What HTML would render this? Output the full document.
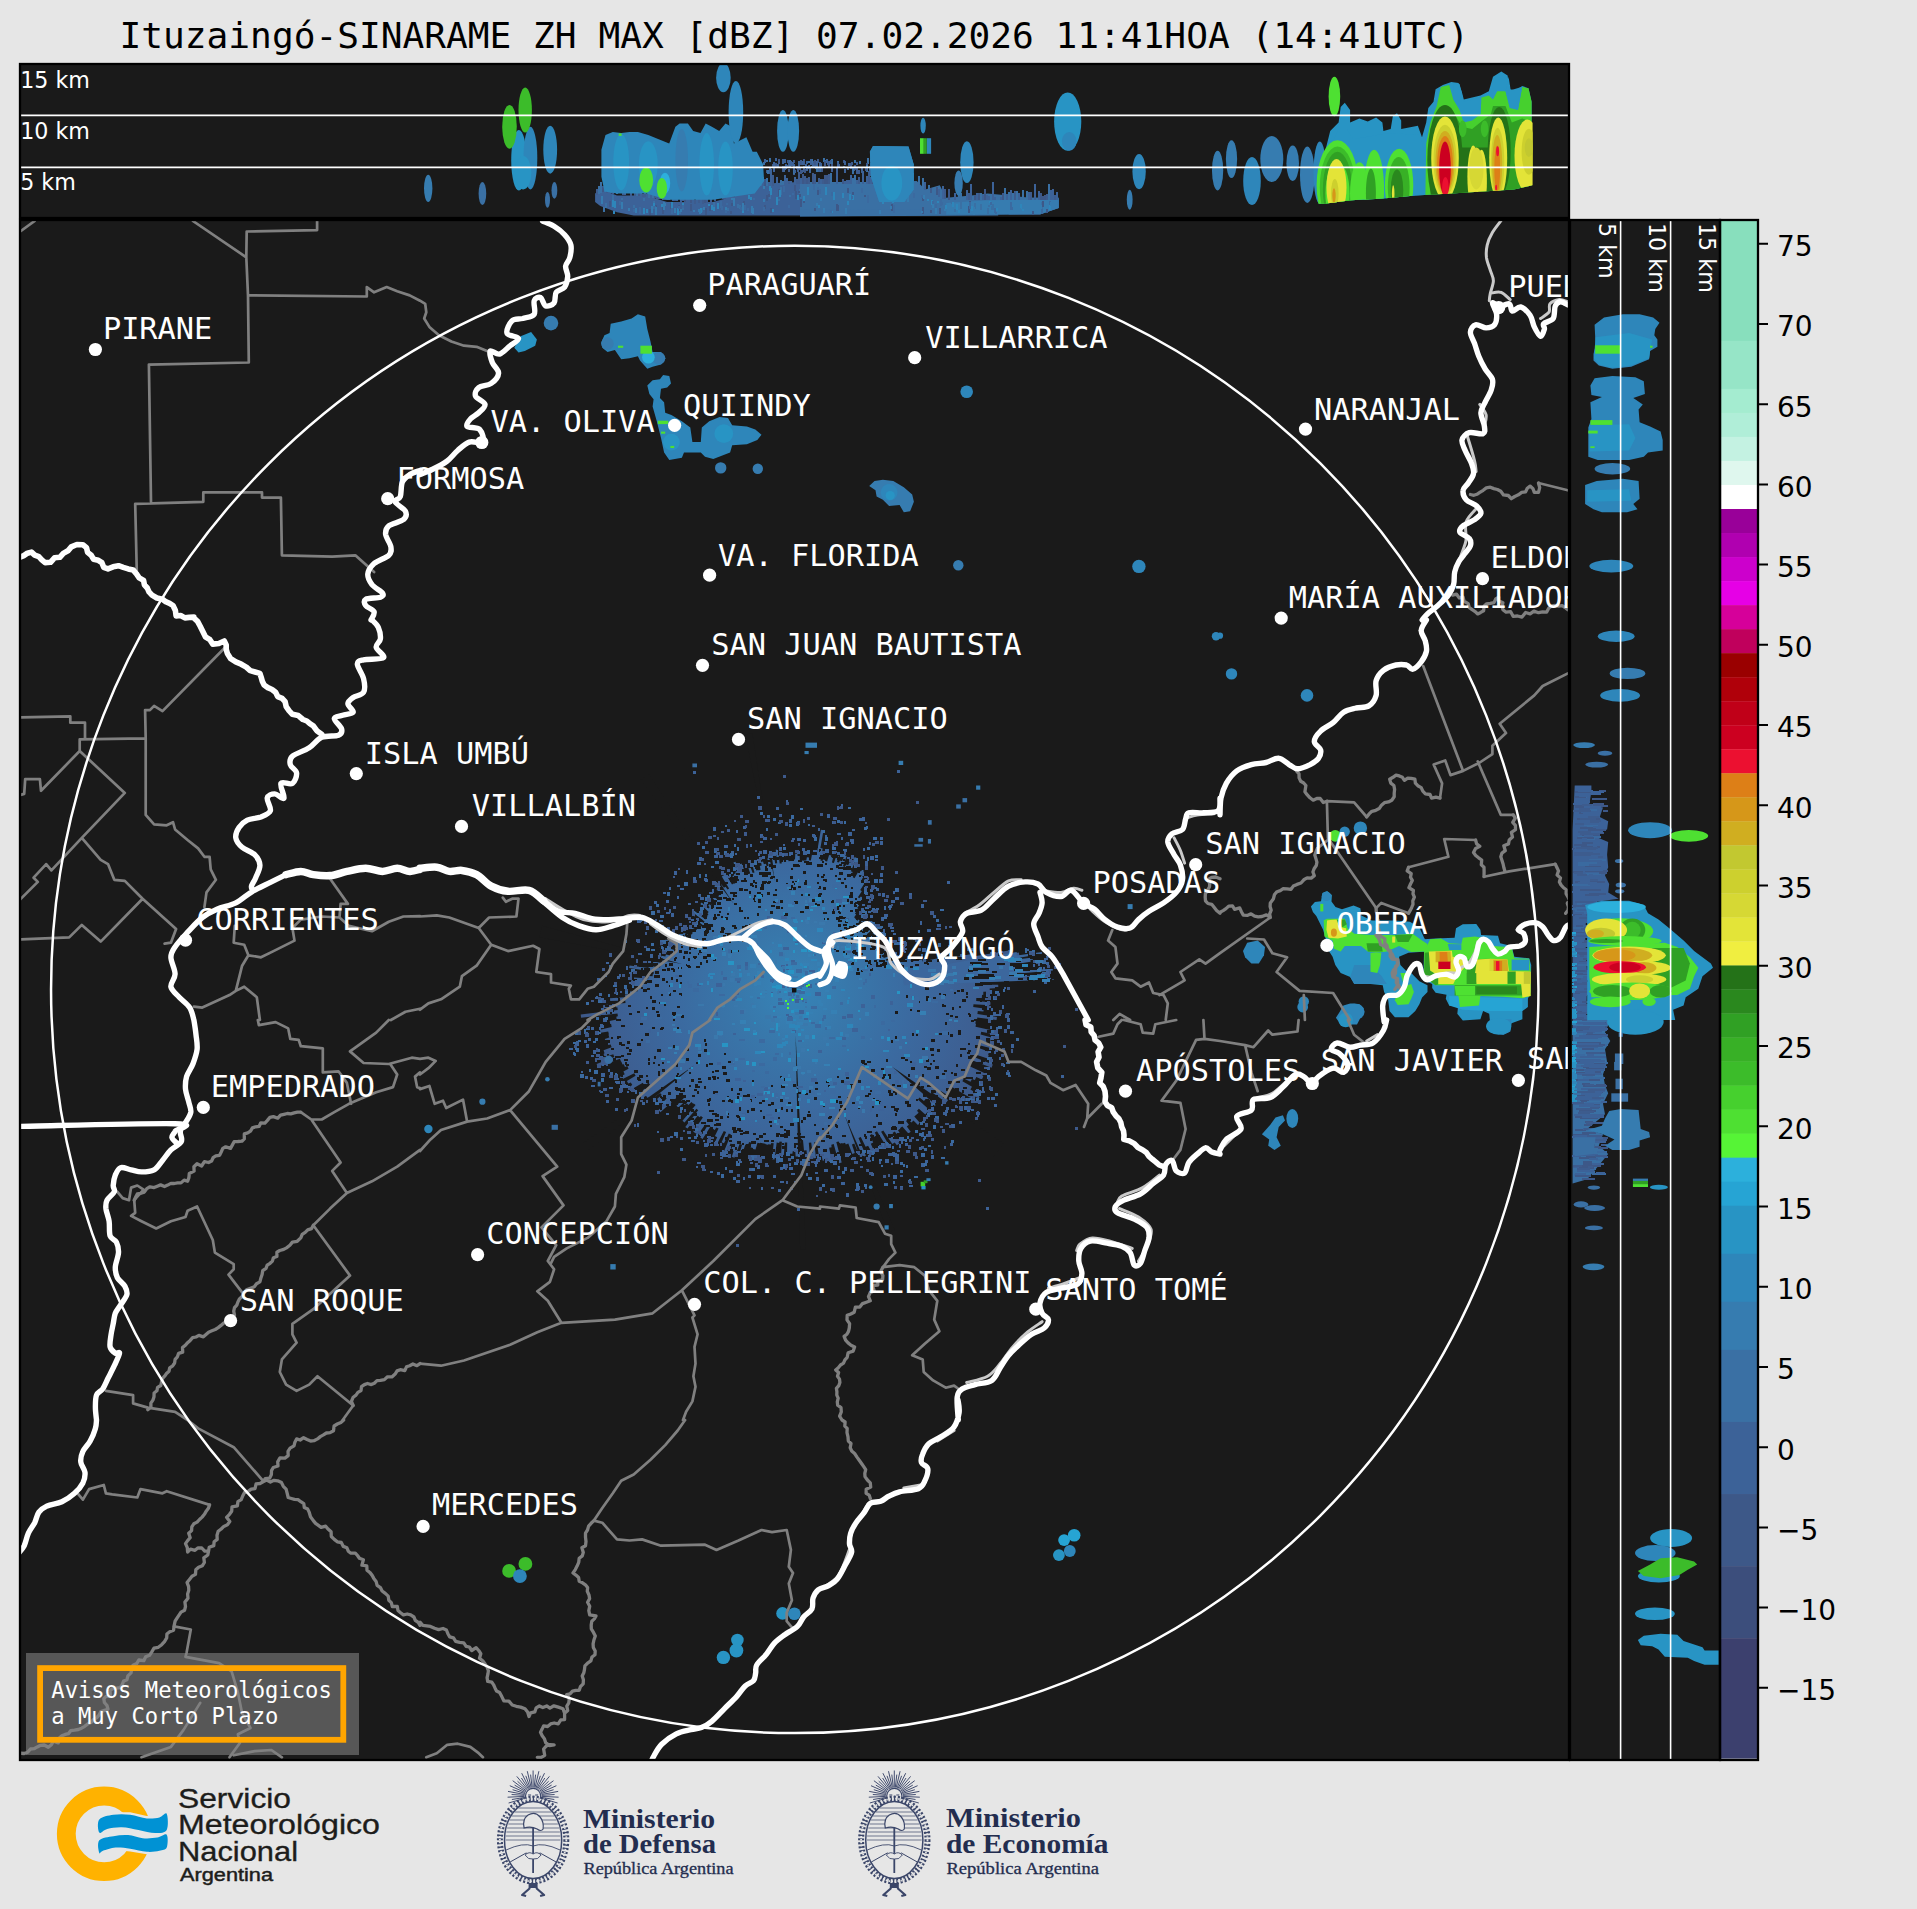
<!DOCTYPE html>
<html lang="es"><head><meta charset="utf-8"><title>Ituzaingó-SINARAME ZH MAX</title>
<style>
html,body{margin:0;padding:0;background:#e6e6e6;}
body{width:1917px;height:1909px;overflow:hidden;}
svg{display:block;}
.m{font-family:"DejaVu Sans Mono","Liberation Mono",monospace;}
.s{font-family:"DejaVu Sans","Liberation Sans",sans-serif;}
.ls{font-family:"Liberation Sans",sans-serif;}
.lr{font-family:"Liberation Serif",serif;}
</style></head><body>
<svg width="1917" height="1909" viewBox="0 0 1917 1909">
<rect width="1917" height="1909" fill="#e6e6e6"/>
<text class="m" x="119.5" y="48" font-size="36.16" fill="#000" xml:space="preserve">Ituzaingó-SINARAME ZH MAX [dBZ] 07.02.2026 11:41HOA (14:41UTC)</text>
<rect x="20" y="64" width="1549" height="154" fill="#1a1a1a"/>
<rect x="20" y="220" width="1549" height="1540" fill="#1a1a1a"/>
<rect x="1570" y="220" width="150" height="1540" fill="#1a1a1a"/>
<defs><clipPath id="cm"><rect x="21" y="221" width="1547" height="1538"/></clipPath><clipPath id="ct"><rect x="21" y="65" width="1547" height="152"/></clipPath><clipPath id="cr"><rect x="1571" y="221" width="148" height="1538"/></clipPath></defs>
<g clip-path="url(#cm)">
<defs><radialGradient id="cg" gradientUnits="userSpaceOnUse" cx="794" cy="990" r="215"><stop offset="0" stop-color="#3585b9"/><stop offset="0.25" stop-color="#3878ab"/><stop offset="0.55" stop-color="#3b6aa0"/><stop offset="0.85" stop-color="#3d5f92"/><stop offset="1" stop-color="#3d5888"/></radialGradient></defs>
<path d="M793 859.5 L795 859.5 L795.3 853.8 L797.4 853.8 L797.6 855.9 L799.7 856 L799.8 860.6 L801.8 860.7 L802 860.5 L804.1 860.7 L804.3 860.4 L806.3 860.6 L806.9 857.3 L809 857.5 L808.9 860.2 L810.9 860.4 L812.1 853.7 L814.2 854 L814.3 854.8 L816.5 855.1 L820.9 829.8 L823.5 830.3 L820.4 848.1 L822.7 848.5 L820.4 860.6 L822.5 861.1 L823 859.6 L825.1 860.1 L825.1 861 L827.1 861.5 L829.1 854.9 L831.2 855.4 L831 857.1 L833.1 857.7 L831.9 862.5 L833.9 863.1 L836.6 855.2 L838.7 855.9 L837 861.9 L839 862.6 L839.9 860.6 L842 861.3 L844.5 855.2 L846.7 856 L842.9 866.3 L844.8 867 L846.2 864.4 L848.1 865.2 L849.8 862 L851.8 862.9 L854.7 857.1 L856.8 858.1 L850.8 871.2 L852.7 872.1 L851.3 875.3 L853.1 876.2 L852.8 877.3 L854.5 878.3 L859 870.5 L860.9 871.5 L862.2 869.8 L864 870.8 L861.4 875.8 L863.2 876.9 L861.7 879.8 L863.4 880.9 L864.7 879.3 L866.4 880.4 L860.2 890.1 L861.8 891.2 L857.9 897.2 L859.3 898.2 L860.9 896.5 L862.3 897.5 L862.3 897.9 L863.7 899 L857.1 908 L858.4 909 L854.9 913.5 L856.1 914.5 L854.1 917.2 L855.2 918.2 L855.1 918.6 L856.2 919.6 L856.3 919.7 L857.4 920.7 L858.6 919.6 L859.7 920.7 L858.4 922.2 L859.5 923.2 L862.1 920.8 L863.2 921.9 L866.5 918.9 L867.6 920.1 L862.2 925.4 L863.2 926.5 L863.7 926.2 L864.7 927.4 L872 921.1 L873.1 922.4 L864.7 929.7 L865.7 930.8 L865.9 930.9 L866.8 932 L869.6 930 L870.5 931.2 L867.1 934 L868 935.1 L869.3 934.4 L870.2 935.6 L877.9 930.3 L878.8 931.6 L872.3 936.3 L873.1 937.5 L883.5 930.9 L884.4 932.3 L879.4 935.7 L880.3 937 L879.8 937.5 L880.6 938.9 L874.1 942.9 L874.9 944.2 L873.6 945 L874.3 946.3 L874.6 946.4 L875.2 947.6 L876 947.4 L876.6 948.7 L886.9 943.8 L887.6 945.3 L877.4 950.3 L878 951.6 L878.4 951.6 L879 953 L879.2 953.1 L879.7 954.4 L884.3 952.7 L884.9 954.1 L881.6 955.6 L882.1 957 L883.2 956.7 L883.7 958.1 L890.9 955.8 L891.5 957.3 L885.8 959.4 L886.3 960.8 L890.1 959.8 L890.6 961.3 L898.5 959.2 L898.9 960.8 L913.8 956.9 L914.3 958.8 L910.6 959.9 L911.1 961.8 L922.2 959.3 L922.6 961.4 L944.1 956.9 L944.6 959.2 L974.1 953.5 L974.7 956.3 L1008.7 950.4 L1009.3 953.8 L1018.8 952.6 L1019.4 956.1 L988.3 961.1 L988.7 964.2 L997.1 963.4 L997.5 966.6 L983.4 968.6 L983.7 971.6 L1029.1 967.6 L1029.5 971.3 L1012.3 973 L1012.6 976.4 L1031.7 975.7 L1031.9 979.4 L986.3 981.8 L986.4 984.8 L998.2 984.8 L998.3 988 L989.7 988.5 L989.7 991.5 L983.3 991.8 L983.3 994.8 L982 995.1 L981.8 998 L976.3 998.1 L976.2 1001 L990.5 1002.2 L990.3 1005.3 L973.5 1004.3 L973.2 1007.1 L983.8 1008.4 L983.4 1011.4 L977.8 1011.1 L977.4 1014 L997 1016.9 L996.5 1020.1 L977.3 1017.6 L976.9 1020.4 L975.9 1020.6 L975.3 1023.4 L976 1023.9 L975.5 1026.8 L995 1031.1 L994.3 1034.2 L981.2 1031.7 L980.6 1034.6 L991.4 1037.6 L990.6 1040.7 L986.7 1040 L985.9 1043 L990.3 1044.6 L989.4 1047.7 L980.3 1045.4 L979.4 1048.3 L989.1 1051.7 L988.1 1054.7 L988.7 1055.3 L987.6 1058.4 L976.2 1054.7 L975.2 1057.6 L992.8 1064.5 L991.6 1067.7 L971.4 1060 L970.2 1062.8 L970.2 1063.2 L969 1065.9 L983.8 1072.7 L982.4 1075.7 L983.3 1076.5 L981.9 1079.4 L976.3 1077.1 L974.9 1080 L972 1078.9 L970.5 1081.7 L963.8 1078.6 L962.4 1081.2 L972 1086.8 L970.4 1089.6 L980.5 1095.7 L978.8 1098.6 L972.8 1095.5 L971.1 1098.3 L952.5 1087.3 L950.9 1089.8 L948.6 1088.7 L947 1091.1 L948.9 1092.7 L947.3 1095.1 L940.8 1091.1 L939.2 1093.4 L948.1 1100.1 L946.3 1102.5 L931.9 1092.2 L930.2 1094.4 L937.6 1100.4 L935.9 1102.7 L936.7 1103.7 L934.9 1105.9 L925.8 1098.8 L924 1100.9 L919.6 1097.5 L917.9 1099.4 L932.6 1112.8 L930.6 1115 L927.2 1112.3 L925.3 1114.4 L918.9 1108.7 L917 1110.7 L918.6 1112.7 L916.7 1114.6 L916.3 1114.7 L914.3 1116.6 L920 1123 L917.9 1124.9 L913.5 1120.6 L911.4 1122.5 L908.1 1119.2 L906 1121 L908.9 1124.8 L906.8 1126.6 L910.7 1131.8 L908.4 1133.6 L902.3 1126.4 L900.1 1128.1 L900.2 1128.7 L898 1130.3 L900.3 1133.9 L898 1135.5 L894.7 1131.5 L892.5 1133 L899.3 1143.5 L896.9 1145.2 L894.7 1142.4 L892.3 1144 L883.3 1130.4 L881.1 1131.8 L889.8 1146.6 L887.3 1148.1 L877 1131.2 L874.8 1132.5 L876.2 1135.6 L873.9 1136.9 L872 1134 L869.8 1135.2 L873.2 1142.5 L870.8 1143.7 L873.8 1150.4 L871.3 1151.6 L868.1 1145.7 L865.6 1146.8 L860.8 1136.9 L858.5 1138 L865.9 1155.7 L863.3 1156.8 L862.6 1156 L860 1157 L854.3 1143.4 L851.9 1144.4 L854.8 1153.1 L852.3 1154.1 L848.3 1143.6 L845.8 1144.5 L845 1142.8 L842.6 1143.5 L842.1 1143 L839.7 1143.7 L838.7 1141.4 L836.3 1142 L841.7 1162.5 L839 1163.2 L833.7 1144.1 L831.3 1144.7 L831.6 1147.3 L829.1 1147.8 L831.9 1161.6 L829.2 1162.2 L828.7 1161.1 L826 1161.6 L825.4 1160.2 L822.7 1160.7 L821.3 1154 L818.7 1154.4 L816.6 1141.9 L814.2 1142.3 L816 1158.1 L813.3 1158.5 L811.2 1142.4 L808.8 1142.7 L810 1157.8 L807.4 1158 L806.5 1150.3 L804 1150.4 L803 1140.1 L800.7 1140.2 L800.6 1143.2 L798.1 1143.2 L798.2 1156.5 L795.6 1156.6 L795.3 1151.2 L792.7 1151.2 L792.4 1153.7 L789.9 1153.7 L789.5 1154.6 L787 1154.5 L787.2 1142.6 L784.8 1142.5 L783.6 1158.1 L780.9 1157.9 L781.9 1141.7 L779.6 1141.5 L779.1 1142.9 L776.7 1142.6 L774.5 1159.6 L771.9 1159.2 L773.7 1143.3 L771.3 1142.9 L770.8 1144.6 L768.3 1144.2 L768 1144.7 L765.6 1144.2 L765.4 1143.8 L762.9 1143.3 L762.7 1143.3 L760.3 1142.7 L759.9 1143.3 L757.5 1142.8 L755.5 1149.6 L753 1148.9 L753 1147.9 L750.5 1147.3 L751.5 1142.7 L749.1 1142 L747.8 1145.4 L745.4 1144.6 L741.9 1154.6 L739.4 1153.8 L742.1 1144.8 L739.6 1144 L734.4 1157.8 L731.8 1156.8 L733.6 1151.2 L731 1150.2 L733 1144.4 L730.6 1143.4 L726 1153.8 L723.4 1152.7 L731 1134.4 L728.8 1133.4 L724 1143.3 L721.6 1142.2 L726.1 1132.1 L723.8 1131 L717.3 1143.5 L714.9 1142.3 L717.2 1137.2 L714.9 1136 L718.6 1128.6 L716.4 1127.4 L714.7 1129.9 L712.5 1128.6 L712.6 1127.9 L710.5 1126.6 L702.6 1138.9 L700.3 1137.4 L707.3 1125.9 L705.1 1124.5 L698 1134.8 L695.7 1133.3 L695.4 1133.2 L693.2 1131.6 L702.9 1117.4 L700.9 1116 L699.7 1117.2 L697.7 1115.7 L687.4 1128.6 L685.3 1127 L698.2 1110.2 L696.4 1108.7 L684.5 1122.5 L682.5 1120.8 L695.6 1105 L693.8 1103.4 L693.2 1103.7 L691.4 1102.1 L688.5 1104.9 L686.7 1103.3 L684.7 1104.9 L682.9 1103.2 L678.3 1107.5 L676.5 1105.7 L684.4 1097.5 L682.7 1095.8 L682.4 1095.8 L680.7 1094 L660.4 1112.2 L658.5 1110.1 L665.3 1103.7 L663.5 1101.7 L666.6 1098.6 L664.9 1096.6 L658.8 1101.3 L657 1099.1 L661.8 1095 L660.1 1092.9 L651 1099.5 L649.3 1097.3 L647.7 1098.1 L646 1095.8 L642 1098.2 L640.3 1095.8 L644.4 1092.7 L642.8 1090.3 L650.1 1085.1 L648.6 1082.8 L644.3 1085.2 L642.8 1082.8 L629.6 1090.5 L628 1088 L632.3 1085.1 L630.8 1082.5 L628.3 1083.5 L626.9 1080.9 L635.6 1075.8 L634.3 1073.3 L621.2 1079.7 L619.8 1077 L624.7 1074.2 L623.4 1071.6 L628.5 1068.7 L627.3 1066.1 L625 1066.9 L623.8 1064.2 L622.6 1064.4 L621.4 1061.7 L621 1061.5 L619.9 1058.7 L597.7 1067.1 L596.6 1064 L614.3 1057 L613.3 1054.2 L604.6 1056.9 L603.6 1053.9 L604.5 1053.2 L603.6 1050.2 L611.6 1047.3 L610.7 1044.5 L608.2 1044.9 L607.4 1041.9 L605.6 1042.1 L604.8 1039.1 L609.3 1037.6 L608.5 1034.7 L608.9 1034.3 L608.2 1031.4 L600.5 1032.7 L599.9 1029.7 L611.7 1026.9 L611.1 1024.1 L610.2 1023.9 L609.7 1021 L616.7 1019.5 L616.3 1016.7 L617.9 1016.2 L617.5 1013.4 L581.1 1017.8 L580.7 1014.5 L617.7 1009.9 L617.4 1007.2 L603.3 1008.2 L603 1005.2 L625.5 1003.1 L625.3 1000.5 L610.2 1001.1 L610 998.2 L625.2 997.2 L625.1 994.6 L629.4 994.2 L629.4 991.6 L637.7 991.2 L637.7 988.8 L635.7 988.5 L635.7 986 L634 985.7 L634.1 983.2 L631 982.7 L631.2 980.2 L633.8 980.1 L634 977.5 L648.3 978.4 L648.5 976.1 L652.6 976.3 L652.8 974 L653.5 973.9 L653.8 971.7 L629.1 968.1 L629.5 965.6 L648.5 968.1 L648.9 965.8 L660 967.5 L660.4 965.4 L652.9 963.7 L653.3 961.5 L662 963 L662.4 961 L662.4 960.7 L662.9 958.6 L660.9 957.9 L661.4 955.8 L665.4 956.6 L665.9 954.6 L670.2 955.5 L670.7 953.6 L660.6 950.4 L661.3 948.3 L659.7 947.5 L660.4 945.4 L674.4 949.9 L675.1 948 L676.8 948.4 L677.5 946.6 L664.9 941.6 L665.7 939.6 L670.5 941.2 L671.3 939.3 L669.6 938.4 L670.5 936.4 L679.3 940 L680.1 938.2 L685.3 940.3 L686.1 938.6 L684.1 937.5 L684.9 935.7 L682.8 934.5 L683.7 932.7 L690.3 935.9 L691.2 934.3 L691.9 934.4 L692.7 932.8 L692.2 932.3 L693.2 930.7 L688.4 927.7 L689.4 926 L696.4 930.1 L697.4 928.6 L697.9 928.7 L698.9 927.2 L698.9 927 L699.9 925.5 L702.4 926.9 L703.4 925.5 L693.4 918.1 L694.6 916.6 L703.5 922.9 L704.6 921.5 L693 912.4 L694.3 910.8 L705.4 919.4 L706.5 918 L706.4 917.6 L707.5 916.3 L707.2 915.8 L708.4 914.4 L707.5 913.3 L708.7 912 L700.3 904 L701.7 902.5 L708.3 908.5 L709.6 907.2 L708.2 905.5 L709.5 904.2 L711 905.4 L712.4 904.1 L712.6 904 L713.9 902.8 L714.4 902.9 L715.7 901.7 L711.6 896.7 L713 895.4 L716.4 899 L717.9 897.8 L717.7 897.3 L719.2 896.1 L717.9 894.1 L719.4 892.9 L714.3 886 L716 884.7 L714.9 882.9 L716.6 881.7 L719.7 885.7 L721.4 884.5 L723.9 887.8 L725.5 886.8 L727.6 889.4 L729.1 888.4 L721.8 876.4 L723.6 875.3 L724.7 876.7 L726.5 875.6 L732 884.6 L733.7 883.6 L734.1 883.8 L735.7 882.9 L732.4 876.3 L734.2 875.3 L733.8 874.2 L735.7 873.3 L735.3 872 L737.2 871.1 L733.4 862.6 L735.4 861.7 L739 869.1 L740.9 868.3 L739.5 864.4 L741.5 863.6 L746.4 874.7 L748.2 874 L748.5 874.1 L750.3 873.4 L747.9 866.5 L749.9 865.8 L752.7 873 L754.5 872.4 L752.9 866.8 L754.8 866.2 L756.4 870.4 L758.3 869.9 L758.7 870.4 L760.6 869.8 L759.8 866.1 L761.7 865.6 L761 862 L763 861.5 L763.9 864.3 L765.9 863.8 L766.7 866.2 L768.6 865.8 L767.3 858.4 L769.4 858 L771.1 865.9 L773.1 865.5 L772 857.7 L774.1 857.3 L775.2 863.5 L777.2 863.3 L775.7 849.7 L777.9 849.5 L779.7 863.6 L781.7 863.4 L781.6 860.1 L783.7 859.9 L784 862 L786.1 861.9 L785.7 853 L787.9 852.9 L788.5 861.2 L790.5 861.1 L790.7 859.9 L792.8 859.9Z" fill="url(#cg)"/>
<path d="M795.6 1035 L806 1249.7 L800.1 1249.9Z" fill="#1a1a1a"/>
<path d="M892.5 1067 L1003.7 1143.7 L993.9 1156.3Z" fill="#1a1a1a"/>
<path d="M694.2 1065.2 L589.1 1150.1 L583.7 1142.8Z" fill="#1a1a1a"/>
<path d="M681.9 964.1 L539.4 937.3 L542.1 925.8Z" fill="#1a1a1a"/>
<path d="M774.9 881.7 L745.3 734.6 L752.4 733.3Z" fill="#1a1a1a"/>
<path d="M844.6 1115.2 L894.8 1229.7 L888 1232.4Z" fill="#1a1a1a"/>
<path d="M733.8 904 L640.8 779.9 L649 774.2Z" fill="#1a1a1a"/>
<path d="M902.5 971.8 L1016.6 951.9 L1016.9 953.5 L1016.5 954 L1016.8 955.5 L1041.9 952.1 L1042.1 953.8 L1020.5 957.4 L1020.7 958.9 L1051.4 955.2 L1051.6 957 L1030.4 960.1 L1030.6 961.8 L1016.3 963.9 L1016.5 965.4 L1018.2 965.6 L1018.3 967.2 L1027.4 966.7 L1027.6 968.3 L1039.3 967.7 L1039.4 969.4 L1052.7 968.7 L1052.9 970.5 L1015.3 973.7 L1015.4 975.3 L1027 974.9 L1027.1 976.6 L1018.7 977.4 L1018.7 979 L1054.5 977.7 L1054.6 979.5 L903.9 985.2Z" fill="#3c679d"/>
<path d="M843 951h2v2h-2zM913 1140h3v2h-3zM749 891h2v3h-2zM821 856h3v3h-3zM836 1100h2v3h-2zM851 887h2v2h-2zM919 1123h5v3h-5zM645 1033h4v3h-4zM874 960h3v2h-3zM698 1078h3v2h-3zM907 1104h4v3h-4zM845 867h5v3h-5zM770 911h3v3h-3zM985 1049h6v2h-6zM821 1164h3v3h-3zM710 954h3v2h-3zM802 843h3v2h-3zM944 1070h3v2h-3zM784 1129h2v2h-2zM888 1134h5v3h-5zM847 1097h2v3h-2zM708 1077h3v3h-3zM783 844h4v2h-4zM837 1161h2v2h-2zM950 1034h3v3h-3zM943 994h3v2h-3zM865 960h3v2h-3zM951 1072h2v2h-2zM696 1062h3v2h-3zM855 909h2v3h-2zM823 879h2v2h-2zM893 950h4v2h-4zM928 1119h3v3h-3zM705 1043h4v3h-4zM927 963h2v2h-2zM878 965h4v2h-4zM672 938h5v3h-5zM937 1049h3v3h-3zM831 901h3v2h-3zM706 1064h2v3h-2zM629 1049h3v3h-3zM848 1086h4v3h-4zM846 1077h3v2h-3zM895 1113h2v3h-2zM729 898h2v3h-2zM727 1116h2v2h-2zM806 861h3v2h-3zM736 873h4v2h-4zM855 952h2v2h-2zM916 1126h4v3h-4zM744 857h5v3h-5zM744 889h4v2h-4zM657 1103h4v3h-4zM879 960h6v2h-6zM758 901h3v2h-3zM879 928h2v2h-2zM696 926h5v2h-5zM842 1158h5v3h-5zM961 989h3v3h-3zM791 1109h2v3h-2zM826 1135h4v3h-4zM689 948h2v2h-2zM910 1084h3v2h-3zM819 893h3v2h-3zM838 867h5v2h-5zM848 868h4v2h-4zM727 913h2v2h-2zM841 882h3v2h-3zM968 1077h5v2h-5zM767 872h4v3h-4zM892 1084h3v2h-3zM691 1079h3v3h-3zM880 942h2v2h-2zM935 1107h6v2h-6zM755 1160h5v3h-5zM888 1077h3v2h-3zM839 1109h2v3h-2zM703 947h4v3h-4zM610 1010h4v2h-4zM694 1089h3v2h-3zM851 938h2v2h-2zM839 864h3v2h-3zM763 1133h3v2h-3zM896 960h5v2h-5zM754 895h2v3h-2zM861 893h3v3h-3zM776 906h4v3h-4zM707 1119h6v3h-6zM749 924h4v2h-4zM872 1106h2v2h-2zM804 861h4v2h-4zM776 1147h3v2h-3zM846 866h5v2h-5zM864 1157h4v3h-4zM792 881h2v2h-2zM968 1094h5v2h-5zM745 1131h4v3h-4zM999 1050h2v2h-2zM805 880h2v2h-2zM749 865h3v2h-3zM935 1066h4v3h-4zM821 1140h4v2h-4zM616 1019h5v2h-5zM714 1124h4v2h-4zM856 917h2v3h-2zM677 1027h2v2h-2zM603 1056h4v3h-4zM759 872h4v3h-4zM871 968h2v2h-2zM686 935h5v3h-5zM863 892h4v3h-4zM841 1080h3v3h-3zM837 853h3v3h-3zM728 1061h3v2h-3zM861 1150h3v3h-3zM763 1116h2v3h-2zM839 966h2v3h-2zM630 977h4v3h-4zM803 1153h2v3h-2zM761 872h6v2h-6zM927 960h5v2h-5zM709 1063h4v2h-4zM695 1085h3v3h-3zM714 891h5v2h-5zM962 1048h4v2h-4zM924 1127h4v3h-4zM704 1125h6v2h-6zM926 1059h3v3h-3zM870 948h5v2h-5zM835 1160h4v2h-4zM628 985h4v2h-4zM773 857h6v3h-6zM930 1063h2v2h-2zM773 901h3v2h-3zM780 852h5v3h-5zM863 906h3v2h-3zM815 1082h3v2h-3zM794 1143h5v2h-5zM708 1103h2v3h-2zM611 1048h3v2h-3zM640 1098h4v2h-4zM675 1087h3v3h-3zM854 905h3v2h-3zM957 990h3v2h-3zM697 1091h2v3h-2zM671 968h3v2h-3zM825 863h2v2h-2zM858 903h4v2h-4zM782 1146h5v3h-5zM761 894h2v3h-2zM779 1162h4v3h-4zM954 992h2v2h-2zM860 862h5v3h-5zM960 1048h4v2h-4zM789 844h5v2h-5zM757 913h2v3h-2zM661 1097h2v3h-2zM684 929h3v3h-3zM644 981h3v3h-3zM601 1047h5v2h-5zM667 944h3v2h-3zM961 1069h4v2h-4zM936 1111h5v2h-5zM739 1118h2v3h-2zM724 1053h2v2h-2zM755 867h3v2h-3zM723 935h3v3h-3zM688 966h3v2h-3zM693 1113h4v3h-4zM621 1055h3v2h-3zM942 1004h2v3h-2zM798 1092h3v2h-3zM641 1039h2v2h-2zM862 947h4v3h-4zM625 1089h5v3h-5zM772 905h3v2h-3zM805 904h3v2h-3zM784 1136h4v2h-4zM857 1097h2v3h-2zM959 1097h6v2h-6zM922 1074h2v3h-2zM993 1045h3v3h-3zM969 1014h2v3h-2zM942 1073h3v2h-3zM711 1127h2v3h-2zM717 902h4v3h-4zM798 886h3v2h-3zM651 954h4v3h-4zM681 1101h6v2h-6zM646 1075h2v2h-2zM715 917h2v2h-2zM928 1114h3v3h-3zM849 966h2v3h-2zM730 1135h2v3h-2zM818 894h3v3h-3zM826 1081h3v2h-3zM816 1132h2v2h-2zM689 1072h2v2h-2zM837 1076h2v2h-2zM910 966h3v2h-3zM974 1019h3v2h-3zM927 1108h4v2h-4zM740 1133h3v2h-3zM800 911h4v2h-4zM891 1106h4v2h-4zM758 857h6v2h-6zM752 865h5v2h-5zM683 956h2v3h-2zM818 1154h3v3h-3zM738 1115h2v3h-2zM705 906h2v2h-2zM960 1054h2v3h-2zM896 1109h2v3h-2zM895 1011h3v3h-3zM871 1135h2v3h-2zM669 939h6v2h-6zM696 918h3v3h-3zM756 1138h3v2h-3zM588 1026h3v2h-3zM822 1114h3v2h-3zM674 958h2v3h-2zM710 1144h6v3h-6zM727 1096h2v2h-2zM882 949h5v3h-5zM781 1107h2v3h-2zM882 1077h3v2h-3zM871 938h3v3h-3zM805 906h4v3h-4zM728 1099h3v3h-3zM855 902h6v2h-6zM819 886h2v3h-2zM836 917h4v3h-4zM714 914h2v3h-2zM661 1027h3v2h-3zM653 1106h6v3h-6zM712 930h2v2h-2zM886 941h3v2h-3zM719 881h2v3h-2zM602 1040h5v2h-5zM895 1036h2v3h-2zM715 1114h4v3h-4zM926 996h3v3h-3zM861 953h2v2h-2zM829 1162h2v2h-2zM1011 949h3v2h-3zM757 853h3v2h-3zM836 1125h2v3h-2zM851 926h3v2h-3zM659 1002h3v2h-3zM840 1105h3v3h-3zM925 987h4v3h-4zM924 1066h3v2h-3zM989 1079h2v2h-2zM846 850h2v3h-2zM862 916h3v3h-3zM792 845h4v3h-4zM745 925h3v2h-3zM784 913h4v3h-4zM784 1133h6v3h-6zM866 1156h2v3h-2zM850 942h2v2h-2zM857 968h2v3h-2zM680 982h2v2h-2zM731 1100h2v3h-2zM687 921h6v3h-6zM689 922h5v2h-5zM732 892h5v2h-5zM702 938h2v3h-2zM715 1145h3v3h-3zM845 885h2v3h-2zM646 963h6v2h-6zM860 908h3v2h-3zM771 1085h2v2h-2zM713 1077h3v3h-3zM733 1159h2v2h-2zM652 1000h4v3h-4zM771 1151h2v3h-2zM673 1015h2v3h-2zM800 1136h5v2h-5zM865 1095h4v2h-4zM727 934h4v3h-4zM669 993h2v3h-2zM615 1056h6v2h-6zM746 865h5v3h-5zM948 1081h4v3h-4zM671 937h2v3h-2zM757 853h2v3h-2zM801 894h2v2h-2zM933 1060h2v2h-2zM875 922h3v2h-3zM706 891h2v3h-2zM686 1100h4v2h-4zM776 1133h2v3h-2zM849 926h2v2h-2zM850 850h6v3h-6zM699 1139h3v2h-3zM706 890h6v3h-6zM613 1006h3v3h-3zM725 1137h4v3h-4zM746 1144h5v3h-5zM927 1067h4v3h-4zM772 876h3v2h-3zM721 928h4v3h-4zM801 1120h2v3h-2zM823 912h4v2h-4zM709 1098h2v3h-2zM704 938h2v2h-2zM785 857h4v3h-4zM934 1095h4v3h-4zM776 1152h3v3h-3zM584 1046h2v3h-2zM798 851h6v2h-6zM765 868h3v3h-3zM707 1099h3v3h-3zM958 1030h3v3h-3zM768 1145h3v2h-3zM706 927h5v3h-5zM931 1039h4v3h-4zM739 1088h3v3h-3zM769 864h4v3h-4zM875 1153h4v2h-4zM733 1130h4v3h-4zM793 864h6v3h-6zM923 1094h3v3h-3zM634 1070h4v3h-4zM892 1126h4v2h-4zM767 872h3v3h-3zM679 993h3v3h-3zM881 1068h3v2h-3zM862 908h3v3h-3zM769 1157h4v2h-4zM843 867h2v3h-2zM674 1101h3v2h-3zM981 1059h4v3h-4zM833 935h2v2h-2zM882 945h4v3h-4zM723 897h4v2h-4zM844 937h4v2h-4zM811 899h4v3h-4zM686 936h2v2h-2zM737 1096h2v3h-2zM910 1009h2v2h-2zM927 1085h5v2h-5zM718 897h4v3h-4zM872 940h4v3h-4zM713 917h3v3h-3zM799 1160h2v3h-2zM720 1116h3v3h-3zM814 846h4v2h-4zM862 1062h3v3h-3zM750 1099h4v3h-4zM962 1090h2v3h-2zM908 1074h2v3h-2zM945 1022h2v3h-2zM658 1071h2v2h-2zM660 1028h3v2h-3zM743 1132h4v2h-4zM915 964h4v2h-4zM968 1043h2v2h-2zM610 1083h3v3h-3zM897 1085h4v2h-4zM865 919h4v2h-4zM987 1015h3v2h-3zM737 1116h3v2h-3zM603 1059h4v3h-4zM742 926h3v3h-3zM887 955h4v2h-4zM692 945h3v3h-3zM705 930h4v3h-4zM928 1111h5v3h-5zM619 1042h3v3h-3zM850 910h3v2h-3zM673 1019h2v2h-2zM867 1147h2v3h-2zM742 1143h2v2h-2zM640 1023h3v3h-3zM758 906h3v2h-3zM711 907h2v2h-2zM821 876h3v2h-3zM881 1142h6v2h-6zM869 872h3v3h-3zM607 1062h3v2h-3zM903 959h2v3h-2zM832 855h6v3h-6zM879 939h4v3h-4zM838 878h3v2h-3zM876 964h2v3h-2zM662 1062h2v2h-2zM780 1134h5v3h-5zM606 1041h2v3h-2zM853 925h2v2h-2zM709 1110h5v2h-5zM959 1032h2v2h-2zM836 884h2v2h-2zM621 1044h4v2h-4zM822 1128h2v2h-2zM830 868h3v2h-3zM973 1091h3v2h-3zM762 874h6v3h-6zM733 880h4v3h-4zM858 870h2v3h-2zM939 1033h4v2h-4zM861 900h5v3h-5zM675 1080h2v3h-2zM873 921h5v2h-5zM862 905h3v2h-3zM799 1136h2v3h-2zM712 1071h2v2h-2zM867 928h3v2h-3zM707 926h4v3h-4zM689 922h6v3h-6zM832 911h3v3h-3zM824 918h2v2h-2zM861 1060h4v3h-4zM732 1127h4v3h-4zM864 1134h2v3h-2zM682 1110h2v3h-2zM975 1045h3v3h-3zM872 923h4v2h-4zM619 1001h2v3h-2zM755 885h2v3h-2zM870 1090h2v2h-2zM759 1102h3v2h-3zM884 953h3v2h-3zM743 1095h4v2h-4zM700 920h3v2h-3zM742 1149h4v2h-4zM625 1062h2v3h-2zM870 925h4v3h-4zM867 1061h4v2h-4zM823 1104h2v3h-2zM747 917h2v2h-2zM727 873h2v3h-2zM958 1096h4v3h-4zM922 1115h5v3h-5zM726 1079h4v3h-4zM706 960h2v3h-2zM931 1096h4v3h-4zM807 894h3v2h-3zM878 929h3v2h-3zM994 990h5v3h-5zM911 1067h4v3h-4zM704 902h4v2h-4zM680 938h3v3h-3zM627 1053h4v2h-4zM770 1125h2v2h-2zM923 958h3v3h-3zM894 1108h2v3h-2zM727 1113h2v2h-2zM840 1165h2v2h-2zM861 937h2v3h-2zM923 1092h4v2h-4zM822 861h2v2h-2zM676 1097h3v3h-3zM700 962h2v3h-2zM768 881h3v2h-3zM931 1090h5v3h-5zM936 1076h3v3h-3zM714 887h5v2h-5zM801 846h5v3h-5zM736 1115h2v2h-2zM871 929h5v3h-5zM892 951h6v2h-6zM921 1086h3v2h-3zM931 1054h3v2h-3zM643 982h4v2h-4zM875 1100h4v3h-4zM705 912h2v2h-2zM765 866h2v2h-2zM721 916h2v2h-2zM879 955h2v3h-2zM900 964h2v3h-2zM892 1134h5v2h-5zM850 1084h4v3h-4zM639 964h3v3h-3zM742 939h3v3h-3zM841 862h5v2h-5zM853 951h2v3h-2zM689 946h4v2h-4zM648 1086h3v2h-3zM980 999h2v3h-2zM743 1149h6v3h-6zM769 1121h3v2h-3zM753 1097h3v2h-3zM787 884h2v2h-2zM715 1070h4v2h-4zM751 1108h4v3h-4zM605 1005h4v2h-4zM618 1036h3v2h-3zM955 1098h5v2h-5zM744 917h2v2h-2zM664 941h5v2h-5zM927 1125h5v2h-5zM812 853h4v2h-4zM954 1073h3v3h-3zM716 907h6v2h-6zM741 869h4v3h-4zM956 1081h4v2h-4zM683 1124h2v2h-2zM921 957h3v2h-3zM725 931h2v3h-2zM609 1070h4v2h-4zM968 1050h3v2h-3zM826 1131h3v3h-3zM663 1095h3v3h-3zM817 882h2v2h-2zM864 928h4v3h-4zM677 1006h3v2h-3zM734 927h3v2h-3zM780 1076h2v2h-2zM680 1093h2v3h-2zM771 905h2v2h-2zM646 1007h2v2h-2zM918 1001h2v2h-2zM786 1130h4v3h-4zM952 1007h2v3h-2zM751 1141h5v3h-5zM956 1064h2v3h-2zM633 979h4v2h-4zM793 1161h4v3h-4zM685 934h2v2h-2zM837 857h3v3h-3zM994 1077h2v3h-2zM707 924h6v3h-6zM675 1102h3v3h-3zM898 1121h6v3h-6zM667 951h6v3h-6zM689 922h3v3h-3zM794 901h4v3h-4zM771 1140h3v2h-3zM872 935h4v2h-4zM934 1108h5v2h-5zM627 1041h3v3h-3zM646 1080h3v3h-3zM950 1015h3v2h-3zM842 1135h4v2h-4zM860 929h2v3h-2zM693 956h4v2h-4zM795 880h4v2h-4zM970 1055h5v3h-5zM722 948h3v2h-3zM882 963h3v3h-3zM732 877h5v3h-5zM619 987h5v3h-5zM907 1119h4v2h-4zM704 923h4v2h-4zM854 865h3v3h-3zM798 1158h2v2h-2zM829 1136h3v3h-3zM851 962h3v3h-3zM869 924h2v2h-2zM858 1080h3v3h-3zM645 972h4v2h-4zM859 867h4v3h-4zM641 987h2v2h-2zM805 1093h3v2h-3zM792 849h4v3h-4zM784 1078h4v3h-4zM780 1099h3v3h-3zM662 1069h3v3h-3zM648 1058h2v3h-2zM662 945h5v3h-5zM836 865h3v3h-3zM652 1027h3v2h-3zM839 1150h4v3h-4zM855 855h5v2h-5zM688 958h2v3h-2zM893 1137h4v2h-4zM861 1142h2v2h-2zM851 873h2v2h-2zM730 1149h3v2h-3zM653 1062h2v2h-2zM877 927h4v2h-4zM861 969h2v3h-2zM689 929h5v3h-5zM843 859h2v2h-2zM945 1032h4v3h-4zM597 1045h5v3h-5zM721 943h2v3h-2zM776 879h2v3h-2zM762 1100h3v2h-3zM629 1013h3v2h-3zM823 874h2v2h-2zM958 1033h3v2h-3zM872 965h3v2h-3zM883 962h4v3h-4zM692 1133h3v2h-3zM698 1054h3v3h-3zM836 1117h3v2h-3zM861 908h4v3h-4zM739 1153h6v3h-6zM821 864h2v3h-2zM863 927h5v2h-5zM676 1062h2v2h-2zM979 1094h5v3h-5zM867 882h4v2h-4zM768 1104h3v2h-3zM871 944h6v3h-6zM876 962h2v2h-2zM724 882h4v2h-4zM808 843h3v2h-3zM673 990h3v2h-3zM870 1138h2v3h-2zM861 919h4v2h-4zM662 969h4v2h-4zM910 1061h2v2h-2zM694 947h3v2h-3zM804 843h5v3h-5zM696 966h4v2h-4zM861 942h2v2h-2zM867 965h3v2h-3zM792 850h5v2h-5zM645 962h6v2h-6zM677 1107h3v2h-3zM771 865h5v3h-5zM677 927h2v3h-2zM674 949h3v3h-3zM650 958h5v2h-5zM652 960h4v2h-4zM828 1117h3v2h-3zM910 1134h5v3h-5zM861 880h3v3h-3zM798 865h2v2h-2zM816 1132h3v3h-3zM867 934h4v3h-4zM815 1088h3v2h-3zM789 887h3v3h-3zM633 1091h2v2h-2zM831 850h4v3h-4zM764 881h2v3h-2zM717 897h5v3h-5zM761 873h4v2h-4zM771 876h2v2h-2zM729 940h2v3h-2zM729 1140h3v2h-3zM611 1008h3v2h-3zM717 892h4v3h-4zM764 881h3v2h-3zM730 892h5v2h-5zM690 929h6v3h-6zM621 989h6v3h-6zM924 1056h3v2h-3zM891 950h4v2h-4zM876 947h5v2h-5zM753 1133h3v2h-3zM672 946h3v3h-3zM599 1041h5v3h-5zM716 1143h4v3h-4zM894 958h4v2h-4zM773 1149h2v3h-2zM673 969h2v3h-2zM995 1069h2v3h-2zM894 1134h5v3h-5zM675 957h2v2h-2zM692 1095h3v2h-3zM930 1048h4v3h-4zM630 1092h5v2h-5zM936 1111h4v3h-4zM855 926h2v2h-2zM637 1043h4v3h-4zM944 1005h2v2h-2zM635 986h3v2h-3zM857 954h2v3h-2zM913 1142h5v3h-5zM689 952h2v2h-2zM764 1140h5v2h-5zM605 1076h2v2h-2zM638 1079h3v2h-3zM993 1020h4v2h-4zM718 935h2v3h-2zM718 887h5v3h-5zM600 1047h4v3h-4zM655 971h4v3h-4zM734 903h3v2h-3zM928 1100h2v2h-2zM891 1040h2v3h-2zM917 1010h3v2h-3zM830 849h4v3h-4zM695 1084h3v2h-3zM956 957h2v3h-2zM681 946h2v2h-2zM817 864h5v3h-5zM675 1101h6v2h-6zM782 1143h2v2h-2zM767 882h3v2h-3zM668 1092h3v3h-3zM712 902h2v3h-2zM842 934h2v2h-2zM628 1005h3v2h-3zM618 998h2v3h-2zM749 857h6v2h-6zM856 972h4v3h-4zM737 1141h4v3h-4zM912 1033h2v3h-2zM844 1082h3v2h-3zM960 1100h5v3h-5zM850 892h3v3h-3zM711 880h2v3h-2zM889 965h2v2h-2zM583 1044h4v3h-4zM656 1011h3v2h-3zM846 946h4v3h-4zM819 849h2v3h-2zM894 960h4v3h-4zM739 1130h4v2h-4zM732 898h2v2h-2zM731 1088h2v3h-2zM837 1143h3v2h-3zM593 1029h2v3h-2zM694 905h3v3h-3zM856 923h3v2h-3zM660 946h2v3h-2zM661 994h2v2h-2zM869 878h4v2h-4zM904 1145h2v2h-2zM657 1106h5v2h-5zM810 851h4v2h-4zM703 956h4v3h-4zM862 904h5v2h-5zM819 857h2v2h-2zM643 1084h3v3h-3zM747 1110h2v3h-2zM911 959h2v3h-2zM723 1072h4v3h-4zM677 1047h2v2h-2zM850 901h3v3h-3zM869 934h5v2h-5zM837 905h4v2h-4zM776 1135h3v2h-3zM607 1010h2v2h-2zM820 855h5v2h-5zM753 880h2v3h-2zM736 950h3v2h-3zM855 952h3v3h-3zM946 1013h3v2h-3zM946 1088h5v3h-5zM679 975h3v2h-3zM771 1102h3v3h-3zM696 1086h4v2h-4zM773 894h4v2h-4zM661 1087h3v2h-3zM958 957h4v3h-4zM866 911h4v3h-4zM884 938h5v3h-5zM906 995h2v3h-2zM688 1105h4v2h-4zM701 1122h5v2h-5zM826 918h3v2h-3zM847 947h3v3h-3zM739 888h4v3h-4zM888 1136h3v2h-3zM828 1125h2v2h-2zM914 1131h2v2h-2zM658 1064h2v2h-2zM835 907h4v3h-4zM676 1064h2v3h-2zM868 884h3v3h-3zM739 1108h2v3h-2zM807 847h4v3h-4zM657 1014h3v3h-3zM916 1099h2v2h-2zM879 941h2v2h-2zM711 894h3v2h-3zM824 1159h2v2h-2zM712 941h2v3h-2zM839 1101h3v3h-3zM843 917h3v2h-3zM733 894h2v2h-2zM868 961h3v3h-3zM901 1057h4v2h-4zM807 1114h4v3h-4zM863 906h6v2h-6zM883 941h4v2h-4zM995 1009h5v2h-5zM835 1124h2v3h-2zM658 1073h2v3h-2zM808 1111h2v2h-2zM660 1096h2v2h-2zM678 1059h3v2h-3zM918 1135h3v2h-3zM932 1116h4v2h-4zM837 1152h3v2h-3zM1002 1037h2v3h-2zM705 1144h3v2h-3zM806 843h4v2h-4zM781 1162h3v2h-3zM937 959h2v3h-2zM829 1116h3v2h-3zM876 1114h2v3h-2zM679 975h2v2h-2zM713 1091h3v3h-3zM731 1144h4v3h-4zM867 912h2v2h-2zM856 936h2v2h-2zM874 944h5v3h-5zM739 1107h2v3h-2zM767 860h4v2h-4zM670 932h5v2h-5zM765 853h3v2h-3zM695 919h6v2h-6zM794 1137h5v2h-5zM722 1100h3v2h-3zM694 908h4v3h-4zM770 1149h2v2h-2zM823 1149h4v3h-4zM621 1074h2v3h-2zM687 965h3v2h-3zM767 892h3v3h-3zM760 853h2v3h-2zM926 1099h3v2h-3zM657 1104h2v2h-2zM714 900h2v3h-2zM750 874h3v3h-3zM843 1108h3v2h-3zM618 1078h5v3h-5zM698 1081h4v2h-4zM671 1099h2v3h-2zM946 1040h2v3h-2zM693 917h6v2h-6zM806 862h6v3h-6zM661 948h4v2h-4zM982 1008h4v2h-4zM839 912h2v2h-2zM814 1097h3v3h-3zM989 1042h5v3h-5zM843 905h2v2h-2zM683 1102h3v2h-3zM637 1011h3v2h-3zM892 950h4v2h-4zM704 934h3v2h-3zM661 949h2v2h-2zM886 954h3v2h-3zM693 939h5v2h-5zM753 898h3v2h-3zM643 989h4v3h-4zM821 853h4v3h-4zM621 1025h4v2h-4zM977 1064h5v2h-5zM643 970h5v3h-5zM672 1012h4v3h-4zM838 920h4v2h-4zM879 929h4v3h-4zM981 1079h4v3h-4zM814 1124h2v2h-2zM645 1086h5v3h-5zM679 950h3v3h-3zM750 883h3v3h-3zM653 963h5v2h-5zM839 1146h5v2h-5zM777 848h4v2h-4zM704 1086h2v3h-2zM838 1096h3v2h-3zM599 1032h2v3h-2zM639 1075h4v3h-4zM760 1158h4v2h-4zM662 978h3v3h-3zM849 934h4v2h-4zM868 876h5v3h-5zM887 950h3v3h-3zM664 1003h2v3h-2zM862 905h5v2h-5zM781 1155h4v3h-4zM601 1015h4v3h-4zM794 883h3v2h-3zM686 964h2v2h-2zM761 884h3v3h-3zM760 887h4v3h-4zM884 1106h2v2h-2zM733 895h4v2h-4zM681 939h2v2h-2zM699 950h3v3h-3zM848 1120h2v3h-2zM687 1048h2v3h-2zM732 925h4v2h-4zM657 952h5v3h-5zM834 1153h4v3h-4zM832 900h2v2h-2zM833 909h2v2h-2zM704 916h3v3h-3zM976 1062h6v3h-6zM956 1100h3v2h-3zM792 846h4v3h-4zM805 842h4v2h-4zM746 1163h4v2h-4zM752 1080h2v3h-2zM793 887h3v3h-3zM863 897h6v2h-6zM703 889h5v2h-5zM584 1044h4v3h-4zM974 1087h2v3h-2zM794 1145h2v3h-2zM730 1149h2v2h-2zM740 1151h6v3h-6zM838 867h4v2h-4zM744 878h2v2h-2zM684 951h4v3h-4zM716 1091h2v3h-2zM842 854h3v2h-3zM966 996h2v2h-2zM739 910h4v2h-4zM628 991h2v3h-2zM867 1131h5v2h-5zM839 916h4v3h-4zM863 935h4v3h-4zM587 1027h2v2h-2zM915 1086h3v2h-3zM683 1088h2v2h-2zM851 932h3v3h-3zM691 925h6v3h-6zM971 1020h3v2h-3zM918 1082h2v3h-2zM862 897h3v3h-3zM696 927h5v2h-5zM669 963h4v3h-4zM714 1076h2v2h-2zM682 1100h3v3h-3zM648 1062h2v3h-2zM676 1075h2v2h-2zM684 1113h5v3h-5zM781 1085h4v3h-4zM676 1088h5v3h-5zM689 1118h5v2h-5zM895 1108h4v2h-4zM955 1016h3v2h-3zM752 885h2v2h-2zM915 959h4v2h-4zM956 958h2v2h-2zM738 1160h4v2h-4zM888 955h5v3h-5zM705 903h4v2h-4zM815 903h2v2h-2zM813 853h4v2h-4zM844 927h3v2h-3zM939 1111h5v3h-5zM939 993h2v2h-2zM882 938h5v2h-5zM677 1111h5v2h-5zM713 902h3v3h-3zM843 953h4v2h-4zM797 1147h2v2h-2zM734 876h4v3h-4zM637 1077h3v3h-3zM755 854h6v2h-6zM895 1093h2v2h-2zM786 856h3v3h-3zM955 1088h4v3h-4zM693 908h5v2h-5zM649 980h3v3h-3zM798 860h4v2h-4zM711 905h3v3h-3zM713 958h3v3h-3zM857 901h5v2h-5zM985 1000h2v3h-2zM613 1058h3v3h-3zM976 1072h5v2h-5zM687 926h3v2h-3zM702 909h2v3h-2zM893 1091h4v2h-4zM828 1085h2v2h-2zM924 961h4v3h-4zM754 900h2v2h-2zM652 1100h5v3h-5zM739 907h2v3h-2zM915 997h2v3h-2zM769 856h5v3h-5zM873 1126h3v2h-3zM833 1157h4v3h-4zM626 1064h3v2h-3zM726 898h5v3h-5zM797 1161h5v2h-5zM854 903h2v2h-2zM795 1119h3v3h-3zM735 1100h2v3h-2zM870 968h3v3h-3zM683 1095h3v3h-3zM679 1093h4v3h-4zM869 960h2v2h-2zM858 1107h2v2h-2zM779 1147h2v2h-2zM731 864h6v2h-6zM780 900h3v3h-3zM717 891h6v3h-6zM611 1037h2v2h-2zM783 847h4v2h-4zM859 922h4v3h-4zM925 1136h2v2h-2zM626 1047h3v2h-3zM873 1152h2v2h-2zM789 859h5v2h-5zM888 1074h3v3h-3zM760 1110h2v2h-2zM860 910h4v2h-4zM747 1094h3v3h-3zM832 1153h4v2h-4zM669 985h3v2h-3zM644 968h6v3h-6zM809 1090h2v3h-2zM786 883h2v2h-2zM870 964h3v2h-3zM905 1059h3v2h-3zM781 1161h4v2h-4zM870 1156h2v3h-2zM715 1119h4v2h-4zM816 904h4v2h-4zM786 1109h2v3h-2zM962 999h4v3h-4zM875 1100h2v3h-2zM790 876h3v3h-3zM897 1133h5v2h-5zM849 874h5v2h-5zM654 1056h2v3h-2zM737 1128h4v3h-4zM844 878h2v2h-2zM781 907h2v2h-2zM694 956h2v3h-2zM943 1095h3v3h-3zM1001 1025h5v2h-5zM864 883h2v2h-2zM926 999h3v2h-3zM704 1039h2v3h-2zM849 895h4v3h-4zM696 922h4v3h-4zM648 1104h6v2h-6zM900 959h4v3h-4zM728 1159h4v3h-4zM836 950h3v2h-3zM825 879h2v3h-2zM665 964h2v3h-2zM994 1045h4v3h-4zM652 1007h3v3h-3zM617 1036h2v3h-2zM884 965h3v3h-3zM670 1099h5v2h-5zM878 1122h4v3h-4zM912 1062h2v3h-2zM845 921h3v2h-3zM587 1040h5v3h-5zM853 950h2v2h-2zM886 1059h2v3h-2zM818 888h2v3h-2zM852 1102h3v2h-3zM846 928h4v3h-4zM790 842h4v3h-4zM864 1063h3v2h-3zM666 981h2v2h-2zM901 960h6v2h-6zM894 958h4v2h-4zM641 968h2v2h-2zM777 1158h4v3h-4zM901 965h3v3h-3zM804 882h3v3h-3zM720 931h4v2h-4zM871 1069h4v3h-4zM987 1013h3v3h-3zM835 875h2v2h-2zM647 964h6v3h-6zM755 852h5v2h-5zM706 906h2v2h-2zM843 968h3v3h-3zM986 1038h4v3h-4zM872 947h5v2h-5zM723 930h3v3h-3zM702 925h6v3h-6zM866 867h5v2h-5zM781 859h2v3h-2zM842 935h2v3h-2zM797 841h4v3h-4zM933 997h3v2h-3zM702 938h2v2h-2zM926 1125h3v3h-3zM797 1133h4v2h-4zM859 956h4v2h-4zM597 1051h6v3h-6zM759 1152h6v2h-6zM979 1062h4v2h-4zM650 996h2v3h-2zM800 1139h2v2h-2zM857 910h4v2h-4zM721 940h4v2h-4zM808 845h3v2h-3zM624 1059h4v2h-4zM676 1095h4v3h-4zM753 926h2v2h-2zM861 947h3v3h-3zM728 870h2v3h-2zM771 867h2v2h-2zM868 876h4v3h-4zM727 933h4v3h-4zM923 1121h4v2h-4zM617 996h2v2h-2zM879 1101h2v3h-2zM762 881h4v3h-4zM793 1084h3v3h-3zM896 964h3v2h-3zM775 1109h2v3h-2zM775 889h2v2h-2zM939 1100h4v3h-4zM680 1090h5v2h-5zM666 941h3v3h-3zM864 930h4v2h-4zM878 944h2v3h-2zM859 1144h3v2h-3zM854 950h2v3h-2zM998 953h5v3h-5zM879 952h4v2h-4zM759 1135h4v3h-4zM809 843h4v3h-4zM654 975h6v3h-6zM678 967h4v2h-4zM758 899h3v3h-3zM863 901h4v3h-4zM741 1150h2v2h-2zM738 937h2v2h-2zM847 899h2v3h-2zM803 1117h3v3h-3zM719 911h2v2h-2zM860 914h3v3h-3zM791 885h2v3h-2zM655 984h4v3h-4zM876 1135h4v3h-4zM716 1123h5v3h-5zM897 1145h3v2h-3zM739 1130h4v2h-4zM788 1102h3v3h-3zM784 914h3v2h-3zM704 931h4v3h-4zM660 1107h2v3h-2zM704 1049h3v3h-3zM778 1117h2v2h-2zM822 900h2v3h-2zM971 1055h4v2h-4zM649 1107h3v2h-3zM730 879h4v3h-4zM608 1002h4v3h-4zM770 877h3v2h-3zM888 1090h3v3h-3zM908 1133h3v2h-3zM677 1073h2v2h-2zM857 1150h5v3h-5zM777 1133h3v2h-3zM834 949h2v2h-2zM691 1109h3v3h-3zM851 853h4v3h-4zM681 1015h3v3h-3zM858 927h4v2h-4zM838 911h2v2h-2zM871 924h5v3h-5zM730 950h2v3h-2zM916 1034h2v2h-2zM865 1136h2v3h-2zM976 1036h4v3h-4zM963 1077h6v2h-6zM780 1126h3v2h-3zM986 1075h5v3h-5zM891 1147h3v2h-3zM757 892h4v2h-4zM863 929h4v2h-4zM726 931h3v2h-3zM873 1098h2v3h-2zM686 1058h3v3h-3zM823 887h3v3h-3zM657 1049h4v3h-4zM891 1127h6v3h-6zM750 855h5v3h-5zM859 875h2v2h-2zM725 917h3v3h-3zM963 1087h4v2h-4zM870 939h4v3h-4zM843 924h4v2h-4zM776 852h5v3h-5zM912 957h5v2h-5zM805 846h5v2h-5zM755 882h2v2h-2zM712 1113h5v2h-5zM1002 1039h3v2h-3zM867 917h2v3h-2zM707 954h4v3h-4zM959 1006h2v2h-2zM607 1040h3v3h-3zM681 943h3v2h-3zM883 1074h3v3h-3zM584 1049h3v3h-3zM667 968h3v3h-3zM922 1048h4v2h-4zM698 953h2v2h-2zM862 931h3v2h-3zM791 868h2v2h-2zM839 872h4v3h-4zM710 896h6v2h-6zM696 919h6v3h-6zM967 1052h3v2h-3zM790 1123h4v3h-4zM880 964h2v2h-2zM838 924h3v3h-3zM589 1060h2v3h-2zM803 871h3v3h-3zM722 1066h4v3h-4zM840 930h2v3h-2zM606 1012h6v2h-6zM694 1129h3v2h-3zM872 1135h2v3h-2zM995 987h5v2h-5zM647 980h3v3h-3zM741 880h6v2h-6zM713 900h4v2h-4zM816 1146h4v2h-4zM769 919h3v2h-3zM676 979h2v3h-2zM889 1093h4v3h-4zM717 1077h2v2h-2zM861 1156h3v2h-3zM876 948h5v3h-5zM968 1013h2v2h-2zM795 848h4v3h-4zM852 951h3v2h-3zM737 1093h3v2h-3zM807 1156h2v2h-2zM860 944h2v2h-2zM701 905h2v2h-2zM666 1104h3v2h-3zM978 1067h4v3h-4zM966 992h2v3h-2zM607 1054h2v2h-2zM671 977h2v3h-2zM733 879h6v2h-6zM855 898h2v2h-2zM916 957h2v2h-2zM868 1093h3v2h-3zM717 914h3v2h-3zM817 874h2v3h-2zM595 1035h4v3h-4zM855 930h3v3h-3zM987 1030h4v3h-4zM995 1032h5v3h-5zM729 868h3v2h-3zM721 927h3v3h-3zM856 909h4v3h-4zM800 846h3v3h-3zM735 1147h2v3h-2zM968 1056h5v3h-5zM829 1162h4v3h-4zM712 1076h3v2h-3zM892 1152h2v3h-2zM695 944h2v3h-2zM647 988h3v2h-3zM673 1045h2v3h-2zM905 1101h4v3h-4zM689 1085h2v2h-2zM847 874h4v3h-4zM744 872h4v3h-4zM1049 974h8v3h-8zM1012 964h8v3h-8zM1033 959h16v2h-16zM1044 979h8v2h-8zM1024 963h12v2h-12zM986 976h12v3h-12zM1048 956h12v2h-12zM970 962h12v2h-12zM972 963h16v2h-16zM1051 976h8v3h-8zM1018 978h5v2h-5zM1035 978h12v3h-12zM1014 969h16v2h-16zM1032 973h5v3h-5zM1016 968h16v2h-16zM1009 973h16v3h-16zM1048 962h12v2h-12zM978 959h8v2h-8zM997 963h8v2h-8zM980 982h12v3h-12zM1017 973h8v3h-8zM1015 967h16v3h-16zM1031 951h5v2h-5zM1004 981h5v3h-5zM1028 952h8v2h-8zM975 983h8v3h-8zM1048 966h8v3h-8zM992 971h5v2h-5zM1040 964h5v3h-5zM973 968h16v3h-16zM1009 959h12v3h-12zM978 969h8v3h-8zM1010 963h16v3h-16zM968 969h5v3h-5zM1054 978h8v2h-8zM979 977h8v2h-8zM978 974h16v3h-16zM1028 980h5v3h-5zM1026 967h12v3h-12zM1028 954h16v3h-16zM1027 977h16v3h-16zM1019 965h12v3h-12zM972 976h8v3h-8zM964 977h5v3h-5zM1030 956h16v3h-16z" fill="#1a1a1a"/>
<path d="M1046 974h4v3h-4zM836 841h2v4h-2zM927 929h4v3h-4zM691 1140h4v2h-4zM1046 962h3v3h-3zM782 853h2v4h-2zM624 1085h4v3h-4zM783 844h2v2h-2zM607 1012h3v2h-3zM987 992h3v4h-3zM1009 952h3v4h-3zM778 1189h3v3h-3zM988 990h4v4h-4zM976 1089h3v2h-3zM776 1154h4v3h-4zM712 889h2v4h-2zM696 1124h3v2h-3zM660 941h3v3h-3zM646 926h3v4h-3zM897 1154h2v3h-2zM835 1156h3v3h-3zM669 909h2v4h-2zM802 1162h3v4h-3zM881 1143h4v4h-4zM971 1109h3v2h-3zM979 1082h4v4h-4zM700 1134h3v2h-3zM674 871h3v4h-3zM863 914h3v2h-3zM670 1136h3v2h-3zM1006 1013h3v4h-3zM889 954h3v3h-3zM883 929h2v4h-2zM780 1167h3v3h-3zM667 927h3v3h-3zM641 1097h3v2h-3zM743 826h3v3h-3zM926 1134h4v3h-4zM705 902h3v2h-3zM827 1154h2v2h-2zM689 926h2v3h-2zM642 1102h3v3h-3zM870 922h4v3h-4zM754 1155h4v3h-4zM852 829h3v2h-3zM591 1085h4v2h-4zM671 942h3v3h-3zM892 1152h3v4h-3zM901 1140h2v4h-2zM989 1086h2v4h-2zM697 1162h4v2h-4zM987 1097h3v3h-3zM950 1143h3v3h-3zM872 928h4v4h-4zM959 1100h3v4h-3zM797 851h3v3h-3zM987 1006h2v4h-2zM731 851h3v2h-3zM601 1073h4v4h-4zM736 867h2v3h-2zM748 1175h3v3h-3zM977 1115h2v2h-2zM776 807h3v3h-3zM738 868h2v3h-2zM595 997h2v2h-2zM1006 1013h4v2h-4zM931 1155h3v4h-3zM696 1166h2v2h-2zM792 838h3v2h-3zM971 1097h4v3h-4zM725 1151h3v3h-3zM991 1008h2v3h-2zM659 953h2v3h-2zM666 912h4v2h-4zM865 862h3v4h-3zM871 910h2v2h-2zM889 939h3v4h-3zM741 865h2v4h-2zM986 994h4v3h-4zM757 1156h3v3h-3zM916 1139h3v2h-3zM704 1169h2v2h-2zM722 1155h3v2h-3zM635 980h4v4h-4zM888 1144h3v4h-3zM812 834h3v3h-3zM662 951h3v3h-3zM599 1027h2v3h-2zM888 1153h4v3h-4zM1007 1025h3v4h-3zM882 893h3v4h-3zM830 1188h4v3h-4zM663 892h3v2h-3zM599 1056h4v3h-4zM815 1163h2v4h-2zM750 844h2v3h-2zM802 848h3v3h-3zM881 917h3v4h-3zM866 896h4v3h-4zM811 1153h2v4h-2zM710 1144h3v2h-3zM1043 967h2v3h-2zM867 881h3v2h-3zM1027 949h2v2h-2zM709 1140h4v2h-4zM725 879h2v3h-2zM1038 974h3v3h-3zM1004 987h2v2h-2zM813 835h3v3h-3zM879 926h2v3h-2zM717 1172h3v3h-3zM890 927h4v2h-4zM720 1152h4v4h-4zM841 804h2v3h-2zM805 1155h4v2h-4zM945 1112h2v4h-2zM751 1155h4v3h-4zM987 1067h3v3h-3zM919 939h4v2h-4zM715 1141h3v3h-3zM597 978h3v3h-3zM789 852h2v4h-2zM846 1193h3v4h-3zM754 860h3v3h-3zM601 1025h3v3h-3zM913 937h3v3h-3zM680 888h4v2h-4zM901 1137h3v3h-3zM786 800h2v3h-2zM736 830h2v3h-2zM884 914h4v3h-4zM865 861h3v4h-3zM781 1154h2v3h-2zM669 1102h2v4h-2zM862 872h2v4h-2zM660 925h4v4h-4zM724 845h4v3h-4zM660 940h4v3h-4zM921 1163h4v4h-4zM677 896h2v3h-2zM606 1100h3v3h-3zM635 1090h2v4h-2zM629 972h3v2h-3zM591 1027h3v3h-3zM921 904h3v4h-3zM891 930h3v2h-3zM622 1084h4v2h-4zM669 887h2v3h-2zM620 1085h4v3h-4zM783 1165h2v4h-2zM995 1035h3v2h-3zM1044 981h3v3h-3zM847 1153h3v3h-3zM773 852h3v4h-3zM891 900h4v3h-4zM989 1021h2v2h-2zM870 915h3v3h-3zM677 935h2v2h-2zM653 1098h3v4h-3zM615 1074h3v4h-3zM991 1036h3v4h-3zM606 1009h3v3h-3zM758 853h2v3h-2zM824 1169h4v3h-4zM837 1176h4v3h-4zM717 885h2v3h-2zM961 1097h4v4h-4zM584 1040h3v3h-3zM608 1069h2v3h-2zM994 1032h3v2h-3zM599 993h3v3h-3zM1036 977h2v3h-2zM697 918h2v3h-2zM680 1110h2v3h-2zM990 1026h2v3h-2zM603 1019h4v3h-4zM619 974h2v3h-2zM837 833h4v2h-4zM827 814h3v4h-3zM855 1189h4v2h-4zM694 923h3v4h-3zM988 1051h3v2h-3zM957 1097h3v3h-3zM847 857h3v2h-3zM1041 960h3v3h-3zM737 870h2v2h-2zM832 821h3v3h-3zM803 851h4v4h-4zM779 847h3v3h-3zM951 1124h4v4h-4zM959 1121h3v3h-3zM837 1154h3v4h-3zM805 1154h3v3h-3zM902 949h3v3h-3zM648 961h3v2h-3zM875 859h3v2h-3zM601 1008h3v2h-3zM888 906h4v2h-4zM775 852h3v3h-3zM666 1113h3v2h-3zM671 913h3v4h-3zM875 909h3v4h-3zM999 1057h2v3h-2zM919 1147h3v3h-3zM791 1173h4v2h-4zM923 1138h2v3h-2zM703 1140h2v2h-2zM585 1076h3v3h-3zM1044 958h2v4h-2zM1045 958h3v2h-3zM1007 1018h3v4h-3zM854 864h3v4h-3zM1038 962h2v4h-2zM823 1155h2v3h-2zM989 1047h3v3h-3zM991 1097h4v3h-4zM922 948h4v4h-4zM905 1143h3v3h-3zM609 1087h4v2h-4zM800 1161h4v4h-4zM584 1032h4v2h-4zM614 1078h4v2h-4zM1034 960h2v2h-2zM1011 1044h3v4h-3zM696 921h2v3h-2zM700 897h4v3h-4zM749 1158h3v3h-3zM763 837h4v3h-4zM789 819h3v4h-3zM986 1067h2v2h-2zM993 1012h3v4h-3zM874 932h4v2h-4zM691 919h3v2h-3zM704 1143h4v4h-4zM704 878h3v3h-3zM868 1155h3v2h-3zM714 855h4v3h-4zM808 1154h3v4h-3zM848 832h4v4h-4zM789 1163h2v3h-2zM849 1153h2v2h-2zM657 1131h2v2h-2zM880 873h3v4h-3zM780 1181h4v2h-4zM865 892h3v3h-3zM773 1175h3v3h-3zM900 1186h3v2h-3zM869 842h2v3h-2zM909 1185h4v2h-4zM818 828h2v3h-2zM893 891h2v3h-2zM710 1171h3v2h-3zM824 842h3v3h-3zM595 1031h4v2h-4zM593 1050h3v4h-3zM739 1161h3v2h-3zM871 1173h3v3h-3zM845 1153h2v4h-2zM896 955h2v3h-2zM898 942h3v3h-3zM838 1166h2v4h-2zM885 1159h4v4h-4zM604 975h3v2h-3zM977 1090h4v3h-4zM947 957h3v3h-3zM763 850h4v4h-4zM606 962h3v2h-3zM576 1041h2v2h-2zM779 852h3v3h-3zM828 1155h3v3h-3zM826 1154h2v3h-2zM671 939h3v2h-3zM990 1088h3v3h-3zM659 920h4v2h-4zM722 1150h2v3h-2zM879 879h4v4h-4zM862 904h3v2h-3zM865 1185h2v4h-2zM607 1012h3v2h-3zM964 1106h4v4h-4zM976 1112h4v3h-4zM921 1122h2v3h-2zM626 966h2v4h-2zM806 1173h2v3h-2zM863 1151h2v3h-2zM841 1182h4v3h-4zM1000 1042h2v3h-2zM688 903h3v2h-3zM876 888h3v3h-3zM873 929h4v3h-4zM858 1152h2v3h-2zM841 837h2v3h-2zM736 1180h4v3h-4zM724 1152h2v4h-2zM768 854h3v4h-3zM769 851h3v3h-3zM899 1137h4v4h-4zM867 1150h4v4h-4zM749 1168h3v3h-3zM893 1175h4v4h-4zM1038 961h2v3h-2zM617 976h3v3h-3zM873 1149h3v3h-3zM909 893h3v4h-3zM713 827h3v4h-3zM761 1156h4v3h-4zM817 1155h2v2h-2zM726 875h2v3h-2zM999 951h4v2h-4zM851 840h3v4h-3zM820 851h3v4h-3zM868 911h3v2h-3zM974 1093h3v3h-3zM699 857h3v4h-3zM757 1165h3v4h-3zM662 947h2v4h-2zM586 1044h3v4h-3zM707 1136h4v2h-4zM885 1143h4v3h-4zM600 1024h3v3h-3zM882 1146h4v3h-4zM925 1160h3v3h-3zM850 839h4v3h-4zM990 990h2v3h-2zM990 1015h3v3h-3zM697 862h4v3h-4zM1010 1031h4v3h-4zM658 926h3v2h-3zM889 947h3v4h-3zM895 952h2v4h-2zM935 1118h4v2h-4zM610 1072h3v3h-3zM616 1081h4v3h-4zM1033 964h2v3h-2zM815 1172h3v2h-3zM989 1060h3v4h-3zM996 1014h3v2h-3zM895 1157h4v4h-4zM816 1159h4v3h-4zM943 1112h3v3h-3zM886 900h2v2h-2zM615 1081h2v2h-2zM846 842h3v4h-3zM832 851h4v3h-4zM825 835h2v3h-2zM581 1071h2v2h-2zM714 848h3v3h-3zM960 954h2v2h-2zM773 1155h3v3h-3zM945 1110h3v3h-3zM904 951h2v2h-2zM735 853h2v2h-2zM967 1098h3v3h-3zM637 919h4v4h-4zM724 873h2v4h-2zM599 998h4v3h-4zM895 897h4v3h-4zM706 1143h3v3h-3zM990 952h4v2h-4zM899 1144h2v4h-2zM996 1027h4v2h-4zM871 895h3v4h-3zM921 1134h3v3h-3zM989 1057h3v3h-3zM928 1131h3v4h-3zM662 1101h2v2h-2zM1029 951h4v2h-4zM1058 963h3v3h-3zM856 1186h4v4h-4zM884 940h3v3h-3zM737 1151h4v2h-4zM776 1159h3v4h-3zM933 915h3v3h-3zM870 889h3v3h-3zM750 863h4v4h-4zM609 1009h3v3h-3zM879 926h3v3h-3zM761 1187h2v3h-2zM758 860h3v3h-3zM658 1099h4v4h-4zM760 834h3v4h-3zM790 852h3v3h-3zM885 940h4v2h-4zM893 933h3v2h-3zM880 841h3v4h-3zM946 1107h3v3h-3zM596 1049h4v3h-4zM862 817h3v4h-3zM637 1123h2v4h-2zM725 879h4v2h-4zM762 856h3v3h-3zM870 856h4v4h-4zM596 996h2v3h-2zM615 1108h3v3h-3zM693 877h3v3h-3zM750 864h3v2h-3zM575 1042h4v4h-4zM709 892h4v2h-4zM616 1078h3v2h-3zM603 1058h2v3h-2zM863 848h2v3h-2zM837 852h3v3h-3zM996 1029h2v3h-2zM833 1161h4v4h-4zM936 928h2v2h-2zM897 1150h3v2h-3zM770 854h3v4h-3zM994 1104h3v3h-3zM813 850h4v2h-4zM601 998h3v3h-3zM627 1091h2v2h-2zM694 1136h3v3h-3zM803 839h3v3h-3zM591 1055h3v2h-3zM1008 1075h3v2h-3zM982 1087h2v4h-2zM671 940h3v2h-3zM729 1170h4v3h-4zM814 1161h4v3h-4zM569 1048h4v2h-4zM989 1017h2v4h-2zM864 887h3v4h-3zM859 818h3v3h-3zM596 1032h3v3h-3zM691 1122h3v4h-3zM937 924h4v3h-4zM736 1181h2v2h-2zM895 888h4v4h-4zM876 908h3v2h-3zM699 911h4v4h-4zM889 906h2v4h-2zM686 870h2v4h-2zM908 1180h3v3h-3zM922 1132h2v3h-2zM800 1151h2v3h-2zM994 1031h3v4h-3zM681 927h4v3h-4zM856 1151h4v2h-4zM677 885h3v2h-3zM602 1064h2v2h-2zM705 879h3v3h-3zM1046 971h3v4h-3zM868 1150h3v2h-3zM865 879h3v2h-3zM873 1151h2v3h-2zM816 1177h3v4h-3zM923 959h3v3h-3zM985 1002h3v4h-3zM666 900h3v3h-3zM920 921h2v4h-2zM988 1019h3v3h-3zM931 1107h3v4h-3zM603 1018h3v3h-3zM789 1167h4v3h-4zM922 1121h3v2h-3zM861 908h3v3h-3zM588 1038h3v3h-3zM784 853h4v3h-4zM703 1131h4v3h-4zM609 1009h4v3h-4zM590 1077h3v3h-3zM621 1081h2v3h-2zM629 982h2v2h-2zM865 879h2v4h-2zM736 1152h2v3h-2zM743 1177h2v3h-2zM698 894h3v3h-3zM612 1004h3v2h-3zM639 919h3v3h-3zM670 943h3v3h-3zM725 1155h4v2h-4zM844 850h3v2h-3zM670 935h4v3h-4zM844 1167h3v4h-3zM650 954h3v4h-3zM638 953h4v2h-4zM931 1102h2v4h-2zM797 838h4v3h-4zM825 849h4v4h-4zM873 926h3v3h-3zM837 1156h4v4h-4zM654 901h3v3h-3zM1002 1005h2v4h-2zM893 1153h4v4h-4zM757 796h3v3h-3zM1061 1075h3v3h-3zM897 770h3v3h-3zM986 1207h3v3h-3zM797 1208h3v3h-3zM1033 990h3v3h-3zM947 881h3v3h-3zM880 837h3v3h-3zM693 771h3v3h-3zM811 1078h6v4h-6zM819 981h2v4h-2zM757 1093h6v3h-6zM800 985h6v3h-6zM797 939h2v4h-2zM824 1090h2v2h-2zM640 1025h3v3h-3zM804 987h2v2h-2zM766 1114h6v2h-6zM751 1095h4v3h-4zM888 1029h2v2h-2zM847 951h4v2h-4zM791 960h4v3h-4zM767 916h3v4h-3zM735 992h4v3h-4zM886 1105h2v3h-2zM842 1037h4v3h-4zM815 992h6v4h-6zM699 953h2v2h-2zM788 1016h4v4h-4zM795 999h6v4h-6zM771 992h2v4h-2zM787 984h2v4h-2zM786 964h2v2h-2zM697 983h4v3h-4zM797 988h2v4h-2zM742 1113h4v2h-4zM845 1072h4v4h-4zM781 965h4v2h-4zM733 1033h3v2h-3zM836 899h6v4h-6zM890 1001h3v4h-3zM787 930h2v3h-2zM807 947h3v2h-3zM771 981h2v3h-2zM855 937h6v4h-6zM829 970h2v2h-2zM844 1081h6v4h-6zM884 1078h4v4h-4zM675 975h4v2h-4zM894 1071h3v3h-3zM754 976h3v3h-3zM844 969h4v3h-4zM912 1062h4v4h-4zM809 970h6v2h-6zM798 1010h6v4h-6zM715 1093h3v2h-3zM723 953h2v2h-2zM880 1102h3v4h-3zM852 1028h6v4h-6zM723 977h4v3h-4zM845 918h4v2h-4zM842 1016h4v3h-4zM782 984h3v4h-3zM878 1109h6v2h-6zM783 947h6v3h-6zM716 1012h2v4h-2zM822 942h4v2h-4zM804 1017h4v3h-4zM737 980h3v3h-3zM818 983h6v2h-6zM845 939h2v2h-2zM743 1080h3v2h-3zM833 932h2v4h-2zM795 942h3v2h-3zM798 1040h4v2h-4zM834 907h3v4h-3zM847 1014h6v4h-6zM794 991h4v2h-4zM804 1015h4v2h-4zM775 1094h2v2h-2zM806 984h6v4h-6zM861 1004h4v4h-4zM786 968h3v4h-3zM776 900h3v4h-3zM870 1108h2v4h-2zM797 1086h6v2h-6zM648 1029h3v4h-3zM781 916h6v3h-6zM732 999h3v2h-3zM871 995h4v4h-4zM812 949h6v3h-6zM717 1062h4v3h-4zM833 1082h4v3h-4zM783 969h2v3h-2zM895 1080h4v4h-4zM735 1078h6v3h-6zM716 983h6v4h-6zM869 973h2v3h-2zM782 924h6v4h-6zM764 1087h4v4h-4zM803 1000h4v3h-4zM911 996h4v2h-4zM786 975h2v2h-2zM757 925h4v3h-4zM778 1002h6v3h-6zM770 1117h4v2h-4zM833 972h4v4h-4zM786 1014h3v2h-3zM818 1050h4v3h-4zM745 962h3v4h-3zM791 976h2v4h-2zM792 1030h4v3h-4z" fill="#3c6298"/>
<path d="M941 1157h4v2h-4zM967 1109h3v3h-3zM607 1011h3v2h-3zM951 1140h3v3h-3zM864 1184h3v3h-3zM960 1108h3v3h-3zM865 911h2v3h-2zM935 1116h2v3h-2zM714 849h3v4h-3zM1042 972h4v3h-4zM971 953h4v2h-4zM969 1098h3v2h-3zM903 1164h2v3h-2zM822 830h3v3h-3zM909 1179h2v4h-2zM843 849h4v2h-4zM1042 975h4v3h-4zM702 846h3v3h-3zM993 996h4v4h-4zM884 906h2v4h-2zM1003 989h2v3h-2zM965 1102h3v2h-3zM921 1153h4v4h-4zM936 919h3v3h-3zM773 818h3v3h-3zM778 822h3v2h-3zM700 907h4v3h-4zM848 807h3v2h-3zM1003 1064h2v3h-2zM987 1057h3v3h-3zM661 946h2v3h-2zM837 820h3v3h-3zM840 854h3v3h-3zM757 1175h3v4h-3zM725 1167h2v3h-2zM688 1137h3v2h-3zM736 1161h2v3h-2zM578 1040h3v2h-3zM902 1139h4v2h-4zM594 1070h4v4h-4zM760 812h3v3h-3zM700 913h2v3h-2zM695 1129h2v2h-2zM1025 950h2v3h-2zM987 1075h3v4h-3zM674 1132h4v4h-4zM933 1125h3v3h-3zM580 1074h4v4h-4zM808 824h2v2h-2zM963 1098h2v2h-2zM674 938h4v2h-4zM625 989h3v3h-3zM832 847h4v3h-4zM655 1102h4v3h-4zM655 930h3v3h-3zM872 922h3v3h-3zM1045 975h3v3h-3zM872 1157h2v4h-2zM575 1046h2v4h-2zM854 863h4v3h-4zM794 1162h4v3h-4zM918 930h2v3h-2zM715 861h4v3h-4zM598 1032h3v2h-3zM995 991h4v3h-4zM814 837h3v4h-3zM783 1164h3v4h-3zM971 1098h3v3h-3zM776 1157h4v2h-4zM573 1052h2v3h-2zM688 1121h3v3h-3zM873 837h4v3h-4zM783 847h3v3h-3zM751 1157h3v3h-3zM924 1136h2v3h-2zM892 1146h2v3h-2zM601 1078h3v4h-3zM995 1093h3v3h-3zM596 1017h3v3h-3zM921 954h2v4h-2zM876 927h4v2h-4zM729 874h2v3h-2zM900 1162h3v3h-3zM632 984h2v4h-2zM864 827h3v3h-3zM767 815h3v3h-3zM865 907h4v2h-4zM906 1165h2v3h-2zM924 1163h3v3h-3zM707 895h3v3h-3zM883 1144h3v2h-3zM864 891h3v3h-3zM976 1098h3v4h-3zM1006 1062h4v2h-4zM733 1177h3v3h-3zM998 1026h4v3h-4zM867 847h3v3h-3zM999 1012h2v4h-2zM825 837h3v4h-3zM817 1157h4v3h-4zM1025 948h2v2h-2zM769 855h3v2h-3zM625 991h3v3h-3zM656 904h3v3h-3zM902 946h3v3h-3zM694 922h3v2h-3zM704 902h3v3h-3zM881 1165h2v2h-2zM639 917h4v4h-4zM680 1107h3v3h-3zM800 808h3v2h-3zM964 955h2v2h-2zM651 949h4v2h-4zM1029 952h4v2h-4zM874 887h3v2h-3zM600 1091h3v2h-3zM878 1146h4v3h-4zM725 825h2v2h-2zM932 1101h3v4h-3zM963 1098h4v3h-4zM593 1041h3v2h-3zM887 942h3v3h-3zM789 824h3v3h-3zM940 909h4v2h-4zM876 933h3v4h-3zM605 1017h3v3h-3zM765 1163h3v3h-3zM874 924h2v4h-2zM862 910h3v3h-3zM660 915h4v3h-4zM996 1034h3v3h-3zM667 892h3v4h-3zM779 1158h4v4h-4zM651 911h4v4h-4zM924 1148h3v3h-3zM705 874h2v3h-2zM724 851h3v4h-3zM573 1042h3v2h-3zM721 1174h3v4h-3zM586 1028h4v2h-4zM798 1154h2v3h-2zM874 879h4v4h-4zM700 912h2v3h-2zM679 934h4v3h-4zM938 953h3v2h-3zM905 1139h2v3h-2zM700 910h3v4h-3zM696 1134h2v3h-2zM734 844h2v3h-2zM822 1184h3v3h-3zM730 853h4v3h-4zM646 948h4v3h-4zM718 886h2v3h-2zM875 855h3v3h-3zM699 874h2v4h-2zM887 948h2v3h-2zM866 826h2v3h-2zM938 943h3v4h-3zM802 1159h4v4h-4zM885 1142h3v3h-3zM616 992h2v3h-2zM860 1159h2v2h-2zM855 858h3v4h-3zM830 1160h3v3h-3zM927 1113h3v4h-3zM667 946h4v3h-4zM861 914h4v4h-4zM914 1176h4v2h-4zM862 1150h4v3h-4zM624 940h3v3h-3zM1006 1072h4v3h-4zM880 926h3v2h-3zM871 1151h3v4h-3zM695 1128h3v3h-3zM971 948h4v3h-4zM929 1112h4v3h-4zM750 1156h4v3h-4zM663 1101h3v4h-3zM918 937h4v4h-4zM615 1073h2v2h-2zM730 855h3v3h-3zM879 1159h3v2h-3zM844 821h2v3h-2zM609 965h3v4h-3zM631 969h4v3h-4zM803 1161h3v2h-3zM900 1170h3v3h-3zM991 1030h3v4h-3zM872 908h3v3h-3zM613 985h4v2h-4zM894 942h4v3h-4zM975 1093h4v2h-4zM948 945h3v2h-3zM883 933h3v3h-3zM584 1029h2v3h-2zM697 913h4v3h-4zM791 815h3v4h-3zM766 828h2v3h-2zM598 1000h4v3h-4zM589 1069h2v3h-2zM711 866h3v2h-3zM877 932h4v3h-4zM684 882h4v4h-4zM1042 961h4v3h-4zM919 1133h4v3h-4zM705 897h3v4h-3zM733 867h3v4h-3zM936 1116h3v3h-3zM575 1032h4v3h-4zM752 1168h3v3h-3zM842 854h3v3h-3zM687 1115h2v2h-2zM895 888h2v4h-2zM628 1086h2v3h-2zM893 1181h2v3h-2zM731 872h2v2h-2zM595 1038h3v3h-3zM651 943h3v3h-3zM1039 967h3v3h-3zM808 1177h4v3h-4zM889 905h2v3h-2zM842 1171h3v3h-3zM907 1136h2v3h-2zM639 1092h4v3h-4zM920 1122h3v3h-3zM624 985h3v4h-3zM791 1156h3v3h-3zM737 847h2v4h-2zM574 1053h2v3h-2zM1032 950h3v2h-3zM856 1183h3v3h-3zM869 921h3v2h-3zM695 922h3v3h-3zM586 1002h3v3h-3zM786 1152h4v4h-4zM691 1120h2v2h-2zM883 917h4v2h-4zM902 941h4v3h-4zM915 1130h3v3h-3zM662 940h4v4h-4zM576 1048h3v4h-3zM867 857h2v4h-2zM990 1016h3v4h-3zM990 1044h2v4h-2zM736 1163h4v3h-4zM778 1158h3v4h-3zM928 1145h3v2h-3zM796 822h3v4h-3zM884 1183h4v3h-4zM933 1125h3v4h-3zM807 850h3v4h-3zM680 1148h3v3h-3zM754 862h3v3h-3zM608 994h2v3h-2zM977 1092h4v4h-4zM1038 975h3v3h-3zM851 1158h3v2h-3zM797 821h3v3h-3zM772 1154h2v4h-2zM979 1081h3v3h-3zM877 932h3v3h-3zM1016 1038h3v3h-3z" fill="#3a6aa0"/>
<path d="M728 1148h2v3h-2zM643 961h4v2h-4zM890 923h3v3h-3zM876 924h4v3h-4zM990 1059h3v3h-3zM735 1155h3v2h-3zM728 1154h3v4h-3zM796 1159h3v4h-3zM832 1188h3v4h-3zM622 974h3v3h-3zM717 887h3v3h-3zM779 852h3v2h-3zM988 1020h3v3h-3zM631 955h3v3h-3zM875 841h4v3h-4zM758 860h2v3h-2zM765 1163h3v3h-3zM790 1187h3v3h-3zM757 1156h3v3h-3zM866 881h3v2h-3zM609 1075h4v3h-4zM857 1151h3v3h-3zM987 1004h2v4h-2zM682 1158h4v3h-4zM898 937h2v4h-2zM945 926h2v3h-2zM942 1129h3v4h-3zM881 866h3v4h-3zM959 1106h4v4h-4zM964 1098h2v3h-2zM735 1154h3v3h-3zM719 866h3v3h-3zM692 1125h3v4h-3zM759 857h3v3h-3zM1036 961h2v3h-2zM779 849h3v2h-3zM757 1155h3v3h-3zM701 1165h4v3h-4zM949 1097h3v3h-3zM936 1119h3v4h-3zM699 1132h3v3h-3zM605 1094h4v3h-4zM860 1166h3v2h-3zM871 885h4v4h-4zM857 864h3v3h-3zM863 915h4v4h-4zM906 1150h4v3h-4zM766 819h4v3h-4zM645 932h2v3h-2zM736 863h2v2h-2zM987 1001h3v4h-3zM853 863h3v2h-3zM865 822h2v2h-2zM683 925h4v4h-4zM702 1168h3v3h-3zM662 951h4v3h-4zM587 1026h3v3h-3zM649 906h3v4h-3zM1033 960h3v3h-3zM1048 947h3v3h-3zM989 1087h4v3h-4zM606 1063h2v3h-2zM891 904h2v2h-2zM770 852h3v3h-3zM683 1130h2v2h-2zM928 1134h4v3h-4zM945 1123h4v2h-4zM806 1162h4v4h-4zM596 1048h2v4h-2zM574 1045h3v3h-3zM816 1154h3v2h-3zM883 1175h3v3h-3zM602 1058h3v3h-3zM657 910h3v3h-3zM867 1160h4v2h-4zM664 907h2v3h-2zM779 1153h3v3h-3zM745 825h2v3h-2zM803 819h2v4h-2zM737 1174h3v3h-3zM866 1157h4v3h-4zM707 1139h4v4h-4zM825 1191h2v2h-2zM886 895h3v3h-3zM683 928h3v3h-3zM597 1065h4v3h-4zM867 905h4v3h-4zM865 866h3v4h-3zM644 946h3v2h-3zM1045 975h3v2h-3zM997 1040h3v3h-3zM867 877h2v3h-2zM949 926h3v2h-3zM838 807h3v2h-3zM602 1057h3v3h-3zM628 1087h3v3h-3zM994 952h2v3h-2zM646 926h3v3h-3zM644 921h3v3h-3zM799 1152h3v3h-3zM768 854h4v2h-4zM736 863h4v3h-4zM859 911h3v4h-3zM660 942h3v3h-3zM1041 976h2v2h-2zM940 1126h3v2h-3zM840 821h3v3h-3zM925 1169h4v3h-4zM759 1157h3v4h-3zM755 850h2v2h-2zM716 883h4v3h-4zM761 836h3v2h-3zM725 853h4v4h-4zM988 996h3v4h-3zM869 899h4v2h-4zM705 1154h2v3h-2zM863 855h2v4h-2zM831 1175h3v4h-3zM727 1146h4v3h-4zM908 1145h3v4h-3zM746 844h2v4h-2zM655 1110h4v4h-4zM870 894h3v4h-3zM1001 1054h3v3h-3zM585 1033h4v4h-4zM785 1164h3v4h-3zM754 1158h4v3h-4zM854 1161h4v3h-4zM599 1090h2v2h-2zM669 943h4v3h-4zM708 836h4v3h-4zM959 1098h2v3h-2zM1007 1070h2v3h-2zM708 1137h4v2h-4zM775 833h3v3h-3zM873 910h4v3h-4zM614 982h3v3h-3zM719 855h4v3h-4zM831 1154h3v3h-3zM669 943h3v2h-3zM578 1031h3v4h-3zM679 923h3v3h-3zM735 864h2v4h-2zM688 917h3v3h-3zM705 841h3v3h-3zM749 1187h2v2h-2zM707 898h4v4h-4zM903 945h3v2h-3zM972 1096h3v3h-3zM592 1079h4v3h-4zM634 965h3v3h-3zM660 1138h4v4h-4zM745 864h2v4h-2zM913 1152h4v4h-4zM806 1161h2v3h-2zM591 1000h3v2h-3zM712 1153h3v3h-3zM720 1157h3v2h-3zM745 820h4v3h-4zM688 1122h4v4h-4zM1011 1049h2v4h-2zM634 1124h2v3h-2zM845 844h4v2h-4zM915 940h4v2h-4zM633 971h4v3h-4zM855 862h3v4h-3zM614 1075h3v4h-3zM915 1156h3v3h-3zM952 1098h4v3h-4zM879 1145h3v2h-3zM988 1077h3v4h-3zM721 867h4v3h-4zM919 943h2v3h-2zM871 873h2v2h-2zM820 1154h4v2h-4zM795 850h4v3h-4zM721 831h3v2h-3zM667 1137h3v4h-3zM602 1058h2v3h-2zM926 1115h2v4h-2zM696 1141h3v3h-3zM642 976h3v4h-3zM971 1100h4v3h-4zM1037 974h3v2h-3zM993 1036h4v3h-4zM1047 965h3v3h-3zM758 806h4v4h-4zM938 928h3v2h-3zM737 838h4v3h-4zM845 843h2v3h-2zM811 1161h4v2h-4zM900 1187h3v3h-3zM831 1157h2v3h-2zM718 881h2v3h-2zM598 997h3v3h-3zM977 1111h2v3h-2zM871 927h3v3h-3zM672 929h3v4h-3zM624 1109h2v3h-2zM897 1150h2v2h-2zM622 1081h3v4h-3zM631 1089h4v3h-4zM669 944h3v3h-3zM816 1195h2v2h-2zM786 802h3v3h-3zM925 1123h3v4h-3zM851 860h3v2h-3zM614 992h3v2h-3zM918 948h3v3h-3zM602 968h3v3h-3zM734 820h2v2h-2zM884 1143h2v4h-2zM949 1125h3v3h-3zM640 1100h3v2h-3zM820 813h3v3h-3zM630 1088h4v3h-4zM955 1106h3v2h-3zM673 906h3v3h-3zM930 911h4v4h-4zM830 1154h4v4h-4zM874 927h3v4h-3zM894 1186h3v3h-3zM944 1146h2v3h-2zM985 998h3v2h-3zM748 860h3v3h-3zM807 1158h3v3h-3zM686 927h2v3h-2zM884 947h3v4h-3zM861 1190h3v3h-3zM904 948h3v2h-3zM997 993h3v3h-3zM755 1163h3v4h-3zM888 924h4v3h-4zM696 1126h3v2h-3zM678 1115h3v4h-3zM668 942h3v4h-3zM840 806h3v3h-3zM779 820h4v3h-4zM999 1010h3v4h-3zM1008 950h3v3h-3zM740 815h3v3h-3zM1054 966h3v3h-3zM916 801h3v3h-3zM887 818h3v3h-3zM1063 1045h3v3h-3z" fill="#3d5888"/>
<path d="M601 1059h3v4h-3zM717 837h2v3h-2zM923 1117h3v4h-3zM595 1058h2v4h-2zM1041 973h3v2h-3zM632 981h3v3h-3zM631 1099h4v4h-4zM875 1148h4v4h-4zM704 904h3v4h-3zM980 1081h3v3h-3zM1002 1048h3v3h-3zM655 919h2v2h-2zM834 851h3v2h-3zM988 1018h2v2h-2zM1007 987h3v3h-3zM934 1118h3v4h-3zM630 974h2v3h-2zM951 1109h4v3h-4zM693 880h4v3h-4zM834 852h2v2h-2zM705 851h4v3h-4zM715 848h4v3h-4zM692 909h2v4h-2zM658 955h2v4h-2zM596 1054h4v3h-4zM909 1181h3v3h-3zM716 852h4v3h-4zM833 817h4v3h-4zM866 914h2v4h-2zM784 853h4v3h-4zM984 1067h2v2h-2zM822 851h3v3h-3zM750 1162h3v2h-3zM694 922h3v2h-3zM988 1006h3v2h-3zM904 942h3v4h-3zM932 1100h4v3h-4zM942 1100h4v4h-4zM1032 952h3v4h-3zM923 900h4v2h-4zM884 899h4v3h-4zM805 1154h3v2h-3zM760 841h3v2h-3zM845 1153h4v4h-4zM945 958h2v3h-2zM911 1137h3v2h-3zM864 876h4v2h-4zM794 1150h4v2h-4zM759 851h3v3h-3zM865 886h3v2h-3zM680 1137h3v3h-3zM727 829h3v3h-3zM928 1109h3v4h-3zM834 844h3v2h-3zM995 1049h3v3h-3zM636 939h4v3h-4zM990 1033h4v2h-4zM619 1090h3v3h-3zM788 1158h3v3h-3zM834 842h4v4h-4zM697 842h3v3h-3zM658 955h3v2h-3zM917 937h3v2h-3zM884 1146h4v2h-4zM689 925h3v3h-3zM600 1057h3v2h-3zM825 1159h2v4h-2zM692 922h2v3h-2zM685 914h3v4h-3zM981 1091h4v2h-4zM701 858h3v3h-3zM637 940h3v3h-3zM872 843h3v3h-3zM704 863h2v2h-2zM615 988h2v4h-2zM763 815h2v3h-2zM786 1181h2v3h-2zM794 1181h3v2h-3zM987 994h3v2h-3zM975 1090h2v2h-2zM978 1100h3v4h-3zM921 1146h3v3h-3zM785 1166h2v4h-2zM616 1098h3v3h-3zM720 1143h2v3h-2zM891 1163h2v2h-2zM716 1144h3v2h-3zM1042 975h3v2h-3zM931 1138h3v3h-3zM662 1104h4v3h-4zM744 832h3v4h-3zM962 1096h3v3h-3zM692 913h3v3h-3zM631 981h3v4h-3zM953 1099h3v2h-3zM713 835h3v2h-3zM721 871h3v4h-3zM888 923h2v2h-2zM909 896h3v3h-3zM837 806h2v4h-2zM844 852h2v3h-2zM810 1156h3v3h-3zM932 1112h4v3h-4zM728 876h2v2h-2zM797 822h3v3h-3zM921 1128h4v2h-4zM927 1134h3v3h-3zM620 991h2v2h-2zM597 1058h4v2h-4zM849 859h3v3h-3zM868 901h3v2h-3zM761 1175h3v4h-3zM673 876h2v2h-2zM779 853h3v3h-3zM900 902h4v3h-4zM931 1150h2v4h-2zM909 895h3v4h-3zM628 977h4v3h-4zM975 1117h3v3h-3zM955 1105h2v3h-2zM609 1009h3v3h-3zM990 1041h4v4h-4zM697 1131h4v2h-4zM1029 952h4v3h-4zM869 1172h4v3h-4zM900 1175h3v2h-3zM749 1157h3v3h-3zM1001 1063h3v3h-3zM791 840h3v2h-3zM758 1159h4v4h-4zM893 940h4v3h-4zM812 825h3v2h-3zM727 869h3v3h-3zM866 1169h3v3h-3zM983 1073h4v2h-4zM994 1051h2v3h-2zM851 861h2v4h-2zM959 1100h3v4h-3zM785 822h3v4h-3zM994 996h3v3h-3zM760 1175h2v3h-2zM1033 961h4v2h-4zM1049 970h2v4h-2zM683 925h3v2h-3zM646 1100h2v3h-2zM676 1136h2v2h-2zM636 959h2v4h-2zM771 1187h3v2h-3zM595 1031h3v4h-3zM798 843h2v3h-2zM738 866h4v3h-4zM765 1165h4v2h-4zM832 844h2v3h-2zM850 1169h4v3h-4zM625 989h3v2h-3zM1005 1014h4v4h-4zM855 865h3v2h-3zM974 1101h4v2h-4zM879 1161h2v3h-2zM602 1000h4v3h-4zM888 1174h2v3h-2zM994 1030h4v4h-4zM779 814h3v3h-3zM738 1159h3v2h-3zM825 1158h3v2h-3zM619 1088h4v4h-4zM996 1036h3v3h-3zM678 868h2v2h-2zM738 868h4v4h-4zM891 940h3v3h-3zM872 924h3v4h-3zM695 901h3v2h-3zM941 1104h2v2h-2zM603 1088h4v3h-4zM684 1109h2v3h-2zM699 913h3v3h-3zM807 817h3v3h-3zM586 1061h3v3h-3zM1004 1029h3v4h-3zM1047 955h2v3h-2zM802 1152h2v2h-2zM710 1137h4v2h-4zM860 1154h2v3h-2zM626 1108h2v3h-2zM687 1131h4v3h-4zM869 1152h3v3h-3zM609 953h3v4h-3zM817 1158h3v3h-3zM757 859h2v2h-2zM681 929h2v3h-2zM986 990h4v4h-4zM909 1139h3v3h-3zM967 948h3v3h-3zM819 1187h3v4h-3zM871 888h3v2h-3zM675 926h3v4h-3zM833 821h3v3h-3zM712 881h4v4h-4zM851 855h3v4h-3zM696 918h3v2h-3zM689 921h2v2h-2zM871 1148h3v2h-3zM895 1161h4v3h-4zM833 1157h4v3h-4zM765 819h3v3h-3zM748 1155h3v4h-3zM714 1142h3v4h-3zM878 893h3v3h-3zM894 958h3v2h-3zM604 1061h3v4h-3zM770 838h2v2h-2zM852 1157h4v3h-4zM967 1106h4v4h-4zM727 854h3v3h-3zM895 1139h4v3h-4zM783 775h3v3h-3zM1075 1127h3v3h-3zM895 871h3v3h-3zM1075 1008h3v3h-3zM736 1244h3v3h-3zM978 1179h3v3h-3zM657 1171h3v3h-3z" fill="#3d5a8c"/>
<path d="M755 926h2v2h-2zM922 1056h6v4h-6zM776 1094h2v4h-2zM743 970h6v4h-6zM719 1034h3v2h-3zM777 990h2v4h-2zM822 981h2v4h-2zM713 936h6v2h-6zM785 1097h4v2h-4zM795 1066h6v3h-6zM726 1111h2v4h-2zM856 944h4v4h-4zM845 934h3v4h-3zM756 937h2v3h-2zM712 956h3v4h-3zM698 1047h3v3h-3zM792 1058h3v4h-3zM752 950h4v4h-4zM802 1073h2v2h-2zM860 968h4v2h-4zM751 1003h3v4h-3zM765 990h2v4h-2zM805 900h2v3h-2zM672 1024h3v2h-3zM804 999h2v3h-2zM938 979h4v3h-4zM828 976h3v3h-3zM765 1015h6v4h-6zM873 1074h4v4h-4zM809 898h3v4h-3zM792 987h3v4h-3zM779 953h6v4h-6zM722 1004h2v4h-2zM804 1023h4v3h-4zM698 1004h6v2h-6zM817 1093h4v2h-4zM746 946h2v2h-2zM809 1086h4v3h-4zM771 994h2v3h-2zM795 1012h4v3h-4zM823 1037h4v3h-4zM870 1038h2v2h-2zM734 1005h4v2h-4zM755 897h2v4h-2zM803 984h2v3h-2zM867 1070h4v2h-4zM740 1009h6v4h-6zM780 1096h3v3h-3zM758 927h2v2h-2zM763 1091h4v4h-4zM941 995h4v4h-4zM825 959h3v2h-3zM852 1085h2v2h-2zM805 1006h2v2h-2zM789 998h2v4h-2zM792 983h3v3h-3zM792 976h6v2h-6zM803 970h4v2h-4zM698 1051h4v2h-4zM728 954h4v2h-4zM928 998h3v4h-3zM823 941h3v2h-3zM803 999h4v3h-4zM723 983h2v3h-2zM828 958h2v3h-2zM730 978h4v4h-4zM841 946h6v2h-6zM769 944h6v2h-6zM846 965h6v4h-6zM819 922h6v3h-6zM776 1123h3v2h-3zM807 1035h6v2h-6zM798 1098h4v3h-4zM830 981h3v4h-3zM757 964h6v4h-6zM701 949h6v3h-6zM795 882h3v4h-3zM714 1035h4v4h-4zM788 1018h2v4h-2zM794 986h6v3h-6zM895 1039h4v2h-4zM805 919h3v3h-3zM807 1070h4v3h-4zM791 996h3v2h-3zM802 1023h3v3h-3zM839 939h3v2h-3zM676 1014h6v2h-6zM852 968h2v2h-2zM803 966h6v4h-6zM807 978h2v3h-2zM862 1109h3v4h-3zM801 1048h4v4h-4zM799 1016h3v3h-3zM657 1032h2v4h-2zM815 1060h2v4h-2zM679 1059h6v4h-6zM721 936h2v3h-2zM780 952h3v4h-3zM679 967h2v4h-2zM771 1018h4v4h-4zM779 938h3v4h-3zM728 955h3v3h-3zM731 972h4v4h-4zM775 960h2v4h-2zM796 995h4v4h-4zM726 1097h3v3h-3zM814 921h3v2h-3zM782 966h3v3h-3zM845 1034h4v3h-4zM806 921h3v3h-3zM668 992h2v2h-2zM793 990h4v2h-4zM899 1046h3v3h-3zM928 969h8v3h-8zM1037 969h4v3h-4zM952 966h4v3h-4zM999 966h4v3h-4zM948 973h6v3h-6zM1035 960h8v3h-8zM1009 972h8v3h-8zM940 979h6v3h-6zM940 982h4v3h-4zM1009 966h4v3h-4zM940 974h8v3h-8zM948 981h6v3h-6zM919 983h8v3h-8zM978 970h8v3h-8z" fill="#3a78ac"/>
<path d="M804 981h6v3h-6zM769 971h3v4h-3zM803 1014h4v4h-4zM773 984h6v2h-6zM785 1041h3v3h-3zM847 924h2v3h-2zM747 947h6v3h-6zM773 967h3v4h-3zM818 968h6v4h-6zM859 1018h2v2h-2zM720 943h3v3h-3zM782 1042h4v4h-4zM660 1002h6v2h-6zM817 928h6v4h-6zM800 963h2v3h-2zM777 1044h6v4h-6zM865 966h2v3h-2zM749 943h3v4h-3zM913 967h6v3h-6zM878 1081h3v4h-3zM770 1028h4v3h-4zM866 1086h4v2h-4zM935 1033h3v2h-3zM783 912h2v3h-2zM848 959h6v3h-6zM801 1029h3v2h-3zM786 966h6v3h-6zM776 987h2v4h-2zM760 895h2v3h-2zM847 1085h4v4h-4zM707 981h2v4h-2zM778 977h6v3h-6zM767 963h3v2h-3zM789 1024h6v4h-6zM812 1059h6v3h-6zM785 1078h6v3h-6zM831 962h3v4h-3zM765 909h2v2h-2zM904 1054h6v3h-6zM828 975h3v4h-3zM785 970h6v2h-6zM789 1021h2v2h-2zM711 957h6v2h-6zM886 965h6v4h-6zM819 1021h3v3h-3zM826 959h4v2h-4zM861 1086h3v4h-3zM778 1033h2v3h-2zM797 979h4v2h-4zM734 1067h3v3h-3zM752 1082h2v4h-2zM731 997h2v2h-2zM788 977h2v2h-2zM793 1009h6v3h-6zM802 986h6v3h-6zM830 950h4v2h-4zM806 978h3v2h-3zM718 935h3v4h-3zM856 942h6v4h-6zM903 1084h4v4h-4zM710 976h3v3h-3zM755 1051h6v3h-6zM707 1052h3v3h-3zM795 1028h3v2h-3zM836 880h4v2h-4zM883 1050h6v2h-6zM699 983h4v2h-4zM794 1025h6v3h-6zM881 1036h3v3h-3zM843 953h3v3h-3zM846 919h2v3h-2zM802 1040h2v2h-2zM847 1049h2v2h-2zM776 973h3v2h-3zM787 978h6v2h-6zM785 1035h3v3h-3zM770 950h2v3h-2zM805 893h3v3h-3zM840 1032h3v4h-3zM739 967h2v4h-2zM815 897h6v4h-6zM670 983h3v4h-3zM847 1000h2v4h-2zM847 935h3v4h-3zM709 973h6v2h-6zM820 968h2v2h-2zM778 922h6v4h-6zM731 971h2v2h-2zM675 1077h6v2h-6zM736 998h6v3h-6zM811 959h6v2h-6zM836 1037h6v3h-6zM791 1031h4v2h-4zM802 974h2v4h-2zM755 975h6v4h-6zM793 919h4v3h-4zM807 917h3v3h-3zM841 989h4v2h-4zM739 973h3v4h-3zM805 993h6v3h-6zM822 907h3v3h-3zM826 980h2v2h-2zM695 1044h6v3h-6zM723 918h3v2h-3zM793 1118h6v4h-6zM772 983h6v3h-6zM793 991h3v4h-3zM855 935h2v4h-2zM848 997h2v2h-2zM767 969h6v3h-6zM778 944h4v3h-4zM667 1061h3v2h-3zM807 1099h3v4h-3zM697 947h4v3h-4zM757 894h4v4h-4zM755 1120h2v2h-2zM785 958h4v3h-4zM847 1024h6v4h-6zM802 964h4v4h-4zM806 1014h3v4h-3zM902 1036h4v3h-4zM907 1003h6v4h-6zM794 921h4v2h-4zM849 966h3v2h-3zM792 992h3v3h-3zM807 886h4v2h-4zM708 974h2v3h-2zM797 1053h3v4h-3zM792 1019h4v2h-4zM732 950h6v2h-6zM824 970h2v3h-2zM937 974h8v3h-8zM1008 957h6v3h-6zM1008 959h8v3h-8zM1022 964h6v3h-6zM920 983h8v3h-8zM1004 958h4v3h-4zM1041 974h4v3h-4zM1036 975h8v3h-8zM1029 977h8v3h-8zM973 964h8v3h-8zM953 979h4v3h-4zM932 977h8v3h-8z" fill="#2e86ba"/>
<path d="M843 896h6v2h-6zM772 986h4v2h-4zM722 1043h6v4h-6zM820 1101h3v4h-3zM905 1042h2v2h-2zM858 1010h2v2h-2zM789 975h2v2h-2zM883 1070h2v4h-2zM855 959h2v3h-2zM792 986h2v4h-2zM781 980h4v2h-4zM711 954h3v3h-3zM812 1035h3v4h-3zM691 1067h2v2h-2zM827 995h4v4h-4zM801 990h4v2h-4zM788 970h6v4h-6zM784 991h3v2h-3zM773 1010h2v2h-2zM845 966h6v3h-6zM788 1058h3v4h-3zM740 1097h2v4h-2zM912 996h2v4h-2zM793 988h4v4h-4zM776 1027h2v4h-2zM910 984h2v4h-2zM776 985h6v4h-6zM835 885h2v4h-2zM850 958h2v2h-2zM838 1068h3v2h-3zM791 927h6v4h-6zM801 920h2v2h-2zM836 903h3v3h-3zM865 1066h4v2h-4zM714 1018h6v2h-6zM844 1113h2v4h-2zM813 954h3v2h-3zM661 1058h4v2h-4zM644 1013h3v3h-3zM802 976h6v3h-6zM807 1049h2v2h-2zM728 961h6v4h-6zM830 1099h6v4h-6zM760 993h2v2h-2zM741 1117h4v3h-4zM772 1093h2v4h-2zM778 973h3v2h-3zM801 949h6v3h-6zM811 905h6v2h-6zM793 950h2v3h-2zM945 967h2v4h-2zM752 1062h4v4h-4zM845 946h6v4h-6zM796 1106h4v3h-4zM827 957h6v3h-6zM746 1061h3v4h-3zM744 1028h6v3h-6zM771 993h2v4h-2zM808 949h4v3h-4zM679 984h2v4h-2zM764 1091h6v3h-6zM809 1020h2v2h-2zM782 1092h3v3h-3zM756 929h6v2h-6zM827 1079h3v3h-3zM753 1032h4v3h-4zM793 937h3v4h-3zM860 945h4v2h-4zM749 896h2v2h-2zM735 1099h4v4h-4zM897 991h3v3h-3zM919 1059h4v4h-4zM795 989h6v4h-6zM797 879h2v3h-2zM804 966h3v2h-3zM794 991h6v3h-6zM810 909h3v2h-3zM887 1037h3v4h-3zM795 943h3v2h-3zM723 948h2v3h-2zM774 1120h3v3h-3zM763 961h4v4h-4zM875 1101h4v4h-4zM761 1051h4v2h-4zM754 1022h2v2h-2zM802 1090h4v4h-4zM803 980h6v4h-6zM765 1098h3v2h-3zM785 983h2v2h-2zM698 1060h2v4h-2zM933 981h6v4h-6zM925 1047h3v3h-3zM832 941h4v3h-4zM711 988h2v4h-2zM791 1010h3v3h-3zM798 1033h3v3h-3zM823 1103h2v3h-2zM806 1012h3v3h-3zM831 972h4v2h-4zM776 1023h3v4h-3zM916 1030h3v3h-3z" fill="#2894c4"/>
<path d="M920 1011h6v4h-6zM797 993h4v2h-4zM826 953h6v4h-6zM750 964h6v4h-6zM949 1019h3v2h-3zM872 964h4v2h-4zM826 1043h3v3h-3zM825 990h4v2h-4zM793 1067h4v4h-4zM818 1000h3v4h-3zM831 1010h6v4h-6zM731 1062h3v3h-3zM832 953h2v2h-2zM759 996h6v2h-6zM803 963h6v3h-6zM857 1096h3v3h-3zM721 1004h4v3h-4zM817 962h3v4h-3zM717 1031h6v4h-6zM829 1086h6v2h-6zM810 997h2v4h-2zM674 1052h3v2h-3zM819 1113h6v3h-6zM856 1097h3v4h-3zM886 1066h6v2h-6zM791 891h4v4h-4zM786 1104h6v2h-6zM829 1107h6v2h-6zM765 963h6v4h-6zM824 1064h6v2h-6zM905 967h3v4h-3zM859 978h3v2h-3zM772 942h2v2h-2zM805 935h2v2h-2zM761 991h6v2h-6zM969 966h4v4h-4zM819 1003h4v3h-4zM797 1022h6v3h-6zM858 987h4v2h-4zM803 1003h4v3h-4zM770 982h2v4h-2zM770 1005h4v4h-4zM842 902h6v2h-6zM828 1078h4v3h-4zM775 899h3v3h-3zM747 973h3v3h-3zM786 1020h6v4h-6zM915 1075h3v3h-3zM885 1076h4v3h-4zM808 954h3v3h-3zM893 973h2v4h-2zM808 973h3v2h-3zM812 946h6v4h-6zM740 1020h6v4h-6zM783 993h6v3h-6zM673 1028h4v3h-4zM840 907h2v4h-2zM781 1077h2v2h-2zM787 887h4v2h-4zM751 935h6v3h-6zM858 1106h3v2h-3zM752 1005h4v3h-4zM791 990h2v2h-2zM801 1072h4v2h-4zM815 988h4v2h-4zM680 1067h2v3h-2zM849 968h4v3h-4zM872 1099h4v2h-4zM796 1089h2v4h-2zM865 1012h4v4h-4zM844 955h6v3h-6zM760 974h4v3h-4zM788 988h6v3h-6zM768 1087h2v2h-2zM754 983h3v3h-3zM668 1047h4v2h-4zM782 1084h6v2h-6zM826 959h3v3h-3zM781 1053h2v4h-2zM825 1026h6v3h-6zM848 943h3v3h-3zM735 1058h3v3h-3zM814 1074h2v2h-2zM954 1020h4v2h-4zM787 976h6v2h-6zM733 996h2v2h-2zM805 904h3v2h-3zM750 996h3v2h-3zM777 1016h4v2h-4zM788 904h6v3h-6zM675 1046h4v4h-4zM825 918h2v3h-2zM782 1038h3v2h-3zM676 1029h6v4h-6zM753 1030h3v3h-3zM778 1023h2v4h-2zM810 1012h3v2h-3zM973 987h6v2h-6zM788 1074h2v3h-2zM799 1000h6v4h-6zM728 907h2v4h-2zM817 976h3v3h-3zM673 1016h3v2h-3zM810 954h2v2h-2zM855 947h4v2h-4zM688 1030h2v4h-2zM786 976h3v4h-3zM823 1008h4v2h-4zM777 1109h3v3h-3zM805 1035h4v4h-4zM846 944h4v4h-4zM837 946h2v4h-2zM859 1101h4v3h-4zM792 987h3v3h-3zM797 1006h4v2h-4zM835 978h4v4h-4zM788 962h6v2h-6zM732 1023h3v2h-3zM755 981h6v4h-6zM757 971h4v4h-4zM722 952h4v4h-4zM934 974h8v3h-8zM943 980h6v3h-6zM1014 958h8v3h-8zM995 976h6v3h-6zM989 977h6v3h-6zM1014 974h6v3h-6zM1016 974h8v3h-8zM1015 969h8v3h-8zM1042 979h8v3h-8zM953 972h4v3h-4zM966 974h8v3h-8zM1030 975h6v3h-6zM931 973h8v3h-8zM1009 967h4v3h-4z" fill="#3680b4"/>
<path d="M915 997h4v2h-4zM739 1114h6v2h-6zM830 949h2v3h-2zM891 1020h4v2h-4zM862 1082h3v4h-3zM773 1057h4v4h-4zM752 1098h4v4h-4zM811 1022h4v2h-4zM786 982h3v4h-3zM775 1093h3v4h-3zM832 884h6v4h-6zM805 971h3v4h-3zM791 917h4v2h-4zM792 902h3v3h-3zM950 989h3v2h-3zM765 1071h4v3h-4zM820 971h4v3h-4zM881 1021h4v4h-4zM834 950h2v2h-2zM779 952h4v4h-4zM800 986h2v3h-2zM719 994h6v2h-6zM861 1064h3v2h-3zM708 1019h3v2h-3zM923 982h2v2h-2zM752 1070h3v2h-3zM808 903h6v3h-6zM779 991h2v2h-2zM815 983h6v2h-6zM731 1060h2v3h-2zM707 1043h2v3h-2zM731 996h6v3h-6zM816 889h6v3h-6zM824 1122h3v3h-3zM688 1069h6v3h-6zM740 1010h4v4h-4zM823 1015h3v4h-3zM764 927h3v2h-3zM815 976h3v2h-3zM940 1075h6v4h-6zM825 1027h2v3h-2zM822 1018h2v3h-2zM796 969h6v4h-6zM770 979h4v3h-4zM791 987h4v3h-4zM840 1002h3v3h-3zM751 930h4v2h-4zM758 963h2v2h-2zM907 1081h2v3h-2zM794 879h4v2h-4zM729 1063h6v2h-6zM792 990h2v4h-2zM778 998h4v3h-4zM791 962h6v3h-6zM761 1086h4v2h-4zM745 966h3v4h-3zM915 999h4v4h-4zM681 1028h2v4h-2zM770 964h3v2h-3zM829 1037h6v2h-6zM798 984h6v3h-6zM678 970h4v2h-4zM796 995h3v3h-3zM942 1031h6v4h-6zM848 961h4v2h-4zM749 1100h2v3h-2zM802 999h2v3h-2zM786 884h4v2h-4zM693 988h6v4h-6zM868 965h4v4h-4zM865 979h2v4h-2zM656 1017h6v2h-6zM814 954h2v2h-2zM737 965h4v4h-4zM872 964h4v3h-4zM739 1039h6v2h-6zM805 984h3v2h-3zM861 1036h4v3h-4zM832 1124h3v3h-3zM759 950h3v4h-3zM799 991h6v3h-6zM874 1005h2v3h-2zM769 1030h6v3h-6zM811 1006h6v3h-6zM787 1017h6v4h-6zM842 1045h4v2h-4zM735 978h6v3h-6zM862 969h6v2h-6zM757 997h3v2h-3zM731 935h6v4h-6zM788 992h4v4h-4zM793 992h2v4h-2zM765 1092h2v4h-2zM773 1006h3v2h-3zM800 889h4v2h-4zM687 981h2v3h-2zM815 1024h6v4h-6zM675 995h6v3h-6zM687 963h6v2h-6zM752 943h6v4h-6zM728 949h3v4h-3zM675 1000h3v2h-3zM801 1098h2v3h-2zM812 972h3v3h-3zM775 1053h4v2h-4zM721 971h2v4h-2zM932 1001h6v2h-6zM760 951h4v4h-4zM789 1052h2v3h-2zM875 1091h6v3h-6zM724 930h6v3h-6zM811 1091h4v4h-4zM839 975h6v4h-6zM797 990h4v3h-4zM739 1058h6v2h-6zM759 1063h6v3h-6zM902 1080h2v4h-2zM773 1016h4v2h-4zM761 975h3v3h-3zM830 1090h6v4h-6zM863 982h2v3h-2zM641 1017h6v3h-6zM646 1040h4v3h-4zM730 936h2v4h-2zM833 962h2v2h-2zM759 1039h6v4h-6zM688 984h4v4h-4zM795 983h3v3h-3zM792 1081h3v2h-3zM832 986h4v3h-4zM853 1093h6v3h-6z" fill="#3b6aa0"/>
<path d="M785 1000h2v2h-2zM787 1003h2v2h-2zM808 984h2v2h-2zM801 998h2v2h-2zM792 999h2v2h-2zM806 985h2v2h-2zM787 1007h2v2h-2z" fill="#56f436"/>
<rect x="792" y="988" width="4.5" height="4.5" fill="#111"/>
<circle cx="551.0" cy="323.1" r="7.3" fill="#367cb0"/>
<path d="M514.3 347.8 L520.6 336.3 L531.1 332.1 L536.9 339.4 L535.2 345.7 L524.8 351 L518.5 352.4Z" fill="#2894c4"/>
<path d="M601.2 342.6 L604.4 335.2 L609.6 333.1 L610.7 323.7 L621.2 321.6 L631.6 318.5 L637.9 314.3 L645.2 316.4 L647.3 329 L650.5 341.5 L652.6 352 L661 352 L665.6 358.3 L661 364.6 L652.6 366.7 L647.3 368.8 L640 360.4 L637.9 356.2 L629.5 358.3 L621.2 359.3 L614.9 349.9 L607.5 352 L602.3 347.8Z" fill="#2e86ba"/>
<circle cx="607.5" cy="343.6" r="6.3" fill="#367cb0"/>
<circle cx="658.9" cy="358.3" r="6.3" fill="#367cb0"/>
<circle cx="648.4" cy="357.2" r="6.3" fill="#2cb0dc"/>
<rect x="640.4" y="345.7" width="11.5" height="8.0" fill="#4ee032"/>
<rect x="618.0" y="345.7" width="5.2" height="2.1" fill="#4ee032"/>
<path d="M647.3 385.5 L652.6 380.3 L659.9 379.2 L663.1 375.1 L669.3 376.1 L671 383.4 L667.2 387.6 L661 388.7 L659.9 398.1 L664.1 402.3 L665.2 412.8 L671.4 414.9 L681.9 421.2 L690.3 427.4 L692.4 442.1 L700.8 442.1 L701.8 427.4 L709.2 421.2 L719.6 417 L728 418 L732.2 425.3 L746.9 426.4 L755.3 429.5 L761.5 434.8 L757.3 440 L746.9 444.2 L732.2 445.2 L730.1 452.6 L713.3 458.9 L705 456.8 L700.8 452.6 L684 452.6 L681.9 457.8 L669.3 459.9 L664.1 452.6 L661 437.9 L656.8 421.2 L652.6 406.5 L653.6 399.2 L649.4 393.9Z" fill="#2e86ba"/>
<circle cx="723.8" cy="433.7" r="9.4" fill="#2894c4"/>
<circle cx="671.4" cy="442.1" r="8.4" fill="#2894c4"/>
<rect x="657.8" y="420.7" width="10.5" height="3.4" fill="#4ee032"/>
<rect x="661.0" y="431.6" width="4.2" height="2.1" fill="#4ee032"/>
<rect x="670.4" y="445.9" width="3.8" height="2.1" fill="#4ee032"/>
<circle cx="720.7" cy="467.9" r="5.7" fill="#367cb0"/>
<circle cx="757.8" cy="468.7" r="5.2" fill="#367cb0"/>
<circle cx="966.7" cy="391.8" r="6.3" fill="#2e86ba"/>
<path d="M869.2 486.1 L874.5 480.9 L882.9 479.8 L893.3 480.9 L903.8 487.2 L912.2 494.5 L913.9 501.8 L910.1 511.3 L903.8 512.3 L899.6 505 L889.1 506 L882.9 499.7 L876.6 496.6 L875.5 490.3Z" fill="#367cb0"/>
<circle cx="889.1" cy="492.4" r="8.4" fill="#2e86ba"/>
<circle cx="890.2" cy="495.5" r="4.6" fill="#2894c4"/>
<circle cx="958.3" cy="565.3" r="5.2" fill="#367cb0"/>
<circle cx="1138.9" cy="566.4" r="6.7" fill="#2e86ba"/>
<rect x="805.5" y="742.6" width="11.5" height="5.2" fill="#367cb0"/>
<rect x="804.5" y="751.0" width="4.2" height="3.1" fill="#367cb0"/>
<rect x="692.4" y="763.5" width="4.6" height="3.8" fill="#3a70a4"/>
<circle cx="1216.0" cy="636.3" r="4.2" fill="#2e86ba"/>
<rect x="898.6" y="760.8" width="4.6" height="4.2" fill="#367cb0"/>
<rect x="976.1" y="785.5" width="4.2" height="4.2" fill="#367cb0"/>
<rect x="962.5" y="798.1" width="4.6" height="4.2" fill="#3a70a4"/>
<rect x="956.2" y="804.4" width="4.6" height="4.2" fill="#3a70a4"/>
<rect x="1127.6" y="904.1" width="5.0" height="5.0" fill="#367cb0"/>
<rect x="927.9" y="820.1" width="3.8" height="4.6" fill="#3a70a4"/>
<rect x="918.5" y="837.9" width="4.6" height="3.8" fill="#3a70a4"/>
<rect x="927.9" y="839.0" width="3.1" height="4.6" fill="#3a70a4"/>
<rect x="914.3" y="844.2" width="8.4" height="2.5" fill="#3a70a4"/>
<circle cx="1231.5" cy="673.9" r="5.7" fill="#2e86ba"/>
<circle cx="1307.0" cy="695.4" r="6.3" fill="#2e86ba"/>
<circle cx="1220.0" cy="635.7" r="3.1" fill="#2e86ba"/>
<circle cx="1360.4" cy="828.1" r="6.7" fill="#2e86ba"/>
<circle cx="1344.7" cy="831.6" r="5.2" fill="#2e86ba"/>
<circle cx="1335.2" cy="835.8" r="5.9" fill="#4ee032"/>
<path d="M1243 951.1 L1247.2 942.7 L1257.7 940.6 L1265 946.9 L1264 955.3 L1258.8 963.6 L1251.4 963.6 L1245.1 957.3Z" fill="#2e86ba"/>
<circle cx="1303.8" cy="1001.4" r="5.2" fill="#2e86ba"/>
<ellipse cx="1354.1" cy="1011.8" rx="10.5" ry="8.4" fill="#2e86ba"/>
<path d="M1310.9 906.6 L1314.9 901.9 L1321 901.2 L1322.4 893.1 L1327.1 891 L1331.9 895.1 L1331.5 901.5 L1335.5 906.9 L1342 909.3 L1353.6 905.5 L1360.4 908.2 L1361.3 915.4 L1371.9 920.5 L1394.9 920.5 L1409.9 921.8 L1419.4 927.6 L1424.1 937.8 L1427.5 943.2 L1426.8 951.4 L1408.5 952.7 L1399 956.8 L1400.4 964.9 L1405.8 970.4 L1411.2 973.1 L1419.4 981.2 L1427.5 985.3 L1427.5 992.1 L1422.1 997.5 L1419.4 1004.3 L1415.3 1011.1 L1408.5 1017.2 L1394.9 1017.2 L1389.5 1011.1 L1388.2 1000.2 L1384.1 992.1 L1382.7 985.3 L1370.5 983.9 L1354.3 983.9 L1350.2 977.1 L1340.7 973.1 L1335.3 964.9 L1332.6 956.8 L1329.2 951.4 L1323.1 929.7 L1316.3 916.1 L1312.9 912Z" fill="#2894c4"/>
<path d="M1424.1 939.2 L1435.6 938.5 L1454.6 937.8 L1456 928.3 L1462.8 924.3 L1476.3 924 L1480.4 929.7 L1481.1 935.1 L1498 935.8 L1500.1 943.2 L1511.6 946 L1514.3 956.8 L1529.2 958.2 L1531.2 964.9 L1530.6 992.1 L1527.9 998.8 L1527.9 1007 L1522.4 1011.1 L1522.4 1019.2 L1511.6 1023.3 L1510.2 1031.4 L1503.4 1034.8 L1491.2 1032.8 L1486.5 1026 L1489.9 1020.5 L1489.2 1013.8 L1483.1 1011.1 L1480.4 1019.2 L1462.8 1020.5 L1457.3 1013.8 L1458 1007 L1449.2 1005.6 L1445.8 998.8 L1446.5 994.8 L1435.6 992.7 L1432.2 988 L1432.2 983.9 L1426.1 981.2 L1423.4 973.1 L1424.1 951.4Z" fill="#2894c4"/>
<circle cx="1326.4" cy="896.4" r="4.7" fill="#2e86ba"/>
<path d="M1354.3 964.9 L1370.5 964.9 L1381.4 975.8 L1386.8 983.9 L1370.5 983.9 L1354.3 983.9 L1350.2 977.1Z" fill="#2e86ba"/>
<path d="M1491.2 1019.2 L1511.6 1019.2 L1510.2 1031.4 L1503.4 1034.8 L1491.2 1032.8 L1486.5 1026Z" fill="#2e86ba"/>
<path d="M1449.2 996.1 L1489.9 997.5 L1522.4 998.8 L1522.4 1011.1 L1489.9 1011.1 L1462.8 1009.7 L1449.2 1005.6Z" fill="#26a4d4"/>
<path d="M1335.9 1017.8 L1339.3 1012.4 L1343.4 1005.6 L1350.2 1003.6 L1359.7 1004.3 L1363.7 1008.3 L1362.4 1013.8 L1359.7 1019.2 L1357 1024.6 L1340.7 1024.6Z" fill="#2e86ba"/>
<circle cx="1302.7" cy="1007.0" r="5.4" fill="#2e86ba"/>
<path d="M1323.7 920.2 L1327.1 918.8 L1344.8 918.8 L1347.5 928.3 L1354.3 933.7 L1370.5 935.1 L1376 935.1 L1394.9 935.1 L1412.6 933.7 L1422.1 940.5 L1427.5 943.9 L1426.1 951.4 L1411.2 952.1 L1399 946 L1386.8 951.4 L1376 952.7 L1367.8 951.4 L1361 946 L1344.8 946 L1340.7 951.4 L1333.9 948.7 L1332.6 940.5 L1324.4 936.5Z" fill="#4ee032"/>
<path d="M1327.1 920.2 L1344.8 919.5 L1346.8 924.3 L1340.7 928.3 L1327.1 928.3Z" fill="#30a024"/>
<path d="M1366.5 943.2 L1381.4 943.2 L1382.7 951.4 L1367.8 951.4Z" fill="#30a024"/>
<path d="M1394.9 935.1 L1412.6 934.4 L1408.5 941.9 L1397.7 941.9Z" fill="#30a024"/>
<path d="M1370.5 952.7 L1381.4 952.7 L1380 964.9 L1377.3 973.1 L1370.5 971.7 L1370.5 962.2Z" fill="#4ee032"/>
<rect x="1320.3" y="903.9" width="3.0" height="7.5" fill="#4ee032"/>
<path d="M1394.9 1000.2 L1397.7 992.1 L1403.1 986.6 L1411.2 983.9 L1413.9 992.1 L1411.2 998.8 L1408.5 1004.3 L1397.7 1005Z" fill="#4ee032"/>
<path d="M1400.4 973.1 L1407.1 973.1 L1408.5 978.5 L1403.1 982.6Z" fill="#4ee032"/>
<path d="M1424.1 951.4 L1430.2 939.2 L1441.1 938.5 L1449.2 943.2 L1461.4 943.9 L1462.8 937.8 L1475 936.5 L1481.7 937.8 L1492.6 946 L1511.6 947.3 L1514.3 958.2 L1529.2 958.8 L1530.6 970.4 L1530.6 996.1 L1522.4 998.2 L1503.4 996.8 L1480.4 996.1 L1479 1005.6 L1460 1007 L1458.7 997.5 L1454.6 985.3 L1435.6 985.3 L1430.2 981.2 L1424.1 973.1Z" fill="#4ee032"/>
<path d="M1447.8 943.9 L1461.4 944.3 L1461.4 950 L1449.2 950Z" fill="#2894c4"/>
<path d="M1511.6 959.5 L1529.2 959.5 L1529.2 970.4 L1511.6 970.4Z" fill="#2894c4"/>
<path d="M1424.8 952.7 L1430.2 952.1 L1430.2 970.4 L1438.3 975.8 L1438.3 984.6 L1435.6 985.3 L1430.2 981.2 L1424.1 973.1Z" fill="#30a024"/>
<path d="M1454.6 985.3 L1522.4 985.3 L1522.4 995.5 L1454.6 995.5Z" fill="#30a024"/>
<path d="M1476.3 986.6 L1517 986.6 L1517 994.1 L1476.3 994.1Z" fill="#2a881e"/>
<path d="M1454.6 986 L1475 986 L1475 995.5 L1456 995.5Z" fill="#4ee032"/>
<path d="M1466.8 959.5 L1489.9 958.8 L1489.9 983.9 L1466.8 983.9Z" fill="#30a024"/>
<path d="M1507.5 971 L1515.7 971 L1515.7 983.9 L1507.5 983.9Z" fill="#30a024"/>
<path d="M1327.1 920.2 L1336.6 919.5 L1339.3 927 L1346.1 928.3 L1346.8 936.5 L1338 938.5 L1328.5 937.8 L1326.4 929.7Z" fill="#e3e438"/>
<ellipse cx="1333.9" cy="932.7" rx="3.0" ry="4.1" fill="#d69719"/>
<rect x="1392.2" y="936.5" width="3.0" height="6.1" fill="#e3e438"/>
<path d="M1428.8 951.4 L1451.9 950.7 L1452.6 956.8 L1462.8 958.2 L1466.8 964.9 L1457.3 975.8 L1453.3 983.9 L1438.3 983.9 L1438.3 975.8 L1430.2 970.4Z" fill="#e3e438"/>
<path d="M1435.6 951.4 L1450.5 951.4 L1451.2 962.2 L1435.6 962.2Z" fill="#d0ae20"/>
<path d="M1439.7 952.1 L1447.2 952.1 L1447.8 961.6 L1439.7 961.6Z" fill="#dd7f17"/>
<path d="M1438.3 961.6 L1450.5 961.6 L1450.5 969 L1438.3 969Z" fill="#cc0020"/>
<path d="M1475 973.1 L1476.3 964.9 L1476.3 959.5 L1489.9 958.8 L1507.5 959.5 L1508.9 971 L1530.6 971.7 L1530.6 996.1 L1522.4 997.5 L1521.1 983.9 L1476.3 983.9Z" fill="#e3e438"/>
<path d="M1466.8 973.1 L1476.3 973.1 L1476.3 983.9 L1466.8 983.9Z" fill="#30a024"/>
<path d="M1507.5 971.5 L1515.7 971.5 L1515.7 983.9 L1507.5 983.9Z" fill="#30a024"/>
<path d="M1489.9 959.5 L1507.5 959.5 L1508.2 971 L1489.9 971Z" fill="#d0ae20"/>
<path d="M1489.9 959.5 L1493.3 959.5 L1493.3 971 L1489.9 971Z" fill="#d6d834"/>
<path d="M1494 960.9 L1502.1 960.9 L1502.1 971 L1494 971Z" fill="#dd7f17"/>
<path d="M1496 961.1 L1499.4 961.1 L1499.4 970.6 L1496 970.6Z" fill="#ec1030"/>
<path d="M1523.8 971.7 L1530.6 971.7 L1530.6 983.9 L1523.8 983.9Z" fill="#c2c830"/>
<circle cx="428.4" cy="1129.0" r="4.2" fill="#2e86ba"/>
<circle cx="482.4" cy="1101.7" r="3.1" fill="#367cb0"/>
<circle cx="547.4" cy="1079.3" r="2.3" fill="#367cb0"/>
<rect x="551.6" y="1124.8" width="6.3" height="5.0" fill="#3a70a4"/>
<rect x="610.3" y="1264.1" width="5.4" height="5.4" fill="#367cb0"/>
<rect x="597.7" y="1081.8" width="2.9" height="4.6" fill="#3a70a4"/>
<circle cx="608.6" cy="1059.8" r="4.2" fill="#3a70a4"/>
<rect x="920.6" y="1181.8" width="4.6" height="4.6" fill="#46d02e"/>
<rect x="923.7" y="1180.3" width="3.8" height="2.9" fill="#30a024"/>
<rect x="921.4" y="1186.0" width="4.2" height="3.4" fill="#2894c4"/>
<rect x="926.4" y="1178.2" width="4.2" height="2.9" fill="#367cb0"/>
<circle cx="876.6" cy="1206.5" r="3.1" fill="#367cb0"/>
<rect x="889.1" y="1204.0" width="3.8" height="4.2" fill="#367cb0"/>
<rect x="884.5" y="1225.3" width="4.2" height="4.2" fill="#367cb0"/>
<circle cx="870.7" cy="1187.2" r="1.9" fill="#367cb0"/>
<rect x="945.1" y="1161.2" width="3.4" height="3.4" fill="#367cb0"/>
<ellipse cx="1292.3" cy="1118.5" rx="5.9" ry="9.4" fill="#2e86ba"/>
<path d="M1261.9 1134.2 L1270.3 1124.8 L1275.5 1117.4 L1282.9 1115.3 L1285 1120.6 L1278.7 1126.9 L1276.6 1137.3 L1280.8 1145.7 L1274.5 1149.9 L1268.2 1145.7 L1269.2 1139.4Z" fill="#2e86ba"/>
<circle cx="1345.7" cy="1020.0" r="7.3" fill="#2894c4"/>
<ellipse cx="1498.7" cy="1026.3" rx="12.6" ry="8.4" fill="#2894c4"/>
<circle cx="509.1" cy="1570.9" r="6.9" fill="#3cbc2a"/>
<circle cx="525.4" cy="1563.9" r="6.9" fill="#3cbc2a"/>
<circle cx="519.9" cy="1576.1" r="6.9" fill="#2e86ba"/>
<circle cx="782.5" cy="1613.4" r="6.3" fill="#2894c4"/>
<circle cx="794.4" cy="1613.8" r="6.3" fill="#2e86ba"/>
<circle cx="737.4" cy="1640.0" r="6.3" fill="#2894c4"/>
<circle cx="736.4" cy="1650.5" r="6.9" fill="#2894c4"/>
<circle cx="723.4" cy="1657.4" r="6.7" fill="#2894c4"/>
<circle cx="1074.2" cy="1535.2" r="6.3" fill="#26a4d4"/>
<circle cx="1064.1" cy="1540.1" r="5.9" fill="#26a4d4"/>
<circle cx="1069.8" cy="1551.0" r="5.9" fill="#2e86ba"/>
<circle cx="1058.9" cy="1555.1" r="5.9" fill="#2894c4"/>
<path d="M20 231.5 L34.7 221M192.9 221 L246.3 257.3M317.1 221 L317.1 230.1 L246.7 231.5 L246.3 257.3 L248 295.4 L248.8 362.5 L148.9 364.6 L151 501.8M248 295.4 L366.8 296.5 L366.8 287.1 L374.1 292.3 L386.7 287.1 L397.2 291.2 L409.7 295.4 L420 300.7M136.9 576.2 L135.2 503.9 L203.3 501.8 L203.3 492.4 L262 492.4 L262 497.6 L280.9 497.6 L281.9 555.3 L332.2 556.7 L355.3 555.3 L374.1 572M420 300.7 L425.2 303.8 L426.3 312.2 L424.2 318.5 L429.4 326.9 L438.9 335.2 L451.4 341.5 L464 345.7 L476.6 346.8 L487.1 351M1538.5 483 L1567.8 490.3M20 717.4 L70.3 716.4 L70.3 722.7 L85 722.7 L85 739.4M79.7 739.4 L145.7 738.4M79.7 739.4 L79.7 751M145.7 738.4 L145.1 710.1 L149.9 710.1 L154.1 705.9 L162.5 711.1 L224.3 648.3M145.7 738.4 L145.7 814.9 L154.1 824.3 L166.7 825.3 L173 822.2 L175.1 829.5 L187.6 840 L198.1 848.4 L204.4 856.8 L209.6 856.8 L210.7 869.3 L215.9 879.8 L206.5 892.4 L204.4 907.1M79.7 751 L41 790.8 L39.9 779.2 L25.2 779.2 L24.2 793.9 L20 795M79.7 751 L124.8 792.9 L81.8 837.9 L51.4 870.4 L46.2 864.1 L33.6 877.7 L37.8 881.9 L20 899.7M81.8 837.9 L100.7 859.9 L108 864.1 L114.3 879.8 L124.8 880.9 L142.6 898.7 L176.1 929.1 L170.9 942.7 L164.6 943.7M142.6 898.7 L100.7 941.6 L81.8 924.9 L69.2 937.4 L20 939.5M330.1 878.8 L347.9 903.9 L340.6 903.9 L339.5 917.5 L349 925.9 L372 931.2 L388.8 921.7 L403.4 916.5 L420 916.1M339.5 917.5 L321.7 916.5 L300.8 919.6 L292.4 928 L294.5 940.6 L273.5 951.1 L261 957.3 L248.4 955.3 L244.2 944.8 L233.7 942.7 L234.8 925.9M248.4 955.3 L242.1 965.7 L235.8 990.9 L229.5 995.1 L202.3 1007.6 L193.9 1006.6M235.8 990.9 L244.2 986.7 L256.8 997.2 L259.9 1020M390.9 1020 L405.5 1011.8 L420 1008.7M420 916.5 L436.8 915.4 L449.3 917.5 L478.7 928 L491.2 944.8 L476.6 965.7 L461.9 976.2 L459.8 986.7 L441 999.3 L428.4 1003.4 L420 1009.7M478.7 928 L489.1 917.5 L516.4 916.5 L518.5 898.7 L512.2 898.7 L505.9 901.8 L502.8 897.6M491.2 944.8 L508 951.1 L533.1 945.8 L539.4 949 L536.3 972 L551 974.1 L551 982.5 L570.9 985.6 L568.8 988.8 L570.9 999.3 L579.2 999.3 L587.6 988.8 L593.9 986.7 L608.6 972 L612.8 963.6 L623.2 951.1 L626.4 934.3 L627.4 921.7M668.3 938.5 L676.7 943.7 L676.7 951.1 L667.2 959.4 L650.5 972 L640 986.7 L619.1 1003.4 L598.1 1013.9 L587.6 1020M763.6 972 L755.3 980.4 L740.6 988.8 L730.1 999.3 L717.5 1007.6 L709.2 1020M1112.3 930.1 L1108.1 940.6 L1115.4 946.9 L1117.5 963.6 L1111.3 972 L1115.4 978.3 L1132.2 980.4 L1140.6 986.7 L1149 982.5 L1153.2 993 L1163.6 995.1 L1167.8 1003.4 L1165.7 1020M1220 953.2 L1205.5 963.6 L1199.3 959.4 L1180.4 972 L1184.6 980.4 L1159.4 995.1M1113.3 1020 L1119.6 1013.9 L1130.1 1020M1326.9 801.2 L1354.1 802.3 L1366.7 817M1440 798.1 L1442.1 783.4 L1433.7 764.6 L1445.2 760.4 L1450.5 775.1 L1463.1 770.9 L1423.2 666.1M1326.9 801.2 L1327.9 837.9 L1376.1 908.1 L1381.3 902.9 L1408.6 913.3M1408.6 867.2 L1448.4 856.8 L1444.2 839 L1475.6 840M1484 876.7 L1509.2 871.4 L1555.3 864.1M1463.1 770.9 L1479.8 762.5 L1492.4 754.1 L1492.4 745.7 L1506 733.1 L1499.7 723.7 L1534.3 695.4 L1542.7 686 L1567.8 673.4M1477.7 761.4 L1500.8 814.9 L1513.3 814.9M1270.3 917.5 L1220 953.2M1247.2 938.5 L1264 939.5 L1272.4 953.2 L1287.1 957.3 L1276.6 972 L1299.6 990.9 L1333.1 993 L1349.9 1020M1303.8 995.1 L1304.9 1020M1329 839 L1317.4 848.4M257.8 1020 L258.9 1025.2 L275.6 1022.1 L288.2 1028.4 L290.3 1038.9 L298.7 1039.9 L300.8 1046.2 L322.8 1048.3 L322.8 1072.4 L338.5 1071.3 L346.9 1082.9 L351.1 1103.8M388.8 1020 L376.2 1032.6 L350 1051.4 L363.6 1063 L388.8 1064 L411.8 1057.7 L420 1058.8M390.9 1065 L397.2 1074.5 L393 1087.1 L376.2 1092.3 L349 1103.8 L334.3 1112.2 L321.7 1119.5 L311.3 1119.5M420 1072.4 L415 1076.6 L417.1 1087.1 L420 1088.1M300.8 1112.2 L311.3 1119.5 L340.6 1162.5 L332.2 1170.9 L346.9 1192.9M117.4 1191.8 L122.7 1198.1 L129 1200.2 L131.1 1187.6 L137.3 1185.5 L143.6 1189.7 L134.2 1200.2 L135.2 1212.8 L131.1 1215.9 L141.5 1221.2 L156.2 1228.5 L170.9 1221.2 L185.5 1217 L187.6 1210.7 L197.1 1206.5 L212.8 1240 L214.9 1252.6 L233.7 1264.1 L233.7 1269.3 L228.5 1274.6 L242.1 1292.4M420 1149.9 L397.2 1166.7 L372 1181.3 L346.9 1192.9 L330.1 1208.6 L313.3 1225.3M313.3 1225.3 L350 1275.6 L313.3 1309.2 L292.4 1323.8 L292.4 1334.3 L296.6 1342.7 L281.9 1359.4 L279.8 1372 L286.1 1384.6 L296.6 1390.9 L309.2 1384.6 L317.5 1376.2 L353.2 1405.5 L342.7 1420M105.9 1390.9 L133.1 1395.1 L133.1 1403.4 L147.8 1407.6 L175.1 1411.8 L187.6 1420M420 1058.8 L428.4 1057.7 L435.7 1060.9 L428.4 1068.2 L420 1074.5M420 1089.1 L429.4 1086 L434.7 1103.8 L443 1100.7 L446.2 1108 L463 1099.6 L467.1 1121.6M420 1151 L430.5 1139.4 L441 1130 L467.1 1121.6 L487.1 1118.5 L510.1 1110.1 L529 1091.2 L545.7 1061.9 L564.6 1038.9 L581.3 1028.4 L589.7 1020M510.1 1110.1 L557.2 1166.7 L542.6 1176.1 L563.5 1205.4 L541.5 1227.4 L556.2 1245.2 L547.8 1261 L554.1 1269.3 L549.9 1281.9 L537.3 1291.3 L547.8 1300.8 L561.4 1322.8M710.2 1020 L692.4 1032.6 L689.3 1045.1 L675.6 1064 L656.8 1080.8 L637.9 1097.5 L631.6 1120.6 L621.2 1137.3 L621.2 1154.1 L626.4 1164.6 L624.3 1177.2 L615.9 1193.9 L614.9 1206.5 L606.5 1221.2 L587.6 1237.9 L566.7 1248.4 L554.1 1256.8 L551 1263.1M820 1137.3 L809.7 1154.1 L801.4 1175.1 L782.5 1200.2 L755.3 1219.1 L713.3 1261 L681.9 1290.3 L652.6 1313.3 L614.9 1319.6 L561.4 1322.8 L537.3 1332.2 L510.1 1344.8 L464 1360.5 L441 1365.7 L420 1363.6M782.5 1200.2 L797.2 1206.5 L820 1208.6M681.9 1290.3 L688.2 1302.9 L694.5 1315.4 L692.4 1317.5 L697.6 1334.3 L694.5 1346.9 L695.5 1363.6 L693.4 1376.2 L695.5 1386.7 L692.4 1401.4 L686.1 1411.8 L683 1420M820 1139.4 L832.6 1124.8 L847.2 1101.7 L861.9 1067.1 L908 1098.6 L920.6 1077.6 L929 1082.9 L945.7 1097.5 L954.1 1080.8 L964.6 1076.6 L970.9 1061.9 L977.2 1053.5 L980.3 1041M980.3 1041 L1004.4 1051.4 L1008.6 1061.9 L1021.2 1061.9 L1035.8 1070.3 L1046.3 1075.5 L1050.5 1082.9 L1063.1 1090.2 L1075.6 1085 L1088.2 1103.8 L1087.2 1118.5 L1084 1126.9M1087.2 1118.5 L1101.8 1103.8M820 1206.5 L838.9 1208.6 L839.9 1205.4 L855.6 1207.5 L856.7 1218 L878.7 1222.2 L885 1233.7 L891.2 1235.8 L891.2 1244.2 L895.4 1252.6 L889.1 1258.9 L882.9 1267.2M882.9 1267.2 L899.6 1265.2 L914.3 1267.2 L924.8 1275.6 L929 1290.3 L937.3 1300.8 L934.2 1319.6 L939.4 1331.2 L924.8 1343.7 L912.2 1355.3 L922.7 1359.4 L923.7 1372 L933.1 1380.4 L945.7 1387.7 L954.1 1385.6 L958.3 1388.8M1098.7 1036.8 L1113.3 1033.6 L1117.5 1024.2 L1121.7 1020M1123.8 1020 L1140.6 1024.2 L1142.7 1032.6 L1153.2 1033.6 L1155.3 1024.2 L1176.2 1020M1203.4 1020 L1204.5 1038.9 L1220 1041M1204.5 1038.9 L1196.1 1039.9 L1176.2 1080.8 L1161.5 1100.7 L1180.4 1102.8 L1185.6 1129 L1180.4 1149.9 L1174.1 1158.3M1220 1041 L1245.1 1045.1 L1253.5 1047.2 L1268.2 1030.5 L1272.4 1034.7 L1297.5 1031.5 L1298.6 1020M1245.1 1045.1 L1251.4 1072.4 L1257.7 1091.2M1347.8 1020 L1354.1 1034.7 L1364.6 1043M77.6 1493.3 L82.9 1499.6 L89.1 1489.1 L103.8 1485 L105.9 1493.3 L112.2 1494.4 L137.3 1497.5 L140.5 1489.1 L162.5 1493.3 L166.7 1491.2 L209.6 1504.9M174 1626.4 L190.8 1629.5 L186.6 1652.6 L185.5 1656.8 L219.1 1663.1 L231.6 1671.4 L237.9 1692.4 L242.1 1713.3 L250.5 1728 L237.9 1734.3 L240 1742.7 L229.5 1757.3M187.6 1420 L198.1 1428.4 L233.7 1447.2 L263.1 1480.8M200.2 1702.9 L183.4 1730.1 L170.9 1746.9 L141.5 1757.3M233.7 1755.3 L254.7 1751.1 L271.4 1750 L281.9 1757.3M685.1 1420 L677.7 1430.5 L665.2 1445.1 L650.5 1459.8 L633.7 1474.5 L621.2 1480.8 L612.8 1493.3 L602.3 1508 L593.9 1520.6M593.9 1520.6 L602.3 1522.7 L617 1539.4 L629.5 1540.5 L642.1 1539.4 L661 1545.7 L705 1544.7 L716.5 1549.9 L738.5 1540.5 L761.5 1530 L772 1532.1 L786.7 1530 L790.9 1549.9 L788.8 1566.7 L793 1573 L788.8 1583.4 L791.9 1600.2 L786.7 1612.8 L786.7 1621.2 L791.9 1627.4M426.3 1757.3 L436.8 1753.2 L447.2 1744.8 L457.7 1743.7 L470.3 1746.9 L478.7 1753.2 L482.9 1757.3" fill="none" stroke="#808080" stroke-width="2.7" stroke-linejoin="round" stroke-linecap="round"/>
<path d="M1470.4 494.5 L1473.9 495.3 L1476.9 494.3 L1479.8 492.4 L1483.2 490.3 L1486.3 487.9 L1490.3 487.2 L1493.8 488.6 L1497.4 489.5 L1500.8 491.3 L1503.5 494.9 L1508.3 495.5 L1511.3 498.7 L1514.7 496.5 L1518.4 494.8 L1521.7 492.4 L1525.6 491.8 L1527.3 488.2 L1530.1 486.1 L1533 488.7 L1534.3 492.4 L1538.5 492.4 L1539.7 487.7 L1538.5 483M1452.6 595.1 L1456.4 594.1 L1459.3 598 L1463.1 597.2 L1464.1 601.3 L1468.2 603.6 L1469.3 607.6 L1472.2 609.7 L1475.1 611.6 L1477.7 613.9 L1480.7 612.4 L1483.6 610.8 L1484.1 606.2 L1486.4 603.9 L1490.3 603.4 L1494 602.6 L1495.7 599 L1498.7 597.2 L1498.6 600.7 L1502.9 602.7 L1502.1 606.5 L1502.9 609.7 L1506.1 612.2 L1510.7 611.7 L1513.1 616.3 L1517.5 616 L1522 617.1 L1525.6 612.5 L1530.1 613.9 L1533.9 611.1 L1538.5 612.7 L1542.7 611.8 L1546.7 612.1 L1548.7 608.2 L1551.5 605.9 L1555.3 605.5 L1558.5 606.2 L1562.2 605.6 L1565.1 607.5 L1567.8 609.7M1220 878.8 L1215.7 877 L1211.6 877.4 L1207.6 879.8 L1209.7 883.3 L1209.5 886.8 L1207.6 890.3 L1205.4 893.5 L1205.2 897.1 L1205.5 900.8 L1207.9 903.5 L1211.7 904.3 L1213.9 907.1 L1216.6 910.5 L1220 913.3M1296.5 770.9 L1299 773.9 L1299.1 777.9 L1300.7 781.3 L1303.7 783 L1305.9 785.5 L1304.9 791.8 L1307.3 794.9 L1310 797.8 L1313.2 800.2 L1316.8 798.5 L1320.2 798.5 L1323.3 802.5 L1326.9 801.2M1366.7 817 L1369.1 813.9 L1371.9 811.3 L1375.8 810.3 L1379.2 808.6 L1381.5 805.2 L1384.4 802.7 L1388.4 801.9 L1391.8 800.2 L1394.2 796.8 L1394.2 793.1 L1394.6 789.4 L1393.9 785.5 L1390.8 783.1 L1389.7 779.2 L1393 777.3 L1396 775.1 L1399.3 775.9 L1402.4 777.3 L1404.4 780.3 L1407.7 778.1 L1411.2 778.3 L1414.9 779.2 L1415.4 783.2 L1417.8 785.7 L1421.2 787.6 L1422.8 791.2 L1425.4 793.8 L1430 794.5 L1431.6 798.1 L1435.8 797.2 L1440 798.1M1408.6 913.3 L1410.2 910.4 L1411.7 907.4 L1413 904.3 L1412.8 900.8 L1414.4 897.2 L1413 893.9 L1413.4 890.5 L1408.9 887.6 L1410.5 884 L1412.3 880.4 L1410.5 877.2 L1411.2 873.7 L1407.2 870.8 L1408.6 867.2M1475.6 840 L1476.6 843.9 L1479.8 846.3 L1475.6 848.4 L1473.5 852.6 L1475.7 855.5 L1478.6 857.8 L1481.7 860 L1481.3 864.8 L1484 867.2 L1484.1 872 L1484 876.7M1555.3 864.1 L1556.9 867.5 L1558.5 870.9 L1557.1 875 L1560.5 877.9 L1559.4 881.9 L1561 884.9 L1563.3 887.5 L1566.2 889.7 L1566.1 893.7 L1567.8 896.6 L1569.5 900.2 L1567.3 903.3 L1568.5 906.9 L1568 910.2 L1565.7 913.3M1513.3 814.9 L1515.3 818.1 L1512.7 822.3 L1515.4 825.3 L1515.5 829.7 L1511.4 832.3 L1512.5 837.1 L1509.2 840 L1508.5 843.9 L1503.8 845.7 L1505.3 850.7 L1501.9 853.1 L1500.8 856.8 L1502 860.4 L1503.1 864 L1503.9 867.8 L1505 871.4M1220 912.3 L1223.1 910.6 L1226 908.6 L1228.7 906.1 L1232.6 906 L1234.6 909.3 L1239.7 907.9 L1241.4 911.7 L1243.3 915.1 L1247.2 915.4 L1251 913.8 L1254.6 916.2 L1258.2 916.8 L1261.9 916.5 L1266.4 914.9 L1270.3 917.5 L1269.7 913.9 L1271.2 910.2 L1270.1 906.5 L1270.3 902.9 L1273.3 899.1 L1274.5 894.5 L1277 891.7 L1280.3 890.6 L1283.2 888.7 L1287.1 888.9 L1291 889.3 L1293.3 886.1 L1297 884.4 L1301 883 L1303.8 879.8 L1307.1 877.9 L1311.2 878.1 L1314.3 875.6 L1312.9 872 L1314.1 868.7 L1316.3 865.5 L1316.9 862.1 L1315.9 858.6 L1314.8 855 L1316 851.7 L1317.4 848.4M1376.1 908.1 L1376.3 911.8 L1377.5 915.4 L1377.3 919.2 L1379.5 922.6 L1377.3 926.6 L1379.2 930.1 L1379.3 933.9 L1381.4 936.7 L1384.9 938.9 L1384.7 942.7 L1387 945.5 L1387.6 949 L1390.7 951.2 L1390.1 956 L1392.1 959.1 L1397.7 959.5 L1398.1 963.6 L1395.5 966.3 L1395.6 969.8 L1395.5 973.2 L1393.9 976.2 L1396.4 978.9 L1396.3 982.9 L1398.8 985.5 L1400.2 988.8M1376 935.1 L1378.2 937.7 L1379.8 940.7 L1380.5 944.4 L1384.1 946 L1386.9 948.6 L1389.5 951.4 L1392.2 954.1 L1393.7 957.9 L1397.1 960.7 L1397.7 964.9 L1395.8 967.6 L1393.5 970 L1392.2 973.1 L1392.9 976.9 L1397.5 978.5 L1397.7 982.6 L1397.1 986.3 L1394.9 989.4M134.2 1200.2 L135.7 1197 L137.3 1193.9 L140.9 1193.3 L144.3 1192.1 L146.8 1188.6 L150 1186.8 L154.1 1187.6 L157.3 1186.2 L160.6 1184.9 L164.5 1186.5 L167.7 1185.1 L170.9 1183.4 L174.3 1183.5 L177.6 1182.9 L181 1182.9 L184.1 1180.1 L187.6 1181.3 L188.9 1177.6 L189.3 1173.4 L194.1 1171.1 L193.9 1166.7 L197 1163.7 L201.6 1166 L204.4 1161.6 L208.6 1162.5 L211.6 1161 L213.1 1157.7 L215.8 1155.9 L219.6 1155.3 L221.2 1152 L222.8 1148.4 L225.7 1146.8 L230.5 1148.4 L232.3 1145.1 L234.1 1141.7 L237.9 1141.5 L241.9 1141.2 L244.3 1138.9 L244.3 1133.9 L247.7 1132.9 L250.5 1131.1 L252.4 1127.9 L255.6 1126.8 L259.2 1126.3 L260.8 1122.8 L264.9 1123.1 L267.2 1120.6 L269.9 1117.4 L273.4 1116.6 L277.8 1118.2 L280.5 1115.1 L284 1114.3 L287.3 1113.5 L290.8 1113.9 L294.1 1112.9 L297.4 1112.1 L300.8 1112.2M313.3 1225.3 L311.6 1228.6 L307.7 1229.8 L305.2 1232.3 L302.2 1234.3 L300.8 1237.9 L297.2 1241.3 L292.4 1242.1 L289.9 1245.2 L287 1247.6 L283.7 1249.4 L279.8 1250.5 L276.9 1252.2 L276.9 1256.5 L273.4 1257.7 L272.4 1261.1 L270.1 1263.3 L267.2 1265.2 L266 1268.4 L262.7 1270.7 L262.1 1274.4 L261 1277.7 L259.9 1281.9 L256.5 1283.7 L254.3 1286.7 L250.5 1288.2 L246.5 1289.8 L243.9 1292.8 L242.1 1296.6 L239.4 1299 L237.9 1302 L236.8 1305.1 L234.5 1307.7 L233.7 1311.1 L234.5 1315.1 L230.6 1317 L230.6 1320.7 L227.5 1322.4 L223.8 1322.9 L221 1325.4 L218.2 1327.6 L215.2 1329.5 L211.9 1330.8 L208.6 1332.2 L206 1334.5 L203.4 1336.8 L198.9 1335.4 L196 1337 L192.6 1337.7 L190.2 1340.4 L187.6 1342.7 L185.3 1345.3 L182.5 1347.6 L182.7 1352.1 L178.6 1353.4 L177.4 1356.8 L175.1 1359.4 L174.6 1363 L172.7 1365.8 L169.7 1367.8 L169 1371.2 L166.5 1373.5 L164.6 1376.2 L162.4 1378.7 L161.5 1382 L160.8 1385.5 L157.6 1387.4 L156.9 1390.8 L154.1 1393 L154 1396.7 L152.9 1400.2 L150.9 1403.2 L150.9 1407.1 L147.8 1409.7M353.2 1405.5 L351.4 1401.4 L353.2 1397.2 L356 1395.1 L357.9 1392.4 L361 1390.6 L361.5 1386.7 L364.4 1384.6 L367.5 1383.5 L371.3 1384.6 L374.3 1383.2 L377 1380.6 L380.4 1380.4 L384.4 1379.6 L387.5 1376.8 L391.9 1376.9 L395.1 1374.1 L397.1 1370.9 L400.3 1369.7 L404.8 1370.7 L406.5 1366.8 L409.7 1365.7 L412.9 1364 L416.9 1365.7 L420 1363.6M882.9 1267.2 L880.7 1271.4 L882.9 1275.6 L882.6 1279.8 L877.8 1280.6 L877.8 1285 L872.7 1285.5 L874.2 1290.9 L870.3 1292.4 L868.5 1296.6 L870.3 1300.8 L866.4 1302.2 L862.5 1303.6 L859.8 1307.1 L855.4 1307.2 L854.2 1312.2 L850.8 1314 L847.2 1315.4 L847 1319.8 L849.6 1323.7 L849.3 1328 L848.5 1331.4 L846.9 1334.3 L844.1 1336.4 L845.6 1340.2 L848.1 1342.9 L851 1345.2 L854.6 1346.9 L853.2 1351.1 L848.1 1352.7 L847.2 1357.3 L844.9 1359.8 L843.5 1363.2 L840.5 1365 L838.3 1367.7 L835.7 1369.9 L838.6 1372.5 L837.5 1376.3 L839.5 1379.1 L839.9 1382.5 L838.8 1385.6 L836.4 1388.3 L836.9 1391.8 L836.8 1395.1 L838.2 1398.1 L837.3 1401.9 L837.7 1405.2 L841 1407.6 L841.3 1411.8 L839.6 1416.1 L842 1420M209.6 1504.9 L208.4 1508.3 L206.2 1511.2 L204.4 1514.3 L202.1 1517.1 L199.5 1519.5 L197.1 1522.1 L193.8 1523.8 L191.8 1526.9 L191.6 1530.6 L188.7 1533.3 L190.2 1537.7 L187.6 1540.6 L185.5 1543.6 L187.3 1547.6 L187.6 1552 L190.5 1549.1 L195 1550.3 L198.1 1547.8 L201.8 1548 L204.7 1551.2 L208.6 1551M343.7 1420 L340.9 1422.4 L337.3 1424 L334.1 1426 L333.5 1430.8 L330.1 1432.6 L326.4 1433 L323.4 1434.9 L320.3 1436.6 L317.5 1438.9 L314 1440.7 L310.6 1441 L307.1 1439.4 L303.6 1437.7 L300.1 1440 L296.6 1438.9 L294.9 1442.2 L294 1445.9 L290.1 1448.2 L288 1451.4 L288.2 1455.6 L284.9 1458.1 L280 1457.8 L277.7 1461.9 L278 1466 L273.3 1467.5 L271.5 1470.6 L271.4 1474.5 L269.7 1478.1 L265.2 1478.7 L263.1 1481.8 L260 1483.5 L256.1 1483.8 L255 1488.6 L251.2 1489.2 L248.4 1491.2 L244.5 1492.6 L242.7 1496 L241.2 1499.7 L237.9 1501.7 L237.4 1505.9 L232 1506.9 L231.7 1511.2 L229.5 1514.3 L226.6 1517.3 L229.8 1521.6 L227.4 1524.8 L223.8 1526.4 L221.2 1529 L218.2 1531.3 L217 1535.2 L217.2 1539.4 L214.1 1541.8 L213.8 1545.6 L209.2 1547.3 L208.6 1551 L207.8 1555 L203.8 1557.9 L204.4 1562.5 L202.4 1565.7 L198.6 1567.2 L195.8 1569.8 L195.5 1574.4 L192 1576.3 L189.7 1579.2 L187.1 1582.6 L188.6 1586.6 L188.8 1590.3 L187.6 1593.9 L188 1598.3 L184.9 1602.1 L185.5 1606.5 L184.6 1610.2 L181 1612.1 L179 1615.1 L177 1618.1 L175.1 1621.2 L174 1626.4 L173.6 1630.2 L169.7 1631.8 L166.9 1634 L166.7 1637.9 L164.5 1641.6 L161.7 1644.7 L158.3 1647.3 L154 1648.2 L151.8 1651.8 L149.5 1655.3 L145.7 1656.8 L143.8 1660.7 L138.8 1660 L136.7 1663.6 L133.1 1665.2 L131.7 1668.9 L131 1672.9 L127.9 1675.9 L126.9 1679.8 L123.6 1681.1 L122.2 1684.7 L120.2 1687.6 L116.4 1688.2 L112.4 1688.6 L110.1 1690.9 L110.3 1696.2 L106.1 1696.4 L103.8 1698.7 L104.4 1702.5 L107 1705.5 L108 1709.2 L104.5 1710.4 L100.9 1711.6 L99 1715.1 L96.6 1717.9 L93.3 1719.6 L90.9 1722.6 L87.6 1724.1 L84.7 1726.3 L81.6 1728.2 L78.3 1729.5 L74.5 1730.1 L70.8 1730.6 L68.6 1733.6 L65.1 1734.4 L61.9 1735.8 L59.3 1738.1 L58.3 1742.9 L53.3 1741.3 L51.4 1744.8 L48.3 1747.3 L44.2 1745 L40.6 1745.3 L37.3 1746.9 L34.1 1748.7 L30.5 1749 L27.7 1752.2 L24.2 1753.5 L20 1753.2M263.1 1481.8 L266.6 1480.1 L270.4 1482 L274 1480.3 L277.7 1480.8 L281.5 1482.6 L283.3 1486.3 L286.1 1489.1 L287.2 1493.3 L288.2 1497.5 L291.4 1498.5 L294.5 1499.4 L298 1499.6 L300.8 1501.7 L303.8 1503.6 L304.3 1507.5 L307.7 1509.1 L309.2 1512.2 L310.5 1516.7 L313.3 1520.6 L315.6 1523.4 L318.4 1525.4 L321.1 1527.4 L325.7 1526.2 L328 1529 L331.1 1531.8 L331.3 1536.5 L334.3 1539.4 L337.3 1541.8 L341.3 1542.5 L343.3 1546.4 L346.9 1547.8 L348.3 1551.2 L350.9 1553.2 L355.3 1553.1 L357.5 1555.5 L359.4 1558.3 L363.4 1559.7 L361.9 1565.2 L366.8 1565.9 L367 1570.1 L369.8 1572.4 L372 1575.1 L373.8 1578.4 L376.1 1581.4 L377.1 1585.3 L380.4 1587.6 L382.1 1591 L385.3 1593.4 L388.2 1596.1 L388.8 1600.2 L391.3 1602.6 L392.3 1606.5 L397.3 1606.4 L398 1610.6 L400.6 1612.8 L403.4 1614.9 L407.2 1614 L410.7 1614.9 L413.9 1617 L415.3 1620.3 L418.2 1622.4 L420 1625.3M593.9 1520.6 L591.1 1523.3 L588.6 1526.1 L587.5 1530 L585.5 1533.1 L585.5 1537.3 L586 1541.5 L585.5 1545.7 L581.9 1547.8 L583.3 1552.4 L582.3 1555.9 L579.2 1558.3 L578.7 1562.4 L577.1 1566.1 L575.3 1569.6 L573 1573 L575.9 1575.1 L578.6 1577.5 L579.2 1581.3 L582.5 1582.8 L585.4 1584.8 L587.6 1587.6 L587.3 1591.3 L589 1595 L589.6 1598.6 L587.6 1602.3 L589.7 1606.3 L588.8 1610.7 L589.7 1614.9 L596 1615.9 L594.3 1618.9 L591.8 1621.2 L591.2 1625 L591.3 1628.8 L593.5 1632.4 L595.3 1636 L593.9 1640 L593.1 1643.8 L593.3 1647.4 L595.2 1651 L595 1654.7 L592 1657 L590.8 1660.9 L587.6 1663.1 L584.9 1665.9 L584.5 1669.4 L583.8 1672.8 L582.2 1676 L583.4 1679.8 L583.2 1683.8 L580.4 1686.7 L579.2 1690.3 L575.8 1690.3 L572.5 1691.1 L570 1693.9 L566.7 1694.5 L569.3 1698.3 L568.8 1702.9 L566.8 1706.1 L567.7 1710.5 L564.6 1713.3 L564.6 1719.6 L560.8 1719.8 L558.2 1723.9 L554.2 1723 L550.6 1723.9 L547.6 1726.5 L543.6 1725.9 L542.1 1729.1 L540.5 1732.2 L542.2 1735.7 L544.5 1738.9 L545.7 1742.7 L549.5 1745.5 L554.1 1744.8 L550 1744.6 L546.4 1745.9 L543.6 1749 L544.7 1755.3 L541.3 1757.4 L537.3 1757.3M420 1622.2 L422.8 1625.3 L426.7 1625.8 L430.5 1626.4 L434.5 1628.3 L438.6 1629.6 L443 1628.5 L446.4 1630 L447.9 1633.7 L449.7 1636.9 L453.5 1637.9 L455.7 1641.4 L459.6 1642.4 L463.8 1642.9 L466.1 1646.3 L469.4 1647 L471.7 1650.5 L476.1 1647.7 L478.7 1650.5 L480.8 1653.7 L479.5 1658.2 L482.9 1661 L485.1 1664 L487.1 1667.2 L488.4 1670.7 L487.9 1674.2 L487.1 1677.7 L487.7 1681.4 L491.8 1682.1 L493.6 1684.8 L495 1687.9 L496.5 1690.9 L499.6 1692.4 L501.8 1696.6 L503.8 1700.8 L508.9 1701.1 L512.2 1705 L516.3 1706.3 L520.6 1707.1 L525 1708.8 L527.6 1712.1 L529 1716.5 L530.6 1712.9 L534.8 1711.9 L536.1 1707.9 L539.4 1706 L542.8 1707.6 L546.7 1705.9 L549.9 1708.1 L553.9 1705.8 L558.3 1707.1 L563 1708.7 L564.6 1713.3M842 1420 L845.1 1422 L844.8 1426.1 L847.2 1428.4 L847 1432.6 L848 1436.8 L848.3 1441 L851 1443.5 L850.2 1447.8 L851.7 1451 L854.6 1453.5 L857 1457.1 L859.4 1460.5 L861.9 1464 L863.9 1466.9 L865.7 1469.7 L864.8 1473.3 L865 1476.6 L867.4 1480 L870.3 1482.9 L870.7 1487.1 L866.2 1489.3 L866.1 1493.3 L869.2 1495.2 L870.3 1498.6" fill="none" stroke="#808080" stroke-width="3.3" stroke-linejoin="round" stroke-linecap="round"/>
<path d="M1500.8 221.0C1499.4 223.0 1494.7 228.6 1492.4 232.6C1490.1 236.6 1488.1 241.0 1487.2 245.1C1486.2 249.3 1486.0 253.5 1486.5 257.7C1487.1 261.9 1489.1 266.4 1490.3 270.3C1491.5 274.1 1493.4 276.9 1493.4 280.8C1493.4 284.6 1491.0 290.0 1490.3 293.3C1489.6 296.7 1489.4 299.4 1489.3 300.7M1490.3 293.3C1492.0 293.2 1497.5 291.2 1500.8 292.3C1504.1 293.3 1508.6 298.4 1510.2 299.6M1467.2 435.8C1468.5 440.0 1473.1 455.0 1474.6 461.0C1476.1 466.9 1475.8 469.7 1476.1 471.4M1477.7 507.1C1475.8 509.5 1468.1 516.5 1466.2 521.7C1464.3 527.0 1466.6 534.3 1466.2 538.5C1465.9 542.7 1465.5 542.7 1464.1 546.9C1462.7 551.1 1458.9 560.8 1457.8 563.6M1479.8 404.4C1480.9 406.1 1485.3 411.2 1486.1 414.9C1486.9 418.5 1484.7 424.5 1484.4 426.4M1540.6 318.5C1542.0 317.4 1547.4 314.6 1549.0 312.2C1550.5 309.8 1548.3 305.9 1550.0 303.8C1551.8 301.7 1556.5 300.0 1559.4 299.6C1562.4 299.3 1566.4 301.4 1567.8 301.7M545.7 898.7C548.5 900.4 556.2 905.7 562.5 909.2C568.8 912.6 575.8 917.5 583.4 919.6C591.1 921.7 600.9 922.4 608.6 921.7C616.3 921.0 624.3 916.5 629.5 915.4C634.8 914.4 638.3 915.4 640.0 915.4M650.5 923.8C652.9 925.6 659.6 931.0 665.2 934.3C670.7 937.6 678.1 941.6 684.0 943.7C689.9 945.8 698.0 946.3 700.8 946.9M713.3 943.7C716.8 942.2 727.3 937.6 734.3 934.3C741.3 931.0 749.0 926.3 755.3 923.8C761.5 921.4 769.2 920.3 772.0 919.6M832.6 946.9C833.6 945.8 830.5 940.6 838.9 940.6C847.2 940.6 874.1 943.0 882.9 946.9C891.6 950.7 887.1 958.7 891.2 963.6C895.4 968.5 901.7 973.6 908.0 976.2C914.3 978.8 923.7 979.7 929.0 979.4C934.2 979.0 937.7 975.0 939.4 974.1M964.6 913.3C967.0 912.0 974.4 908.5 979.2 905.0C984.1 901.5 989.0 896.4 993.9 892.4C998.8 888.4 1004.0 883.0 1008.6 880.9C1013.1 878.8 1019.1 880.0 1021.2 879.8M1042.1 890.3C1045.2 890.6 1055.7 892.7 1061.0 892.4C1066.2 892.0 1070.0 888.6 1073.5 888.2C1077.0 887.9 1080.5 889.9 1081.9 890.3M1090.3 909.2C1092.7 911.3 1099.4 918.2 1105.0 921.7C1110.6 925.2 1118.9 929.4 1123.8 930.1C1128.7 930.8 1132.6 926.6 1134.3 925.9M1174.1 837.9C1175.2 840.0 1178.7 846.3 1180.4 850.5C1182.1 854.7 1183.9 861.0 1184.6 863.1M1186.7 818.0C1188.4 817.5 1192.6 815.6 1197.2 814.9C1201.7 814.2 1211.1 814.0 1213.9 813.8M1422.1 975.8C1423.9 976.0 1428.8 977.6 1432.9 977.1C1437.0 976.7 1442.6 973.8 1446.5 973.1C1450.3 972.4 1454.4 973.1 1456.0 973.1M1460.0 967.7C1461.4 967.0 1465.7 966.1 1468.2 963.6C1470.7 961.1 1473.4 956.4 1475.0 952.7C1476.5 949.1 1477.2 943.7 1477.7 941.9M1517.0 929.7C1518.1 928.8 1521.1 925.6 1523.8 924.3C1526.5 922.9 1531.7 922.0 1533.3 921.5M1159.4 1175.1C1156.7 1177.2 1149.0 1184.1 1142.7 1187.6C1136.4 1191.1 1125.9 1193.6 1121.7 1196.0C1117.5 1198.5 1118.2 1201.2 1117.5 1202.3M1119.6 1208.6C1122.8 1210.0 1133.3 1213.5 1138.5 1217.0C1143.7 1220.5 1149.7 1224.6 1151.1 1229.5C1152.5 1234.4 1149.0 1241.1 1146.9 1246.3C1144.8 1251.5 1139.9 1258.5 1138.5 1261.0M1132.2 1248.4C1129.1 1247.3 1120.0 1243.9 1113.3 1242.1C1106.7 1240.4 1098.0 1237.6 1092.4 1237.9C1086.8 1238.3 1082.4 1242.1 1079.8 1244.2C1077.2 1246.3 1077.2 1249.4 1076.7 1250.5M1079.8 1277.7C1077.0 1278.8 1068.3 1282.3 1063.1 1284.0C1057.8 1285.8 1050.8 1287.5 1048.4 1288.2M1042.1 1321.7C1039.7 1323.5 1032.3 1328.0 1027.4 1332.2C1022.5 1336.4 1017.3 1341.6 1012.8 1346.9C1008.2 1352.1 1004.4 1358.7 1000.2 1363.6C996.0 1368.5 993.2 1373.1 987.6 1376.2C982.0 1379.4 970.2 1381.4 966.7 1382.5M1224.2 1145.7 L1236.8 1133.1M1257.7 1097.5C1260.2 1096.8 1267.1 1096.5 1272.4 1093.3C1277.6 1090.2 1286.4 1081.1 1289.1 1078.7M1366.7 1041 L1377.2 1034.7M954.1 1430.5 L937.3 1441M920.6 1485 L903.8 1488.1M868.2 1503.8 L861.9 1514.3M849.3 1549.9C847.6 1554.1 842.7 1569.1 838.9 1575.1C835.0 1581.0 828.4 1583.8 826.3 1585.5" fill="none" stroke="#cacaca" stroke-width="3" stroke-linejoin="round" stroke-linecap="round"/>
<path d="M420.0 470.4C418.3 471.1 412.7 472.7 409.7 474.6C406.8 476.5 404.0 478.3 402.4 481.9C400.8 485.6 401.5 493.3 400.3 496.6C399.1 499.9 394.2 499.4 395.1 501.8C395.9 504.3 404.1 508.3 405.5 511.3C406.9 514.2 406.2 517.2 403.4 519.6C400.7 522.1 391.7 523.5 388.8 525.9C385.8 528.4 385.3 530.8 385.6 534.3C386.0 537.8 390.4 543.4 390.9 546.9C391.4 550.4 391.6 552.5 388.8 555.3C386.0 558.0 377.6 560.5 374.1 563.6C370.6 566.8 368.2 570.6 367.8 574.1C367.5 577.6 369.6 581.4 372.0 584.6C374.5 587.7 381.1 590.9 382.5 593.0C383.9 595.1 383.2 596.1 380.4 597.2C377.6 598.2 368.2 597.9 365.7 599.3C363.3 600.7 364.3 603.4 365.7 605.5C367.1 607.6 373.2 609.4 374.1 611.8C375.0 614.2 371.5 618.6 371.0 620.0M542.6 221.0C544.5 221.9 550.4 224.0 554.1 226.3C557.8 228.6 561.8 231.5 564.6 234.7C567.4 237.8 570.0 241.3 570.9 245.1C571.7 249.0 570.7 254.2 569.8 257.7C568.9 261.2 566.0 263.0 565.6 266.1C565.3 269.2 567.9 273.1 567.7 276.6C567.5 280.1 566.5 284.4 564.6 287.1C562.7 289.7 557.9 289.7 556.2 292.3C554.5 294.9 555.8 300.5 554.1 302.8C552.4 305.0 548.0 306.8 545.7 305.9C543.5 305.0 542.4 298.4 540.5 297.5C538.6 296.7 535.2 297.9 534.2 300.7C533.1 303.5 536.1 311.3 534.2 314.3C532.3 317.3 526.3 317.4 522.7 318.5C519.0 319.5 514.8 318.1 512.2 320.6C509.6 323.0 505.9 330.2 507.0 333.1C508.0 336.1 518.0 336.3 518.5 338.4C519.0 340.5 513.2 343.1 510.1 345.7C507.0 348.3 502.9 353.2 499.6 354.1C496.3 355.0 491.4 349.6 490.2 351.0C489.0 352.4 490.9 358.8 492.3 362.5C493.7 366.1 498.7 369.5 498.6 373.0C498.4 376.5 494.6 381.0 491.2 383.4C487.9 385.9 481.3 385.5 478.7 387.6C476.1 389.7 474.5 393.2 475.5 396.0C476.6 398.8 484.4 401.6 485.0 404.4C485.5 407.2 481.1 410.3 478.7 412.8C476.2 415.2 472.2 416.8 470.3 419.1C468.4 421.3 465.6 424.6 467.1 426.4C468.7 428.1 477.1 426.9 479.7 429.5C482.3 432.2 484.6 440.0 482.9 442.1C481.1 444.2 473.4 440.7 469.2 442.1C465.0 443.5 461.4 447.3 457.7 450.5C454.0 453.6 451.4 457.8 447.2 461.0C443.0 464.1 437.1 467.1 432.6 469.3C428.0 471.6 422.1 473.7 420.0 474.6M1498.7 307.6C1500.4 307.0 1506.9 303.2 1509.2 303.8C1511.4 304.4 1510.4 310.6 1512.3 311.1C1514.2 311.7 1517.7 306.3 1520.7 307.0C1523.6 307.7 1527.8 312.0 1530.1 315.3C1532.4 318.7 1532.6 323.4 1534.3 326.9C1536.0 330.4 1538.9 335.9 1540.6 336.3C1542.3 336.6 1543.8 331.1 1544.4 329.0C1544.9 326.9 1542.3 325.5 1543.7 323.7C1545.2 322.0 1551.2 321.4 1553.2 318.5C1555.1 315.5 1554.0 308.7 1555.3 305.9C1556.5 303.1 1558.4 301.9 1560.5 301.7C1562.6 301.5 1566.6 304.3 1567.8 304.9M1498.7 307.6C1497.6 306.8 1492.7 301.6 1492.4 302.8C1492.0 303.9 1496.2 310.6 1496.6 314.3C1496.9 318.0 1496.2 322.5 1494.5 324.8C1492.7 327.0 1489.3 327.9 1486.1 327.9C1483.0 327.9 1478.3 324.1 1475.6 324.8C1473.0 325.5 1470.6 329.0 1470.4 332.1C1470.2 335.2 1473.2 339.6 1474.6 343.6C1476.0 347.6 1477.0 352.0 1478.8 356.2C1480.5 360.4 1482.8 364.9 1485.1 368.8C1487.3 372.6 1491.3 375.8 1492.4 379.2C1493.4 382.7 1492.6 385.9 1491.3 389.7C1490.1 393.6 1486.8 398.5 1485.1 402.3C1483.3 406.1 1481.0 408.8 1480.9 412.8C1480.8 416.8 1484.1 422.9 1484.4 426.4C1484.8 429.9 1485.5 432.7 1483.0 433.7C1480.5 434.8 1472.8 431.6 1469.3 432.7C1465.9 433.7 1462.7 437.0 1462.0 440.0C1461.3 443.0 1463.6 446.6 1465.2 450.5C1466.7 454.3 1470.0 459.2 1471.4 463.1C1472.8 466.9 1474.1 470.2 1473.5 473.5C1473.0 476.9 1470.0 480.2 1468.3 483.0C1466.6 485.8 1463.4 487.5 1463.1 490.3C1462.7 493.1 1463.9 497.1 1466.2 499.7C1468.5 502.3 1474.2 503.7 1476.7 506.0C1479.1 508.3 1481.2 511.1 1480.9 513.3C1480.5 515.6 1477.6 517.5 1474.6 519.6C1471.6 521.7 1465.5 523.8 1463.1 525.9C1460.6 528.0 1458.9 530.1 1459.9 532.2C1461.0 534.3 1467.6 536.2 1469.3 538.5C1471.1 540.8 1471.1 543.4 1470.4 545.8C1469.7 548.3 1467.1 550.5 1465.2 553.2C1463.2 555.8 1460.6 558.4 1458.9 561.5C1457.1 564.7 1455.6 568.2 1454.7 572.0C1453.8 575.9 1454.7 580.7 1453.6 584.6C1452.6 588.4 1451.0 591.6 1448.4 595.1C1445.8 598.6 1441.4 602.4 1437.9 605.5C1434.4 608.7 1430.1 611.5 1427.4 613.9C1424.8 616.3 1423.1 619.0 1422.2 620.0M372.0 620.0C373.1 621.2 376.9 624.2 378.3 627.3C379.7 630.5 380.7 635.5 380.4 638.9C380.0 642.2 375.7 644.1 376.2 647.2C376.7 650.4 385.6 655.6 383.5 657.7C381.4 659.8 368.0 658.8 363.6 659.8C359.3 660.9 357.3 660.9 357.3 664.0C357.3 667.1 362.6 674.0 363.6 678.7C364.7 683.4 365.4 689.1 363.6 692.3C361.9 695.4 355.8 695.6 353.2 697.5C350.5 699.4 347.9 701.4 347.9 703.8C347.9 706.3 354.0 710.3 353.2 712.2C352.3 714.1 345.8 714.3 342.7 715.3C339.5 716.4 334.5 716.2 334.3 718.5C334.1 720.8 340.9 726.2 341.6 729.0C342.3 731.8 341.8 733.8 338.5 735.2C335.2 736.6 326.6 735.2 321.7 737.3C316.8 739.4 314.0 744.7 309.2 747.8C304.3 751.0 295.5 753.4 292.4 756.2C289.3 759.0 289.6 761.8 290.3 764.6C291.0 767.4 296.2 769.8 296.6 773.0C296.9 776.1 295.0 781.7 292.4 783.4C289.8 785.2 282.3 781.0 280.9 783.4C279.5 785.9 285.1 796.4 284.0 798.1C283.0 799.8 277.4 793.9 274.6 793.9C271.8 793.9 267.9 795.3 267.2 798.1C266.6 800.9 271.4 807.5 270.4 810.7C269.3 813.8 264.8 815.4 261.0 817.0C257.1 818.5 251.0 818.4 247.3 820.1C243.7 821.9 240.9 824.5 239.0 827.4C237.0 830.4 235.3 834.6 235.8 837.9C236.3 841.2 239.0 844.6 242.1 847.3C245.2 850.1 251.7 851.7 254.7 854.7C257.6 857.6 259.7 861.3 259.9 865.2C260.1 869.0 257.1 874.2 255.7 877.7C254.3 881.2 252.1 884.0 251.5 886.1C251.0 888.2 252.4 889.6 252.6 890.3M286.1 874.6C283.7 875.8 277.0 879.1 271.4 881.9C265.9 884.7 258.5 887.9 252.6 891.3C246.6 894.8 241.8 899.9 235.8 902.9C229.9 905.8 222.5 906.7 217.0 909.2C211.4 911.6 207.2 913.7 202.3 917.5C197.4 921.4 192.2 927.3 187.6 932.2C183.1 937.1 177.8 942.7 175.1 946.9C172.3 951.1 170.9 952.8 170.9 957.3C170.9 961.9 175.1 969.2 175.1 974.1C175.1 979.0 170.2 982.8 170.9 986.7C171.6 990.5 176.1 993.7 179.2 997.2C182.4 1000.7 187.3 1003.8 189.7 1007.6C192.2 1011.4 193.2 1017.9 193.9 1020.0M543.6 900.8C546.1 902.5 553.1 909.2 558.3 911.3C563.5 913.3 569.5 912.1 575.1 913.3C580.6 914.6 586.2 917.5 591.8 918.6C597.4 919.6 603.0 919.6 608.6 919.6C614.2 919.6 619.8 918.9 625.3 918.6C630.9 918.2 636.9 916.5 642.1 917.5C647.3 918.6 651.9 922.1 656.8 924.9C661.7 927.7 666.2 931.7 671.4 934.3C676.7 936.9 682.3 939.0 688.2 940.6C694.1 942.2 701.1 943.9 707.1 943.7C713.0 943.6 717.9 940.4 723.8 939.5C729.8 938.7 737.8 937.8 742.7 938.5C747.6 939.2 750.4 940.9 753.2 943.7C756.0 946.5 757.0 951.2 759.4 955.3C761.9 959.3 764.3 963.6 767.8 967.8C771.3 972.0 775.9 977.6 780.4 980.4C784.9 983.2 790.5 984.9 795.1 984.6C799.6 984.2 803.5 980.0 807.6 978.3C811.8 976.6 817.9 974.8 820.0 974.1M742.7 938.5C744.8 936.7 750.4 930.8 755.3 928.0C760.1 925.2 767.1 922.3 772.0 921.7C776.9 921.2 780.4 922.4 784.6 924.9C788.8 927.3 793.0 932.7 797.2 936.4C801.4 940.1 805.9 944.4 809.7 946.9C813.5 949.3 818.3 950.4 820.0 951.1M543.6 901.8C546.8 904.4 556.5 913.5 562.5 917.5C568.4 921.6 573.7 923.9 579.2 925.9C584.8 927.9 590.4 929.7 596.0 929.7C601.6 929.7 607.2 927.5 612.8 925.9C618.4 924.3 626.7 921.0 629.5 920.1M755.3 946.9C757.3 949.0 764.3 955.3 767.8 959.4C771.3 963.6 772.7 968.9 776.2 972.0C779.7 975.2 786.7 977.3 788.8 978.3M820.0 984.6C821.4 983.9 826.3 983.5 828.4 980.4C830.5 977.3 832.6 970.6 832.6 965.7C832.6 960.8 828.7 955.6 828.4 951.1C828.0 946.5 828.4 941.3 830.5 938.5C832.6 935.7 836.8 935.7 841.0 934.3C845.1 932.9 851.3 931.9 855.6 930.1C860.0 928.4 863.7 923.5 867.1 923.8C870.6 924.2 873.6 929.4 876.6 932.2C879.5 935.0 882.2 936.7 885.0 940.6C887.7 944.4 890.5 950.4 893.3 955.3C896.1 960.1 898.2 965.7 901.7 969.9C905.2 974.1 909.8 978.0 914.3 980.4C918.8 982.8 924.4 984.9 929.0 984.6C933.5 984.2 938.9 981.4 941.5 978.3C944.1 975.2 944.7 969.2 944.7 965.7C944.7 962.2 940.3 960.5 941.5 957.3C942.8 954.2 948.5 951.1 952.0 946.9C955.5 942.7 961.1 936.4 962.5 932.2C963.9 928.0 959.7 924.9 960.4 921.7C961.1 918.6 963.2 915.3 966.7 913.3C970.2 911.4 976.8 912.6 981.3 910.2C985.9 907.8 989.4 902.7 993.9 898.7C998.5 894.7 1003.3 888.9 1008.6 886.1C1013.8 883.3 1020.5 882.3 1025.3 881.9C1030.2 881.6 1034.4 882.3 1037.9 884.0C1041.4 885.8 1042.5 890.3 1046.3 892.4C1050.1 894.5 1056.8 896.9 1061.0 896.6C1065.2 896.2 1067.7 889.2 1071.4 890.3C1075.2 891.4 1079.8 900.1 1083.6 903.3C1087.4 906.4 1090.9 906.4 1094.5 909.2C1098.1 911.9 1101.1 916.7 1105.0 919.6C1108.8 922.6 1113.3 925.6 1117.5 927.0C1121.7 928.4 1126.6 929.2 1130.1 928.0C1133.6 926.8 1135.3 922.4 1138.5 919.6C1141.6 916.8 1144.8 914.0 1149.0 911.3C1153.2 908.5 1159.1 906.0 1163.6 902.9C1168.2 899.7 1173.1 896.2 1176.2 892.4C1179.4 888.6 1181.8 884.4 1182.5 879.8C1183.2 875.3 1181.8 869.3 1180.4 865.2C1179.0 861.0 1176.2 858.5 1174.1 854.7C1172.0 850.8 1168.2 845.6 1167.8 842.1C1167.5 838.6 1169.6 835.8 1172.0 833.7C1174.5 831.6 1180.2 832.0 1182.5 829.5C1184.8 827.1 1184.6 821.9 1185.6 819.1C1186.7 816.3 1185.8 813.8 1188.8 812.8C1191.7 811.7 1198.6 813.1 1203.4 812.8C1208.3 812.4 1215.4 813.1 1218.1 810.7C1220.9 808.2 1219.7 800.2 1220.0 798.1M1040.0 892.4C1040.4 894.1 1042.3 899.4 1042.1 902.9C1041.9 906.4 1040.4 909.9 1039.0 913.3C1037.6 916.8 1033.9 920.0 1033.7 923.8C1033.5 927.7 1036.5 932.6 1037.9 936.4C1039.3 940.2 1039.7 943.4 1042.1 946.9C1044.6 950.4 1049.1 952.8 1052.6 957.3C1056.1 961.9 1057.1 963.7 1063.1 974.1C1069.0 984.6 1084.0 1012.4 1088.2 1020.0M820.0 976.2C821.0 974.1 825.6 967.8 826.3 963.6C827.0 959.4 823.1 954.6 824.2 951.1C825.2 947.6 831.2 944.1 832.6 942.7M832.6 972.0C834.3 972.7 841.0 977.3 843.0 976.2C845.1 975.2 845.7 967.8 845.1 965.7C844.6 963.6 840.8 964.0 839.9 963.6M1220.0 814.9C1220.2 812.1 1220.0 803.3 1221.0 798.1C1222.1 792.9 1223.7 788.0 1226.3 783.4C1228.9 778.9 1232.6 774.0 1236.8 770.9C1241.0 767.7 1246.5 766.0 1251.4 764.6C1256.3 763.2 1261.6 763.5 1266.1 762.5C1270.6 761.4 1274.8 757.9 1278.7 758.3C1282.5 758.6 1286.0 762.8 1289.1 764.6C1292.3 766.3 1294.0 768.8 1297.5 768.8C1301.0 768.8 1306.6 766.3 1310.1 764.6C1313.6 762.8 1316.7 760.7 1318.5 758.3C1320.2 755.8 1321.3 752.7 1320.6 749.9C1319.9 747.1 1314.3 744.7 1314.3 741.5C1314.3 738.4 1317.4 734.2 1320.6 731.1C1323.7 727.9 1329.3 725.8 1333.1 722.7C1337.0 719.5 1339.8 714.6 1343.6 712.2C1347.5 709.8 1352.0 709.1 1356.2 708.0C1360.4 707.0 1365.5 708.0 1368.8 705.9C1372.1 703.8 1374.9 699.6 1376.1 695.4C1377.3 691.2 1374.9 685.0 1376.1 680.8C1377.3 676.6 1380.1 672.9 1383.4 670.3C1386.8 667.7 1392.2 665.9 1396.0 665.0C1399.8 664.2 1403.7 664.4 1406.5 665.0C1409.3 665.7 1410.3 669.8 1412.8 669.2C1415.2 668.7 1418.9 664.9 1421.2 661.9C1423.4 658.9 1425.7 654.9 1426.4 651.4C1427.1 647.9 1426.2 644.4 1425.3 641.0C1424.5 637.5 1421.0 634.0 1421.2 630.5C1421.3 627.0 1425.5 621.7 1426.4 620.0M1384.1 1021.9C1383.9 1019.2 1382.3 1009.9 1382.7 1005.6C1383.2 1001.3 1384.3 997.9 1386.8 996.1C1389.3 994.3 1394.7 996.4 1397.7 994.8C1400.6 993.2 1402.9 989.8 1404.4 986.6C1406.0 983.5 1405.6 979.4 1407.1 975.8C1408.7 972.2 1411.9 966.7 1413.9 964.9C1416.0 963.1 1418.0 963.4 1419.4 964.9C1420.7 966.5 1420.7 971.9 1422.1 974.4C1423.4 976.9 1425.2 979.6 1427.5 979.9C1429.8 980.1 1432.5 976.7 1435.6 975.8C1438.8 974.9 1443.3 974.2 1446.5 974.4C1449.6 974.7 1452.6 977.8 1454.6 977.1C1456.7 976.5 1458.5 972.9 1458.7 970.4C1458.9 967.9 1456.0 964.5 1456.0 962.2C1456.0 960.0 1457.3 957.5 1458.7 956.8C1460.0 956.1 1462.8 956.6 1464.1 958.2C1465.5 959.7 1465.5 965.2 1466.8 966.3C1468.2 967.4 1470.7 967.0 1472.3 964.9C1473.8 962.9 1475.2 957.7 1476.3 954.1C1477.4 950.5 1477.9 945.7 1479.0 943.2C1480.2 940.8 1481.5 939.4 1483.1 939.2C1484.7 938.9 1486.9 940.3 1488.5 941.9C1490.1 943.5 1491.0 946.6 1492.6 948.7C1494.2 950.7 1496.0 953.6 1498.0 954.1C1500.1 954.5 1503.0 952.5 1504.8 951.4C1506.6 950.2 1506.4 948.2 1508.9 947.3C1511.4 946.4 1517.0 946.9 1519.7 946.0C1522.4 945.0 1524.5 943.9 1525.1 941.9C1525.8 939.8 1524.9 935.8 1523.8 933.7C1522.7 931.7 1518.1 931.3 1518.4 929.7C1518.6 928.1 1522.2 925.4 1525.1 924.3C1528.1 923.1 1533.1 922.4 1536.0 922.9C1538.9 923.3 1540.7 924.9 1542.8 927.0C1544.8 929.0 1546.4 932.8 1548.2 935.1C1550.0 937.4 1551.7 940.1 1553.6 940.5C1555.6 941.0 1558.0 940.1 1560.0 937.8C1562.0 935.6 1564.2 929.2 1565.8 927.0C1567.5 924.7 1569.2 924.7 1569.9 924.3M193.9 1020.0C194.3 1022.4 195.5 1029.8 196.0 1034.7C196.5 1039.6 197.6 1044.4 197.1 1049.3C196.5 1054.2 194.6 1059.5 192.9 1064.0C191.1 1068.5 187.8 1072.4 186.6 1076.6C185.4 1080.8 185.2 1085.0 185.5 1089.1C185.9 1093.3 187.8 1097.9 188.7 1101.7C189.5 1105.6 191.3 1108.7 190.8 1112.2C190.2 1115.7 187.3 1119.5 185.5 1122.7C183.8 1125.8 181.0 1127.9 180.3 1131.1C179.6 1134.2 182.9 1138.4 181.3 1141.5C179.8 1144.7 174.0 1146.8 170.9 1149.9C167.7 1153.1 165.3 1157.1 162.5 1160.4C159.7 1163.7 157.6 1167.9 154.1 1169.8C150.6 1171.7 145.4 1171.9 141.5 1171.9C137.7 1171.9 134.5 1170.5 131.1 1169.8C127.6 1169.1 123.2 1166.8 120.6 1167.7C118.0 1168.6 116.6 1172.1 115.3 1175.1C114.1 1178.0 113.4 1182.7 113.2 1185.5C113.1 1188.3 115.3 1189.4 114.3 1191.8C113.2 1194.3 108.4 1197.4 107.0 1200.2C105.6 1203.0 105.6 1205.1 105.9 1208.6C106.3 1212.1 108.4 1216.6 109.1 1221.2C109.8 1225.7 108.9 1232.3 110.1 1235.8C111.3 1239.3 115.0 1239.3 116.4 1242.1C117.8 1244.9 118.7 1248.4 118.5 1252.6C118.3 1256.8 115.5 1263.1 115.3 1267.2C115.2 1271.4 115.9 1274.6 117.4 1277.7C119.0 1280.9 123.2 1283.3 124.8 1286.1C126.3 1288.9 127.6 1291.3 126.9 1294.5C126.2 1297.6 122.5 1301.8 120.6 1305.0C118.7 1308.1 116.6 1310.2 115.3 1313.3C114.1 1316.5 113.9 1320.3 113.2 1323.8C112.5 1327.3 111.7 1330.5 111.1 1334.3C110.6 1338.1 109.4 1343.7 110.1 1346.9C110.8 1350.0 113.8 1352.1 115.3 1353.2C116.9 1354.2 119.7 1351.1 119.5 1353.2C119.4 1355.3 116.2 1361.5 114.3 1365.7C112.4 1369.9 109.9 1374.5 108.0 1378.3C106.1 1382.1 104.7 1386.0 102.8 1388.8C100.8 1391.6 97.7 1391.9 96.5 1395.1C95.3 1398.2 95.4 1403.5 95.4 1407.6C95.4 1411.8 96.3 1417.9 96.5 1420.0M20.0 1126.4C45.8 1126.0 149.2 1123.0 175.1 1123.7C200.9 1124.5 175.6 1128.8 175.1 1131.1C174.5 1133.3 171.7 1135.4 171.9 1137.3C172.1 1139.3 175.4 1141.7 176.1 1142.6M1220.0 1154.1C1218.6 1153.8 1214.2 1153.1 1211.8 1152.0C1209.4 1151.0 1208.0 1147.5 1205.5 1147.8C1203.1 1148.2 1200.0 1151.7 1197.2 1154.1C1194.4 1156.5 1190.9 1159.3 1188.8 1162.5C1186.7 1165.6 1186.7 1171.6 1184.6 1173.0C1182.5 1174.4 1178.3 1173.0 1176.2 1170.9C1174.1 1168.8 1173.8 1161.4 1172.0 1160.4C1170.3 1159.3 1167.1 1162.1 1165.7 1164.6C1164.3 1167.0 1165.7 1171.9 1163.6 1175.1C1161.5 1178.2 1157.0 1180.3 1153.2 1183.4C1149.3 1186.6 1145.5 1191.1 1140.6 1193.9C1135.7 1196.7 1128.0 1198.1 1123.8 1200.2C1119.6 1202.3 1116.5 1204.4 1115.4 1206.5C1114.4 1208.6 1114.4 1210.7 1117.5 1212.8C1120.7 1214.9 1129.4 1216.6 1134.3 1219.1C1139.2 1221.5 1144.4 1224.3 1146.9 1227.4C1149.3 1230.6 1149.3 1234.1 1149.0 1237.9C1148.6 1241.8 1146.2 1246.3 1144.8 1250.5C1143.4 1254.7 1142.3 1260.6 1140.6 1263.1C1138.8 1265.5 1136.0 1266.9 1134.3 1265.2C1132.6 1263.4 1132.2 1255.7 1130.1 1252.6C1128.0 1249.4 1125.6 1247.9 1121.7 1246.3C1117.9 1244.7 1112.3 1244.0 1107.1 1243.2C1101.8 1242.3 1094.7 1240.2 1090.3 1241.1C1085.9 1241.9 1082.8 1245.1 1080.9 1248.4C1078.9 1251.7 1078.6 1256.8 1078.8 1261.0C1078.9 1265.2 1082.1 1269.7 1081.9 1273.5C1081.7 1277.4 1081.2 1281.6 1077.7 1284.0C1074.2 1286.5 1066.2 1286.8 1061.0 1288.2C1055.7 1289.6 1049.8 1289.9 1046.3 1292.4C1042.8 1294.8 1040.7 1299.4 1040.0 1302.9C1039.3 1306.4 1040.7 1310.6 1042.1 1313.3C1043.5 1316.1 1048.0 1317.2 1048.4 1319.6C1048.7 1322.1 1047.0 1325.6 1044.2 1328.0C1041.4 1330.5 1035.8 1331.5 1031.6 1334.3C1027.4 1337.1 1022.9 1341.3 1019.1 1344.8C1015.2 1348.3 1011.7 1351.4 1008.6 1355.3C1005.4 1359.1 1003.0 1363.6 1000.2 1367.8C997.4 1372.0 996.0 1377.6 991.8 1380.4C987.6 1383.2 979.9 1383.2 975.1 1384.6C970.2 1386.0 965.5 1386.7 962.5 1388.8C959.5 1390.9 957.9 1392.0 957.2 1397.2C956.5 1402.4 958.1 1416.2 958.3 1420.0M1220.0 1149.9C1221.0 1148.2 1222.8 1142.9 1226.3 1139.4C1229.8 1135.9 1239.2 1132.8 1241.0 1129.0C1242.7 1125.1 1235.0 1119.5 1236.8 1116.4C1238.5 1113.2 1248.6 1112.9 1251.4 1110.1C1254.2 1107.3 1250.4 1101.7 1253.5 1099.6C1256.7 1097.5 1265.4 1099.6 1270.3 1097.5C1275.2 1095.4 1278.7 1090.9 1282.9 1087.1C1287.1 1083.2 1291.9 1076.2 1295.4 1074.5C1298.9 1072.7 1301.0 1075.0 1303.8 1076.6C1306.6 1078.1 1309.8 1083.9 1312.2 1083.9C1314.6 1083.9 1315.0 1079.2 1318.5 1076.6C1322.0 1074.0 1329.0 1068.9 1333.1 1068.2C1337.3 1067.5 1341.2 1073.1 1343.6 1072.4C1346.1 1071.7 1348.5 1067.1 1347.8 1064.0C1347.1 1060.9 1342.2 1056.0 1339.4 1053.5C1336.6 1051.1 1331.4 1051.1 1331.1 1049.3C1330.7 1047.6 1334.2 1043.4 1337.3 1043.0C1340.5 1042.7 1346.1 1046.9 1349.9 1047.2C1353.8 1047.6 1356.5 1045.8 1360.4 1045.1C1364.2 1044.4 1369.1 1045.5 1373.0 1043.0C1376.8 1040.6 1381.2 1034.3 1383.4 1030.5C1385.7 1026.6 1386.1 1021.7 1386.6 1020.0M96.5 1420.0C96.3 1421.4 96.5 1424.9 95.4 1428.4C94.4 1431.9 92.3 1437.1 90.2 1441.0C88.1 1444.8 84.4 1447.9 82.9 1451.4C81.3 1454.9 80.4 1458.4 80.8 1461.9C81.1 1465.4 84.6 1468.9 85.0 1472.4C85.3 1475.9 84.6 1479.4 82.9 1482.9C81.1 1486.4 78.0 1490.2 74.5 1493.3C71.0 1496.5 66.4 1499.6 61.9 1501.7C57.4 1503.8 51.1 1504.2 47.2 1505.9C43.4 1507.7 41.0 1509.4 38.9 1512.2C36.8 1515.0 36.4 1519.2 34.7 1522.7C32.9 1526.2 30.1 1529.3 28.4 1533.1C26.6 1537.0 25.9 1542.2 24.2 1545.7C22.4 1549.2 19.0 1552.7 17.9 1554.1M958.0 1400.0C958.2 1402.1 959.8 1408.0 959.1 1412.5C958.4 1417.0 956.8 1423.1 953.9 1427.1C950.9 1431.1 945.5 1433.7 941.3 1436.5C937.2 1439.3 931.9 1440.9 928.8 1443.8C925.7 1446.8 923.8 1451.1 922.6 1454.3C921.3 1457.4 920.6 1460.2 921.5 1462.6C922.4 1465.0 927.3 1465.7 927.8 1468.9C928.3 1472.0 926.2 1478.1 924.6 1481.4C923.1 1484.7 922.6 1486.9 918.4 1488.7C914.2 1490.4 904.5 1490.6 899.6 1491.8C894.7 1493.0 892.3 1494.4 889.2 1496.0C886.0 1497.5 884.0 1500.0 880.8 1501.2C877.7 1502.4 873.2 1501.4 870.4 1503.3C867.6 1505.2 866.6 1509.4 864.1 1512.7C861.7 1516.0 858.0 1519.6 855.8 1523.1C853.5 1526.6 851.6 1530.1 850.6 1533.5C849.5 1537.0 849.4 1540.8 849.5 1544.0C849.7 1547.1 852.3 1548.8 851.6 1552.3C850.9 1555.8 847.8 1560.3 845.4 1564.8C842.9 1569.4 839.8 1576.0 837.0 1579.4C834.2 1582.9 831.8 1584.0 828.7 1585.7C825.5 1587.4 820.8 1587.8 818.2 1589.9C815.6 1592.0 814.1 1595.1 813.0 1598.2C812.0 1601.4 813.5 1605.5 812.0 1608.7C810.4 1611.8 806.1 1614.0 803.6 1617.0C801.2 1620.0 800.5 1623.4 797.4 1626.4C794.2 1629.4 788.7 1632.0 784.8 1634.7C781.0 1637.5 777.5 1639.8 774.4 1643.1C771.3 1646.4 769.0 1650.9 766.1 1654.6C763.1 1658.2 758.4 1661.9 756.7 1665.0C754.9 1668.1 756.2 1670.7 755.6 1673.3C755.1 1676.0 755.3 1678.6 753.5 1680.6C751.8 1682.7 748.0 1683.3 745.2 1685.9C742.4 1688.5 740.3 1692.5 736.8 1696.3C733.4 1700.1 728.5 1704.6 724.3 1708.8C720.2 1713.0 715.6 1718.2 711.8 1721.3C708.0 1724.5 704.9 1726.2 701.4 1727.6C697.9 1729.0 695.1 1728.6 690.9 1729.7C686.8 1730.7 681.2 1731.4 676.3 1733.9C671.5 1736.3 665.6 1740.5 661.7 1744.3C657.9 1748.1 655.5 1753.0 653.4 1756.8C651.3 1760.6 649.9 1765.5 649.2 1767.2" fill="none" stroke="#fff" stroke-width="5.4" stroke-linejoin="round" stroke-linecap="round"/>
<path d="M20 557.3 L23.8 555.6 L27.4 553.2 L31.5 552.1 L34.7 555.1 L38.8 556.7 L41.8 559.9 L45.1 562.6 L50.5 562.3 L54.5 557.8 L59.8 557.3 L63.3 553.4 L67.9 550.8 L71.3 546.9 L76.9 544.5 L82.9 544.8 L86.5 547.6 L87.6 552.4 L91.2 555.3 L93.6 559.2 L98.3 560.3 L101.9 562.7 L103.7 567.3 L108 568.9 L113.1 566.8 L118.5 565.7 L123.3 567.4 L128.2 568.9 L133.1 569.9 L136.3 573.7 L139.2 577.8 L143.6 580.4 L144.4 584.8 L147.3 588 L149 591.9 L152 595.1 L156.9 598 L162.5 599.3 L165.7 601.7 L169.6 603.3 L173 605.5 L175.4 610.5 L176.1 616 L180.6 615.5 L184.9 617.9 L189.4 617.4 L193.9 617.1M193.9 617.9 L197.7 621.6 L200.2 626.3 L202.8 631.5 L205.4 636.8 L209.9 639.7 L212.8 644.1 L218.8 643.5 L224.3 641 L226.2 644.9 L226.2 649.4 L227.4 653.5 L230.7 658.7 L235.8 661.9 L241.2 664.2 L246.3 667.1 L250.2 670.6 L255.1 672 L259.9 673.4 L261.2 677.3 L262.3 681.3 L264.1 685 L267.8 687.6 L272 689.5 L275.6 692.3 L277.7 696.6 L282.1 698.4 L285.1 701.7 L286.2 706.7 L289 710.7 L292.4 714.3 L298.3 715.6 L302.9 719.5 L306.8 721 L309.9 723.7 L313.3 725.8 L316.8 730.7 L321.7 734.2M1085.1 1020 L1086 1024.7 L1090.8 1027.1 L1091.2 1032 L1094.1 1035.5 L1095.1 1040.2 L1098.8 1043.2 L1100.8 1047.2 L1098.1 1051.8 L1099 1057.3 L1096.6 1061.9 L1097.8 1067.9 L1101.8 1072.4 L1101 1077.7 L1099.7 1082.9 L1103.2 1086.5 L1105 1091.2 L1105.5 1096.5 L1105 1101.7 L1107.4 1105.5 L1111.7 1107.8 L1113.3 1112.2 L1115.8 1115.7 L1118.9 1118.8 L1120.8 1122.5 L1121.7 1126.9 L1123.5 1130.9 L1124 1135.1 L1123.8 1139.4 L1129.3 1140.9 L1134.3 1143.6 L1138 1147.5 L1142.7 1149.9 L1146.3 1152.5 L1149 1156.4 L1152.4 1159.3 L1155.9 1162.1 L1159.2 1165 L1163.6 1166.7" fill="none" stroke="#fff" stroke-width="5.6" stroke-linejoin="round" stroke-linecap="round"/>
<path d="M420.0 869.3C418.3 869.7 413.5 871.6 409.7 871.4C405.9 871.3 401.7 868.3 397.2 868.3C392.6 868.3 387.7 871.4 382.5 871.4C377.3 871.4 371.7 868.3 365.7 868.3C359.8 868.3 352.8 870.2 346.9 871.4C340.9 872.7 335.7 875.1 330.1 875.6C324.5 876.2 318.2 875.3 313.3 874.6C308.5 873.9 305.3 871.4 300.8 871.4C296.2 871.4 288.6 874.1 286.1 874.6M420.0 868.3C422.8 868.1 431.9 866.7 436.8 867.2C441.7 867.8 445.1 870.9 449.3 871.4C453.5 872.0 457.4 869.9 461.9 870.4C466.4 870.9 471.7 872.0 476.6 874.6C481.5 877.2 486.0 883.3 491.2 886.1C496.5 888.9 501.7 890.6 508.0 891.3C514.3 892.0 523.0 888.7 529.0 890.3C534.9 891.9 541.2 899.0 543.6 900.8" fill="none" stroke="#fff" stroke-width="7.5" stroke-linejoin="round" stroke-linecap="round"/>
<circle cx="794.75" cy="989.4" r="743.7" fill="none" stroke="#fff" stroke-width="2.5"/>
<circle cx="95.4" cy="349.5" r="6.6" fill="#fff"/>
<circle cx="481.8" cy="442.5" r="6.6" fill="#fff"/>
<circle cx="674.6" cy="425.3" r="6.6" fill="#fff"/>
<circle cx="699.7" cy="305.3" r="6.6" fill="#fff"/>
<circle cx="709.6" cy="575.2" r="6.6" fill="#fff"/>
<circle cx="387.7" cy="498.7" r="6.6" fill="#fff"/>
<circle cx="914.7" cy="357.7" r="6.6" fill="#fff"/>
<circle cx="1498.7" cy="307.6" r="6.6" fill="#fff"/>
<circle cx="1482.5" cy="578.7" r="6.6" fill="#fff"/>
<circle cx="1305.5" cy="429.1" r="6.6" fill="#fff"/>
<circle cx="1281.2" cy="618.1" r="6.6" fill="#fff"/>
<circle cx="185.5" cy="940.2" r="6.6" fill="#fff"/>
<circle cx="356.3" cy="773.6" r="6.6" fill="#fff"/>
<circle cx="702.5" cy="665.3" r="6.6" fill="#fff"/>
<circle cx="738.5" cy="739.4" r="6.6" fill="#fff"/>
<circle cx="461.5" cy="826.4" r="6.6" fill="#fff"/>
<circle cx="841.0" cy="969.0" r="6.6" fill="#fff"/>
<circle cx="1083.6" cy="903.3" r="6.6" fill="#fff"/>
<circle cx="1195.7" cy="864.7" r="6.6" fill="#fff"/>
<circle cx="1326.9" cy="945.4" r="6.6" fill="#fff"/>
<circle cx="203.3" cy="1107.4" r="6.6" fill="#fff"/>
<circle cx="230.6" cy="1320.7" r="6.6" fill="#fff"/>
<circle cx="477.6" cy="1254.7" r="6.6" fill="#fff"/>
<circle cx="694.5" cy="1304.3" r="6.6" fill="#fff"/>
<circle cx="1125.5" cy="1091.2" r="6.6" fill="#fff"/>
<circle cx="1035.8" cy="1309.2" r="6.6" fill="#fff"/>
<circle cx="1312.3" cy="1083.5" r="6.6" fill="#fff"/>
<circle cx="1518.4" cy="1080.3" r="6.6" fill="#fff"/>
<circle cx="423.1" cy="1526.4" r="6.6" fill="#fff"/>
<text class="m" x="102.9" y="339.0" font-size="30.3" fill="#fff">PIRANE</text>
<text class="m" x="490.6" y="432.3" font-size="30.3" fill="#fff">VA. OLIVA</text>
<text class="m" x="683.0" y="415.9" font-size="30.3" fill="#fff">QUIINDY</text>
<text class="m" x="707.2" y="295.4" font-size="30.3" fill="#fff">PARAGUARÍ</text>
<text class="m" x="718.0" y="565.7" font-size="30.3" fill="#fff">VA. FLORIDA</text>
<text class="m" x="396.5" y="488.8" font-size="30.3" fill="#fff">FORMOSA</text>
<text class="m" x="925.2" y="347.8" font-size="30.3" fill="#fff">VILLARRICA</text>
<text class="m" x="1508.3" y="297.1" font-size="30.3" fill="#fff">PUERTO IGUAZÚ</text>
<text class="m" x="1490.6" y="567.8" font-size="30.3" fill="#fff">ELDORADO</text>
<text class="m" x="1314.0" y="420.1" font-size="30.3" fill="#fff">NARANJAL</text>
<text class="m" x="1288.8" y="607.6" font-size="30.3" fill="#fff">MARÍA AUXILIADORA</text>
<text class="m" x="196.3" y="930.1" font-size="30.3" fill="#fff">CORRIENTES</text>
<text class="m" x="364.8" y="763.5" font-size="30.3" fill="#fff">ISLA UMBÚ</text>
<text class="m" x="711.3" y="654.6" font-size="30.3" fill="#fff">SAN JUAN BAUTISTA</text>
<text class="m" x="747.0" y="728.5" font-size="30.3" fill="#fff">SAN IGNACIO</text>
<text class="m" x="471.8" y="815.5" font-size="30.3" fill="#fff">VILLALBÍN</text>
<text class="m" x="850.5" y="958.8" font-size="30.3" fill="#fff">ITUZAINGÓ</text>
<text class="m" x="1092.5" y="893.4" font-size="30.3" fill="#fff">POSADAS</text>
<text class="m" x="1205.2" y="853.6" font-size="30.3" fill="#fff">SAN IGNACIO</text>
<text class="m" x="1336.4" y="934.3" font-size="30.3" fill="#fff">OBERÁ</text>
<text class="m" x="210.8" y="1096.5" font-size="30.3" fill="#fff">EMPEDRADO</text>
<text class="m" x="239.7" y="1310.8" font-size="30.3" fill="#fff">SAN ROQUE</text>
<text class="m" x="486.3" y="1243.8" font-size="30.3" fill="#fff">CONCEPCIÓN</text>
<text class="m" x="703.2" y="1293.4" font-size="30.3" fill="#fff">COL. C. PELLEGRINI</text>
<text class="m" x="1136.0" y="1080.8" font-size="30.3" fill="#fff">APÓSTOLES</text>
<text class="m" x="1045.3" y="1299.7" font-size="30.3" fill="#fff">SANTO TOMÉ</text>
<text class="m" x="1320.7" y="1071.3" font-size="30.3" fill="#fff">SAN JAVIER</text>
<text class="m" x="1527.0" y="1069.2" font-size="30.3" fill="#fff">SANTA ROSA</text>
<text class="m" x="432.1" y="1515.3" font-size="30.3" fill="#fff">MERCEDES</text>
<rect x="26" y="1653" width="333" height="102" fill="#808080" fill-opacity="0.6"/>
<rect x="40.1" y="1668.1" width="303.2" height="71.7" fill="none" stroke="#ffa500" stroke-width="5.8"/>
<text class="m" font-size="22.2" fill="#fff" xml:space="preserve"><tspan x="51.3" y="1697.6">Avisos Meteorológicos</tspan><tspan x="51.3" y="1724.4">a Muy Corto Plazo</tspan></text>
</g>
<g clip-path="url(#ct)">
<path d="M595.1 193.5 L601.4 189.4 L617 195.6 L646.2 195.6 L667.1 201.9 L713 201.9 L744.3 193.5 L754.7 185.2 L775.6 183.1 L800 182.1 L800 215.5 L633.7 215.5 L617 212.3 L600.3 206.1 L595.1 201.9Z" fill="#3c6298"/>
<path d="M800 182.1 L868.9 182.1 L916.8 181 L925.2 189.4 L939.8 185.2 L946.1 197.7 L971.1 195.6 L987.8 193.5 L1008.7 195.6 L1029.5 197.7 L1058.7 197.7 L1058.7 208.1 L1040 214.4 L800 216.5Z" fill="#3a70a4"/>
<path d="M800 209.2 L883.5 209.8 L998.2 208.6 L998.2 215.5 L800 216.5Z" fill="#3a70a4"/>
<path d="M1008.7 197.7 L1058.7 197.7 L1058.7 208.1 L1040 214.4 L1008.7 214.4Z" fill="#3a70a4"/>
<path d="M946.1 202.9 L987.8 200.2 L1058.7 199.4 L1058.7 208.1 L1040 214 L946.1 214.8Z" fill="#367cb0"/>
<path d="M596 189h2v6h-2zM606 189h2v4h-2zM622 187h2v8h-2zM630 186h2v10h-2zM634 191h2v5h-2zM642 194h2v3h-2zM644 179h2v18h-2zM654 185h2v13h-2zM656 188h2v11h-2zM674 192h2v9h-2zM694 200h2v4h-2zM698 198h2v5h-2zM702 196h2v8h-2zM706 194h2v9h-2zM710 185h2v17h-2zM714 198h2v3h-2zM724 196h2v3h-2zM758 179h2v7h-2zM772 175h2v11h-2zM788 181h2v3h-2zM796 179h2v5h-2zM798 172h2v12h-2zM804 176h2v8h-2zM808 177h2v7h-2zM814 174h2v10h-2zM818 178h2v6h-2zM822 179h2v5h-2zM828 174h2v10h-2zM858 177h2v7h-2zM868 171h2v13h-2zM886 179h2v4h-2zM930 188h2v5h-2zM944 189h2v10h-2zM968 193h2v7h-2zM1014 191h2v9h-2zM1030 192h2v8h-2zM1046 194h2v6h-2zM1054 195h2v5h-2zM800 160h2v5h-2zM858 170h2v4h-2zM856 162h2v3h-2zM801 170h2v3h-2zM766 170h2v3h-2zM861 169h2v4h-2zM782 166h2v6h-2zM856 168h2v6h-2zM773 166h2v3h-2zM813 164h2v4h-2zM797 168h2v3h-2zM827 161h2v4h-2zM803 162h2v3h-2zM799 167h2v3h-2zM803 166h2v6h-2zM787 160h2v3h-2zM867 159h2v4h-2zM793 170h2v5h-2zM787 165h2v3h-2zM797 168h2v4h-2zM853 169h2v2h-2zM851 162h2v3h-2zM831 166h2v6h-2z" fill="#3d5c8e"/>
<path d="M598 186h2v8h-2zM600 182h2v11h-2zM604 182h2v10h-2zM610 183h2v10h-2zM616 189h2v5h-2zM636 189h2v7h-2zM648 193h2v5h-2zM652 181h2v17h-2zM760 178h2v8h-2zM766 178h2v8h-2zM780 180h2v5h-2zM782 181h2v4h-2zM830 173h2v11h-2zM852 178h2v6h-2zM854 175h2v9h-2zM890 179h2v4h-2zM898 180h2v4h-2zM912 173h2v10h-2zM918 176h2v8h-2zM922 178h2v10h-2zM928 185h2v7h-2zM940 190h2v7h-2zM958 191h2v9h-2zM960 193h2v7h-2zM962 197h2v3h-2zM980 193h2v7h-2zM996 196h2v4h-2zM1004 188h2v12h-2zM1008 192h2v8h-2zM1012 193h2v7h-2zM1016 191h2v9h-2zM1022 190h2v10h-2zM1026 191h2v9h-2zM1048 184h2v16h-2zM866 164h2v5h-2zM866 163h2v6h-2zM867 158h2v6h-2zM766 160h2v2h-2zM812 161h2v5h-2zM808 161h2v2h-2zM789 160h2v5h-2zM825 160h2v2h-2zM816 167h2v5h-2zM783 169h2v3h-2zM866 169h2v3h-2zM823 158h2v4h-2zM869 166h2v4h-2zM767 170h2v4h-2zM763 162h2v3h-2zM789 162h2v6h-2zM820 168h2v4h-2zM825 160h2v2h-2zM793 170h2v4h-2zM763 162h2v3h-2zM811 166h2v2h-2zM809 168h2v4h-2zM854 160h2v3h-2zM769 158h2v4h-2zM831 159h2v5h-2zM859 161h2v3h-2zM852 168h2v6h-2zM811 159h2v5h-2zM816 165h2v3h-2zM837 161h2v5h-2zM815 164h2v5h-2zM991 206h2v4h-2zM938 200h2v5h-2zM653 201h2v8h-2zM799 189h2v7h-2zM727 208h2v3h-2zM933 208h2v2h-2zM739 205h2v4h-2zM831 211h2v2h-2zM954 209h2v3h-2zM851 201h2v5h-2zM855 203h2v8h-2zM1041 202h2v7h-2zM992 204h2v6h-2zM713 202h2v5h-2zM769 195h2v4h-2zM679 210h2v4h-2zM905 208h2v5h-2zM974 203h2v6h-2zM960 201h2v5h-2zM935 206h2v7h-2zM987 208h2v6h-2zM603 207h2v5h-2zM789 195h2v2h-2zM942 208h2v7h-2zM892 205h2v8h-2zM605 203h2v5h-2zM780 187h2v8h-2zM601 196h2v3h-2zM778 199h2v2h-2zM951 201h2v3h-2zM682 204h2v6h-2zM701 208h2v4h-2zM612 195h2v7h-2zM914 192h2v7h-2zM960 204h2v5h-2zM980 204h2v6h-2zM875 191h2v5h-2zM922 193h2v5h-2zM633 205h2v3h-2zM988 205h2v2h-2zM861 186h2v6h-2zM643 198h2v3h-2zM621 198h2v2h-2zM737 204h2v4h-2z" fill="#3a70a4"/>
<path d="M602 186h2v6h-2zM612 187h2v7h-2zM638 190h2v6h-2zM684 196h2v6h-2zM690 196h2v7h-2zM704 186h2v17h-2zM722 190h2v9h-2zM732 187h2v10h-2zM764 179h2v7h-2zM802 174h2v10h-2zM806 178h2v6h-2zM812 173h2v11h-2zM824 175h2v9h-2zM826 175h2v9h-2zM842 179h2v5h-2zM872 175h2v9h-2zM878 173h2v10h-2zM884 178h2v5h-2zM904 172h2v11h-2zM906 177h2v6h-2zM908 177h2v6h-2zM936 187h2v8h-2zM948 189h2v11h-2zM974 195h2v5h-2zM978 193h2v7h-2zM984 189h2v11h-2zM1002 193h2v7h-2zM1040 193h2v7h-2zM1042 196h2v4h-2zM1044 195h2v5h-2zM854 165h2v5h-2zM799 163h2v2h-2zM798 167h2v3h-2zM817 159h2v4h-2zM814 160h2v5h-2zM776 164h2v4h-2zM850 163h2v6h-2zM866 163h2v2h-2zM870 159h2v3h-2zM813 161h2v4h-2zM788 169h2v3h-2zM778 159h2v5h-2zM796 166h2v3h-2zM793 160h2v3h-2zM804 169h2v4h-2zM865 168h2v3h-2zM772 164h2v4h-2zM828 161h2v6h-2zM821 167h2v5h-2zM820 165h2v2h-2zM831 164h2v5h-2zM843 160h2v3h-2zM824 161h2v5h-2zM800 170h2v4h-2zM775 163h2v5h-2zM803 159h2v3h-2zM817 190h2v5h-2zM795 191h2v8h-2zM930 210h2v3h-2zM864 195h2v2h-2zM794 184h2v7h-2zM662 207h2v7h-2zM800 203h2v4h-2zM798 191h2v2h-2zM1042 201h2v6h-2zM655 205h2v5h-2zM968 206h2v7h-2zM651 208h2v3h-2zM939 208h2v6h-2zM764 205h2v4h-2zM891 204h2v7h-2zM847 188h2v5h-2zM639 210h2v3h-2zM969 201h2v4h-2zM731 203h2v3h-2zM730 211h2v3h-2zM922 207h2v7h-2zM678 205h2v6h-2zM609 201h2v6h-2zM803 197h2v6h-2zM705 208h2v6h-2zM649 209h2v6h-2zM800 199h2v6h-2zM743 201h2v7h-2zM778 189h2v7h-2zM1032 211h2v4h-2zM766 195h2v6h-2zM764 205h2v3h-2zM1046 209h2v4h-2zM705 211h2v4h-2zM690 204h2v7h-2zM852 192h2v7h-2zM998 206h2v3h-2zM922 197h2v4h-2zM670 203h2v6h-2zM837 205h2v6h-2zM770 208h2v5h-2zM814 208h2v3h-2zM768 194h2v3h-2zM799 194h2v3h-2zM709 205h2v6h-2zM836 204h2v7h-2z" fill="#3d5888"/>
<path d="M608 183h2v10h-2zM624 185h2v10h-2zM640 190h2v6h-2zM646 194h2v3h-2zM650 189h2v9h-2zM658 190h2v9h-2zM660 194h2v5h-2zM662 192h2v8h-2zM664 196h2v4h-2zM666 194h2v6h-2zM668 197h2v3h-2zM672 193h2v8h-2zM676 197h2v4h-2zM680 195h2v7h-2zM682 195h2v6h-2zM686 191h2v11h-2zM688 195h2v8h-2zM692 195h2v8h-2zM696 198h2v5h-2zM700 193h2v11h-2zM726 184h2v15h-2zM728 184h2v14h-2zM730 191h2v7h-2zM736 187h2v10h-2zM740 189h2v7h-2zM742 193h2v3h-2zM746 187h2v7h-2zM750 185h2v6h-2zM752 183h2v6h-2zM754 181h2v6h-2zM756 177h2v9h-2zM762 177h2v9h-2zM768 182h2v3h-2zM770 169h2v16h-2zM776 177h2v8h-2zM784 175h2v10h-2zM786 178h2v7h-2zM790 181h2v4h-2zM794 177h2v8h-2zM800 178h2v6h-2zM820 179h2v5h-2zM836 167h2v17h-2zM844 181h2v3h-2zM846 180h2v4h-2zM848 180h2v4h-2zM850 175h2v9h-2zM856 180h2v4h-2zM862 171h2v13h-2zM866 176h2v8h-2zM870 177h2v7h-2zM874 180h2v4h-2zM882 177h2v6h-2zM888 178h2v6h-2zM892 174h2v9h-2zM902 180h2v4h-2zM910 179h2v4h-2zM924 182h2v8h-2zM938 189h2v8h-2zM942 186h2v13h-2zM954 193h2v7h-2zM966 190h2v10h-2zM970 184h2v16h-2zM976 193h2v7h-2zM982 195h2v5h-2zM986 195h2v5h-2zM988 196h2v4h-2zM992 182h2v18h-2zM994 197h2v3h-2zM1000 197h2v3h-2zM1006 194h2v6h-2zM1010 190h2v10h-2zM1018 193h2v7h-2zM1028 192h2v8h-2zM1034 184h2v16h-2zM1038 191h2v9h-2zM1050 190h2v10h-2zM1052 189h2v11h-2zM1056 192h2v8h-2zM806 166h2v5h-2zM775 158h2v3h-2zM837 162h2v5h-2zM829 161h2v3h-2zM814 165h2v2h-2zM782 159h2v5h-2zM844 161h2v4h-2zM773 162h2v4h-2zM785 164h2v5h-2zM869 170h2v6h-2zM820 165h2v3h-2zM793 164h2v6h-2zM844 169h2v4h-2zM861 168h2v4h-2zM818 168h2v4h-2zM764 159h2v4h-2zM819 162h2v5h-2zM773 167h2v4h-2zM792 162h2v4h-2zM816 161h2v5h-2zM843 166h2v2h-2zM831 168h2v2h-2zM838 164h2v4h-2zM848 163h2v3h-2zM773 168h2v4h-2zM812 163h2v5h-2zM870 163h2v5h-2zM871 166h2v4h-2zM847 167h2v3h-2zM794 170h2v3h-2zM820 163h2v4h-2zM808 165h2v4h-2zM769 168h2v4h-2zM802 161h2v4h-2zM809 168h2v5h-2zM816 162h2v2h-2zM830 160h2v2h-2zM810 160h2v2h-2zM783 168h2v4h-2zM784 166h2v4h-2zM810 159h2v6h-2zM769 169h2v5h-2zM777 164h2v4h-2zM784 159h2v4h-2zM806 161h2v3h-2zM798 161h2v6h-2zM788 162h2v3h-2zM790 161h2v5h-2zM805 164h2v4h-2zM826 159h2v4h-2z" fill="#3c6298"/>
<path d="M937 201h2v2h-2zM931 200h2v5h-2zM849 194h2v6h-2zM927 199h2v2h-2zM818 205h2v3h-2zM643 208h2v6h-2zM776 197h2v8h-2zM646 209h2v4h-2zM700 208h2v5h-2zM772 209h2v3h-2zM825 187h2v8h-2zM935 204h2v7h-2zM852 195h2v5h-2zM682 203h2v3h-2zM803 196h2v5h-2zM614 201h2v7h-2zM945 205h2v4h-2zM847 201h2v4h-2zM750 197h2v3h-2zM713 207h2v4h-2zM748 195h2v4h-2zM1020 204h2v5h-2zM797 195h2v5h-2zM892 197h2v6h-2zM1022 208h2v3h-2zM653 203h2v3h-2zM952 202h2v5h-2zM708 204h2v2h-2zM671 202h2v7h-2zM971 206h2v5h-2zM770 188h2v7h-2zM833 192h2v8h-2zM894 190h2v6h-2zM831 211h2v2h-2zM717 203h2v6h-2zM742 209h2v4h-2zM989 201h2v2h-2zM996 208h2v3h-2zM1022 204h2v5h-2zM807 187h2v8h-2zM882 201h2v3h-2zM612 200h2v7h-2zM613 211h2v3h-2zM958 210h2v3h-2zM956 204h2v6h-2zM1049 205h2v5h-2zM882 192h2v6h-2zM769 186h2v5h-2zM661 204h2v3h-2zM711 205h2v5h-2zM779 190h2v7h-2zM677 208h2v7h-2zM842 193h2v5h-2z" fill="#2e86ba"/>
<path d="M682 205h2v3h-2zM921 195h2v3h-2zM678 206h2v3h-2zM654 206h2v3h-2zM747 208h2v3h-2zM721 206h2v4h-2zM935 204h2v6h-2zM792 193h2v2h-2zM813 184h2v6h-2zM893 205h2v8h-2zM1049 201h2v4h-2zM753 198h2v2h-2zM671 208h2v6h-2zM1011 207h2v3h-2zM740 207h2v3h-2zM817 187h2v3h-2zM725 210h2v3h-2zM995 212h2v2h-2zM830 210h2v3h-2zM867 195h2v8h-2zM639 207h2v7h-2zM902 183h2v5h-2zM633 209h2v3h-2zM861 188h2v5h-2zM783 186h2v6h-2zM913 193h2v5h-2zM819 189h2v5h-2zM1041 209h2v5h-2zM763 207h2v4h-2zM941 202h2v3h-2zM1010 202h2v8h-2zM851 196h2v3h-2zM969 202h2v7h-2zM994 208h2v5h-2zM720 201h2v7h-2zM788 205h2v3h-2zM879 197h2v2h-2zM744 205h2v5h-2zM932 201h2v7h-2zM831 192h2v4h-2zM878 193h2v3h-2zM990 202h2v3h-2zM619 201h2v4h-2zM726 203h2v2h-2zM940 199h2v7h-2z" fill="#3b6aa0"/>
<path d="M816 203h2v3h-2zM900 190h2v4h-2zM1040 205h2v4h-2zM752 208h2v6h-2zM751 206h2v7h-2zM703 207h2v3h-2zM731 198h2v2h-2zM1022 202h2v5h-2zM1050 202h2v4h-2zM1008 201h2v6h-2zM663 202h2v8h-2zM763 199h2v3h-2zM1022 204h2v5h-2zM655 207h2v8h-2zM742 203h2v8h-2zM693 210h2v2h-2zM967 203h2v3h-2zM763 186h2v3h-2zM674 208h2v5h-2zM698 209h2v3h-2zM879 210h2v4h-2zM635 208h2v5h-2zM733 198h2v8h-2zM935 208h2v6h-2zM823 208h2v5h-2zM628 208h2v3h-2zM664 203h2v3h-2zM1019 208h2v6h-2zM1027 211h2v3h-2zM998 202h2v7h-2zM890 206h2v3h-2zM973 207h2v8h-2zM879 187h2v5h-2zM944 209h2v2h-2zM907 196h2v6h-2zM845 208h2v6h-2zM725 207h2v3h-2zM998 203h2v4h-2zM1024 204h2v2h-2zM820 198h2v3h-2zM699 210h2v4h-2zM601 196h2v8h-2zM932 204h2v4h-2zM680 209h2v3h-2zM651 206h2v7h-2zM921 211h2v2h-2zM1024 200h2v3h-2zM977 210h2v3h-2zM923 195h2v4h-2zM621 202h2v7h-2z" fill="#367cb0"/>
<ellipse cx="428.2" cy="188.3" rx="4.2" ry="13.6" fill="#367cb0"/>
<ellipse cx="482.4" cy="193.5" rx="3.8" ry="11.5" fill="#3a70a4"/>
<ellipse cx="518.9" cy="160.2" rx="7.7" ry="30.3" fill="#2894c4"/>
<ellipse cx="530.4" cy="158.1" rx="6.9" ry="31.3" fill="#2e86ba"/>
<ellipse cx="523.1" cy="172.7" rx="8.3" ry="16.7" fill="#2894c4"/>
<ellipse cx="509.5" cy="126.8" rx="7.3" ry="21.9" fill="#3cbc2a"/>
<ellipse cx="525.2" cy="110.1" rx="6.7" ry="22.5" fill="#3cbc2a"/>
<ellipse cx="550.2" cy="149.7" rx="6.9" ry="24.0" fill="#2e86ba"/>
<ellipse cx="554.4" cy="190.4" rx="2.9" ry="8.3" fill="#3a70a4"/>
<ellipse cx="547.5" cy="199.8" rx="2.5" ry="7.9" fill="#3a70a4"/>
<path d="M601.4 149.7 L605.5 135.1 L612.8 132 L621.2 133 L629.5 132 L637.9 132 L648.3 135.1 L658.7 139.3 L669.2 143.5 L675.4 126.8 L679.6 123.6 L687.9 123.6 L693.2 130.9 L700.5 133 L705.7 123.6 L711.9 126.8 L719.2 130.9 L725.5 123.6 L731.8 126.8 L733.9 143.5 L746.4 137.2 L752.6 151.8 L756.8 151.8 L763.1 164.3 L764.1 181 L754.7 193.5 L713 199.8 L667.1 199.8 L646.2 193.5 L617 193.5 L604.5 191.5 L601.4 176.8Z" fill="#2e86ba"/>
<ellipse cx="621.2" cy="162.2" rx="7.9" ry="28.2" fill="#2894c4"/>
<ellipse cx="648.3" cy="164.3" rx="9.4" ry="23.0" fill="#2894c4"/>
<ellipse cx="706.7" cy="164.3" rx="7.3" ry="31.3" fill="#2894c4"/>
<ellipse cx="725.5" cy="168.5" rx="7.3" ry="27.1" fill="#2894c4"/>
<ellipse cx="681.7" cy="160.2" rx="6.3" ry="31.3" fill="#367cb0"/>
<ellipse cx="665.0" cy="183.1" rx="5.2" ry="10.4" fill="#2cb0dc"/>
<ellipse cx="646.2" cy="180.0" rx="6.9" ry="12.5" fill="#4ee032"/>
<ellipse cx="661.9" cy="188.3" rx="5.2" ry="10.4" fill="#4ee032"/>
<rect x="618.7" y="133.4" width="2.9" height="2.5" fill="#4ee032"/>
<ellipse cx="723.4" cy="77.7" rx="7.3" ry="14.6" fill="#2e86ba"/>
<ellipse cx="735.9" cy="112.2" rx="7.3" ry="31.3" fill="#2e86ba"/>
<ellipse cx="782.9" cy="130.9" rx="5.8" ry="20.9" fill="#2e86ba"/>
<ellipse cx="793.3" cy="130.9" rx="5.8" ry="20.9" fill="#2e86ba"/>
<path d="M869.9 151.8 L873 146 L908.5 146.6 L913.7 164.3 L913.7 189.4 L904.3 201.9 L879.3 201.9 L870.9 176.8Z" fill="#2e86ba"/>
<ellipse cx="891.8" cy="183.1" rx="10.4" ry="17.7" fill="#2894c4"/>
<ellipse cx="923.1" cy="125.7" rx="2.7" ry="7.9" fill="#2e86ba"/>
<rect x="920.0" y="138.2" width="3.8" height="15.6" fill="#4ee032"/>
<rect x="923.7" y="138.2" width="3.1" height="15.6" fill="#30a024"/>
<rect x="926.9" y="138.2" width="4.2" height="15.6" fill="#2e86ba"/>
<ellipse cx="966.9" cy="162.2" rx="6.7" ry="20.9" fill="#2e86ba"/>
<ellipse cx="958.6" cy="183.1" rx="4.2" ry="12.5" fill="#367cb0"/>
<ellipse cx="1067.7" cy="121.6" rx="13.6" ry="29.2" fill="#2894c4"/>
<ellipse cx="1069.2" cy="141.4" rx="7.3" ry="9.4" fill="#2e86ba"/>
<ellipse cx="1139.1" cy="171.6" rx="6.7" ry="17.7" fill="#2e86ba"/>
<ellipse cx="1129.7" cy="199.8" rx="2.9" ry="10.0" fill="#367cb0"/>
<ellipse cx="1217.6" cy="170.6" rx="5.6" ry="19.8" fill="#367cb0"/>
<ellipse cx="1231.5" cy="159.1" rx="5.6" ry="18.8" fill="#367cb0"/>
<ellipse cx="1252.0" cy="181.0" rx="8.8" ry="24.0" fill="#2e86ba"/>
<ellipse cx="1271.8" cy="159.1" rx="11.5" ry="23.0" fill="#367cb0"/>
<ellipse cx="1292.7" cy="163.3" rx="6.3" ry="17.7" fill="#367cb0"/>
<ellipse cx="1307.3" cy="174.8" rx="7.3" ry="28.2" fill="#367cb0"/>
<ellipse cx="1319.8" cy="172.7" rx="6.3" ry="31.3" fill="#2e86ba"/>
<ellipse cx="1334.4" cy="96.5" rx="5.8" ry="19.8" fill="#4ee032"/>
<path d="M869.9 151.8 L873 146 L908.5 146.6 L913.7 164.3 L913.7 189.4 L904.3 201.9 L879.3 201.9 L870.9 176.8Z" fill="#2e86ba"/>
<ellipse cx="891.8" cy="183.1" rx="10.4" ry="17.7" fill="#2894c4"/>
<clipPath id="cs"><path d="M1315.6 60 L1532.6 60 L1532.6 185.2 L1513.9 189.4 L1451.3 193.5 L1415.8 195.6 L1380.3 198.8 L1351.1 200.2 L1326.1 203.6 L1315.6 204Z"/></clipPath><g clip-path="url(#cs)">
<path d="M1318.8 206.1 L1324 160.2 L1326.1 147.6 L1330.2 130.9 L1338.6 122.6 L1340.7 106.9 L1344.8 102.8 L1350.1 110.1 L1350.1 122.6 L1359.4 118.4 L1367.8 121.6 L1376.1 117.4 L1382.4 122.6 L1383.4 130.9 L1390.7 128.9 L1392.8 116.3 L1397 113.2 L1401.2 120.5 L1401.2 128.9 L1417.9 125.7 L1422 137.2 L1426.2 122.6 L1428.3 108 L1433.5 101.7 L1435.6 89.2 L1442.9 85 L1451.3 81.9 L1458.6 83 L1461.7 91.3 L1463.8 99.6 L1480.5 95.5 L1488.8 91.3 L1493 76.7 L1501.3 71.5 L1507.6 75.6 L1509.7 89.2 L1515.9 90.3 L1522.2 86.1 L1528.5 88.2 L1531.6 101.7 L1531.6 206.1Z" fill="#2894c4"/>
<path d="M1330.2 147.6 L1338.6 128.9 L1346.9 128.9 L1353.2 139.3 L1388.7 133 L1420 135.1 L1424.1 151.8 L1424.1 206.1 L1330.2 206.1Z" fill="#2894c4"/>
<ellipse cx="1337.5" cy="185.2" rx="20.9" ry="44.9" fill="#4ee032"/>
<ellipse cx="1337.5" cy="187.3" rx="17.7" ry="40.7" fill="#3cbc2a"/>
<ellipse cx="1337.5" cy="189.4" rx="14.6" ry="37.6" fill="#30a024"/>
<ellipse cx="1337.5" cy="193.5" rx="12.1" ry="31.3" fill="#4ee032"/>
<ellipse cx="1336.5" cy="187.3" rx="10.0" ry="28.2" fill="#e3e438"/>
<ellipse cx="1334.8" cy="193.5" rx="3.8" ry="14.6" fill="#cdd02e"/>
<ellipse cx="1334.0" cy="195.6" rx="1.7" ry="7.3" fill="#d69719"/>
<ellipse cx="1359.4" cy="193.5" rx="9.4" ry="31.3" fill="#4ee032"/>
<ellipse cx="1374.1" cy="189.4" rx="10.0" ry="39.6" fill="#4ee032"/>
<ellipse cx="1370.9" cy="193.5" rx="5.0" ry="25.0" fill="#30a024"/>
<ellipse cx="1399.1" cy="185.2" rx="14.2" ry="36.5" fill="#4ee032"/>
<ellipse cx="1398.7" cy="187.3" rx="10.9" ry="30.3" fill="#38b026"/>
<ellipse cx="1397.0" cy="190.4" rx="6.3" ry="20.9" fill="#2a881e"/>
<ellipse cx="1393.2" cy="193.5" rx="1.3" ry="8.3" fill="#e3e438"/>
<path d="M1425.2 206.1 L1426.2 143.5 L1430.4 122.6 L1436.7 105.9 L1440.8 87.1 L1449.2 85 L1453.3 99.6 L1459.6 110.1 L1463.8 122.6 L1472.1 120.5 L1480.5 114.3 L1481.5 97.6 L1488.8 95.5 L1493 99.6 L1497.2 91.3 L1505.5 91.3 L1509.7 108 L1518 110.1 L1522.2 87.1 L1528.5 88.2 L1531.6 101.7 L1531.6 206.1Z" fill="#46d02e"/>
<path d="M1453.3 85 L1459.6 84 L1463.8 101.7 L1480.5 97.6 L1480.5 113.2 L1472.1 119.5 L1463.8 121.6 L1459.6 109 L1453.8 99.6Z" fill="#2894c4"/>
<path d="M1505.5 91.3 L1508.6 76.7 L1510.7 90.3 L1522.2 86.7 L1518 109 L1510.1 107.6Z" fill="#2894c4"/>
<path d="M1430.4 206.1 L1430.4 128.9 L1440.8 108 L1451.3 108 L1461.7 126.8 L1472.1 128.9 L1482.6 120.5 L1490.9 114.3 L1493 105.9 L1505.5 105.9 L1511.8 122.6 L1522.2 118.4 L1531.6 122.6 L1531.6 206.1Z" fill="#30a024"/>
<ellipse cx="1445.0" cy="160.2" rx="17.7" ry="55.3" fill="#247218"/>
<ellipse cx="1499.2" cy="151.8" rx="11.5" ry="44.9" fill="#247218"/>
<path d="M1457.5 147.6 L1493 147.6 L1493 206.1 L1457.5 206.1Z" fill="#247218"/>
<ellipse cx="1462.7" cy="128.9" rx="3.8" ry="8.3" fill="#3cbc2a"/>
<ellipse cx="1484.6" cy="128.9" rx="3.8" ry="8.3" fill="#3cbc2a"/>
<ellipse cx="1445.0" cy="158.1" rx="13.8" ry="41.7" fill="#e3e438"/>
<ellipse cx="1445.0" cy="160.2" rx="11.5" ry="35.5" fill="#cdd02e"/>
<ellipse cx="1445.0" cy="162.2" rx="9.6" ry="31.3" fill="#d0ae20"/>
<ellipse cx="1445.0" cy="164.3" rx="7.9" ry="28.2" fill="#dd7f17"/>
<ellipse cx="1445.0" cy="168.5" rx="5.8" ry="27.1" fill="#cc0020"/>
<ellipse cx="1445.4" cy="187.3" rx="3.3" ry="10.4" fill="#ec1030"/>
<ellipse cx="1473.2" cy="176.8" rx="5.8" ry="31.3" fill="#e3e438"/>
<ellipse cx="1481.5" cy="181.0" rx="5.4" ry="31.3" fill="#e3e438"/>
<ellipse cx="1476.3" cy="168.5" rx="7.3" ry="20.9" fill="#d6d834"/>
<ellipse cx="1498.2" cy="158.1" rx="9.0" ry="40.7" fill="#e3e438"/>
<ellipse cx="1497.6" cy="162.2" rx="6.7" ry="34.4" fill="#cdd02e"/>
<ellipse cx="1497.2" cy="164.3" rx="5.0" ry="29.2" fill="#d0ae20"/>
<ellipse cx="1497.2" cy="168.5" rx="2.9" ry="23.0" fill="#dd7f17"/>
<ellipse cx="1497.6" cy="151.2" rx="1.5" ry="5.0" fill="#ec1030"/>
<ellipse cx="1496.1" cy="187.7" rx="1.0" ry="2.9" fill="#ec1030"/>
<ellipse cx="1527.4" cy="156.0" rx="12.9" ry="36.5" fill="#e3e438"/>
<ellipse cx="1528.9" cy="151.8" rx="7.3" ry="23.0" fill="#cdd02e"/>
<ellipse cx="1528.9" cy="147.6" rx="4.2" ry="9.4" fill="#c2c830"/>
</g>
<path d="M21 115.4H1568M21 167.4H1568" stroke="#fff" stroke-width="1.6" fill="none"/>
<text class="s" font-size="22.2" fill="#fff" xml:space="preserve"><tspan x="20.2" y="88">15 km</tspan><tspan x="20.2" y="138.8">10 km</tspan><tspan x="20.2" y="189.6">5 km</tspan></text>
</g>
<g clip-path="url(#cr)">
<path d="M1594.6 324.8 L1604 317.4 L1622.9 314.3 L1639.6 314.3 L1653.2 317.4 L1659.5 322.7 L1655.3 329 L1654.3 335.2 L1657.4 339.4 L1657.4 346.8 L1650.1 351 L1649.1 359.3 L1631.2 366.7 L1612.4 368.8 L1598.8 365.6 L1593.5 360.4 L1593.5 354.1 L1595.6 345.7Z" fill="#2e86ba"/>
<path d="M1595.6 337.3 L1629.1 333.1 L1652.2 339.4 L1650.1 351 L1649.1 358.3 L1631.2 365.6 L1612.4 367.7 L1598.8 364.6 L1593.9 358.3Z" fill="#2894c4"/>
<rect x="1595.2" y="345.3" width="25.1" height="8.4" fill="#4ee032"/>
<rect x="1650.1" y="345.7" width="2.5" height="2.1" fill="#4ee032"/>
<path d="M1590.4 385.5 L1594.6 378.2 L1612.4 376.1 L1635.4 377.2 L1643.8 381.3 L1644.9 393.9 L1633.3 398.1 L1642.8 404.4 L1638.6 409.6 L1639.6 422.2 L1650.1 426.4 L1660.6 431.6 L1662.7 440 L1662.7 450.5 L1648 452.6 L1643.8 456.8 L1629.1 459.9 L1597.7 459.9 L1588.3 456.8 L1588.3 427.4 L1591.4 419.1 L1590.4 402.3 L1601.9 397.1 L1591.4 395Z" fill="#2e86ba"/>
<path d="M1589.3 425.3 L1629.1 424.3 L1635.4 437.9 L1629.1 450.5 L1589.3 451.5Z" fill="#2894c4"/>
<rect x="1590.4" y="420.1" width="22.0" height="4.8" fill="#4ee032"/>
<rect x="1588.3" y="430.6" width="9.4" height="2.9" fill="#4ee032"/>
<rect x="1590.4" y="446.3" width="4.2" height="1.7" fill="#4ee032"/>
<ellipse cx="1612.4" cy="468.7" rx="17.8" ry="5.7" fill="#367cb0"/>
<path d="M1585.1 485.1 L1596.7 480.9 L1622.9 478.8 L1638.6 480.9 L1639.6 498.7 L1633.3 503.9 L1637.5 509.2 L1627.1 512.3 L1601.9 512.3 L1593.5 509.2 L1585.1 503.9Z" fill="#2e86ba"/>
<path d="M1587.2 490.3 L1629.1 489.3 L1631.2 500.8 L1587.2 501.8Z" fill="#2894c4"/>
<ellipse cx="1611.3" cy="566.1" rx="22.0" ry="6.3" fill="#2e86ba"/>
<ellipse cx="1616.2" cy="636.3" rx="18.4" ry="5.7" fill="#2e86ba"/>
<ellipse cx="1627.5" cy="673.4" rx="17.8" ry="5.7" fill="#367cb0"/>
<ellipse cx="1620.1" cy="695.4" rx="19.9" ry="6.3" fill="#2e86ba"/>
<ellipse cx="1584.1" cy="745.1" rx="10.9" ry="2.9" fill="#367cb0"/>
<ellipse cx="1605.0" cy="753.3" rx="7.3" ry="2.5" fill="#3a70a4"/>
<ellipse cx="1596.7" cy="764.6" rx="11.5" ry="2.9" fill="#3a70a4"/>
<path d="M1574.7 785.5 L1591.4 785.5 L1591.4 791.8 L1589.3 804.4 L1603 807.5 L1599.8 817 L1608.2 821.2 L1607.1 829.5 L1597.7 831.6 L1598.8 837.9 L1608.2 842.1 L1607.1 854.7 L1608.2 867.2 L1605 875.6 L1609.2 884 L1608.2 892.4 L1618.7 898.7 L1587.2 902.9 L1585.1 934.3 L1587.2 976.2 L1586.2 1020 L1572.6 1020 L1572.6 829.5Z" fill="#3c6298"/>
<path d="M1572.6 1020 L1610.3 1020 L1605 1032.6 L1610.3 1041 L1605 1049.3 L1607.1 1061.9 L1603 1074.5 L1605 1085 L1608.2 1093.3 L1603 1103.8 L1605 1114.3 L1587.2 1129 L1603 1134.2 L1598.8 1145.7 L1608.2 1154.1 L1597.7 1166.7 L1587.2 1179.2 L1572.6 1183.4Z" fill="#3a70a4"/>
<path d="M1576.8 1072.4 L1597.7 1070.3 L1599.8 1089.1 L1578.9 1091.2Z" fill="#3a70a4"/>
<path d="M1583 1033h23v2h-23zM1577 903h26v2h-26zM1572 908h18v2h-18zM1583 977h12v2h-12zM1597 859h9v2h-9zM1580 909h23v2h-23zM1600 1044h8v2h-8zM1585 1171h10v2h-10zM1582 931h23v2h-23zM1584 1065h11v2h-11zM1576 1043h24v2h-24zM1589 1156h11v2h-11zM1574 1011h20v2h-20zM1581 796h6v2h-6zM1586 1022h21v2h-21zM1598 1114h5v2h-5zM1586 873h15v2h-15zM1590 818h5v2h-5zM1581 913h18v2h-18zM1575 1056h9v2h-9zM1577 1065h22v2h-22zM1597 1151h10v2h-10zM1578 836h15v2h-15zM1572 884h25v2h-25zM1590 973h11v2h-11zM1581 809h16v2h-16zM1574 1174h6v2h-6zM1585 1062h23v2h-23zM1589 1014h15v2h-15zM1574 1054h11v2h-11zM1581 970h15v2h-15zM1598 791h6v2h-6zM1592 1173h14v2h-14zM1575 910h26v2h-26zM1589 1140h15v2h-15zM1589 859h17v2h-17zM1574 1029h14v2h-14zM1589 862h8v2h-8zM1583 1077h22v2h-22zM1586 936h15v2h-15zM1596 1159h5v2h-5zM1587 960h19v2h-19zM1578 862h12v2h-12zM1586 1075h7v2h-7zM1577 1175h8v2h-8zM1576 907h24v2h-24zM1575 1059h7v2h-7zM1578 964h10v2h-10zM1587 825h11v2h-11zM1590 1048h14v2h-14zM1578 1023h23v2h-23zM1572 976h18v2h-18zM1587 1089h19v2h-19zM1587 1099h13v2h-13zM1580 1009h25v2h-25zM1578 864h11v2h-11zM1573 927h23v2h-23zM1578 824h9v2h-9zM1584 898h8v2h-8zM1574 1062h22v2h-22zM1593 1163h11v2h-11zM1587 836h14v2h-14zM1585 1102h17v2h-17zM1583 908h17v2h-17zM1588 1029h5v2h-5zM1583 838h12v2h-12zM1579 920h23v2h-23zM1585 1168h11v2h-11zM1572 914h26v2h-26zM1575 912h17v2h-17zM1585 1032h17v2h-17zM1576 975h18v2h-18zM1575 1004h30v2h-30zM1597 957h10v2h-10zM1596 923h5v2h-5zM1588 957h17v2h-17z" fill="#3a6aa0"/>
<path d="M1588 1044h17v2h-17zM1575 1129h11v2h-11zM1599 872h8v2h-8zM1599 1034h9v2h-9zM1578 1167h16v2h-16zM1574 952h28v2h-28zM1583 1066h6v2h-6zM1583 1085h24v2h-24zM1588 832h16v2h-16zM1574 804h17v2h-17zM1575 990h13v2h-13zM1579 1150h12v2h-12zM1593 803h11v2h-11zM1593 905h15v2h-15zM1584 914h11v2h-11zM1582 834h18v2h-18zM1575 1069h26v2h-26zM1589 1016h4v2h-4zM1576 925h27v2h-27zM1591 1129h16v2h-16zM1575 992h18v2h-18zM1585 866h16v2h-16zM1575 1175h16v2h-16zM1593 818h7v2h-7zM1589 922h18v2h-18zM1579 953h25v2h-25zM1583 1163h17v2h-17zM1579 1110h17v2h-17zM1582 1132h14v2h-14zM1584 1165h17v2h-17zM1576 914h27v2h-27zM1579 1095h9v2h-9zM1584 926h21v2h-21zM1573 1018h25v2h-25zM1598 1063h5v2h-5zM1573 1030h25v2h-25zM1582 1178h13v2h-13zM1593 936h5v2h-5zM1574 1004h10v2h-10zM1580 889h21v2h-21zM1582 1048h12v2h-12zM1592 936h14v2h-14zM1596 1005h7v2h-7zM1600 1052h5v2h-5zM1594 798h10v2h-10zM1586 1146h15v2h-15zM1574 973h24v2h-24zM1582 1157h13v2h-13zM1578 1010h28v2h-28zM1603 810h5v2h-5zM1575 1061h19v2h-19zM1578 955h24v2h-24zM1580 1138h21v2h-21zM1574 912h7v2h-7zM1599 790h7v2h-7zM1577 894h22v2h-22zM1574 1007h5v2h-5zM1575 796h11v2h-11zM1591 919h4v2h-4zM1588 1073h6v2h-6zM1581 1100h6v2h-6zM1582 991h24v2h-24zM1575 1031h14v2h-14zM1596 1084h10v2h-10zM1573 871h10v2h-10zM1575 881h5v2h-5zM1592 1137h16v2h-16zM1581 1136h8v2h-8zM1574 844h13v2h-13zM1591 1122h16v2h-16zM1575 791h12v2h-12zM1574 932h24v2h-24zM1589 936h7v2h-7zM1584 842h4v2h-4zM1598 1068h4v2h-4zM1582 1083h8v2h-8zM1585 993h5v2h-5zM1584 1124h8v2h-8zM1596 1106h4v2h-4zM1602 1129h5v2h-5zM1598 1147h10v2h-10zM1584 954h11v2h-11zM1575 1165h12v2h-12zM1582 1140h19v2h-19zM1580 833h15v2h-15zM1582 1144h13v2h-13zM1579 812h4v2h-4zM1591 1104h9v2h-9zM1575 806h14v2h-14zM1586 1034h14v2h-14zM1588 1064h18v2h-18zM1588 1022h18v2h-18zM1592 1071h6v2h-6zM1577 837h17v2h-17zM1576 1142h12v2h-12zM1579 961h17v2h-17zM1583 894h15v2h-15zM1578 1007h21v2h-21zM1575 1116h10v2h-10zM1584 940h20v2h-20zM1588 829h18v2h-18zM1582 1001h21v2h-21zM1592 805h16v2h-16zM1587 939h20v2h-20zM1573 1134h16v2h-16zM1579 1006h25v2h-25zM1594 1071h7v2h-7zM1581 1149h8v2h-8zM1582 842h11v2h-11zM1576 970h28v2h-28zM1586 1068h18v2h-18zM1587 791h16v2h-16zM1587 1044h13v2h-13zM1574 1042h27v2h-27zM1572 848h5v2h-5zM1580 1026h27v2h-27zM1592 798h15v2h-15zM1598 1128h5v2h-5zM1590 933h6v2h-6zM1590 1063h15v2h-15zM1578 1073h24v2h-24zM1589 893h17v2h-17zM1592 979h6v2h-6zM1580 827h16v2h-16zM1577 818h14v2h-14zM1577 832h4v2h-4zM1591 816h5v2h-5zM1583 958h10v2h-10zM1586 1121h7v2h-7zM1585 1121h6v2h-6zM1582 942h26v2h-26zM1581 846h19v2h-19zM1586 804h15v2h-15zM1578 1141h17v2h-17zM1585 870h23v2h-23zM1580 1091h23v2h-23zM1577 1095h9v2h-9zM1580 1117h18v2h-18zM1576 1079h24v2h-24zM1583 791h15v2h-15zM1574 875h22v2h-22zM1584 1023h10v2h-10zM1588 1146h7v2h-7zM1583 895h8v2h-8zM1583 1066h20v2h-20zM1580 1011h24v2h-24zM1586 1156h10v2h-10zM1576 993h24v2h-24zM1573 914h16v2h-16zM1597 1004h11v2h-11zM1580 1099h9v2h-9zM1579 1157h9v2h-9zM1576 829h9v2h-9zM1586 1164h10v2h-10zM1590 881h15v2h-15zM1574 982h24v2h-24zM1593 1128h13v2h-13zM1589 818h11v2h-11zM1578 991h21v2h-21zM1583 1056h5v2h-5zM1582 935h11v2h-11zM1576 1072h14v2h-14zM1579 944h18v2h-18zM1583 1161h9v2h-9zM1581 1117h10v2h-10z" fill="#3d5888"/>
<path d="M1573 1043h26v2h-26zM1580 795h7v2h-7zM1600 963h7v2h-7zM1584 929h14v2h-14zM1572 933h18v2h-18zM1589 1066h18v2h-18zM1574 990h27v2h-27zM1573 1059h28v2h-28zM1593 822h13v2h-13zM1588 883h17v2h-17zM1575 1173h11v2h-11zM1576 832h11v2h-11zM1579 1035h16v2h-16zM1585 1092h17v2h-17zM1583 875h18v2h-18zM1580 790h9v2h-9zM1583 1128h16v2h-16zM1583 972h8v2h-8zM1586 982h16v2h-16zM1578 1079h11v2h-11zM1593 846h4v2h-4zM1576 886h5v2h-5zM1579 795h11v2h-11zM1585 1071h10v2h-10zM1580 992h26v2h-26zM1585 921h11v2h-11zM1585 804h7v2h-7zM1572 1136h13v2h-13zM1575 978h28v2h-28zM1585 1056h21v2h-21zM1585 1094h16v2h-16zM1580 1137h20v2h-20zM1574 894h6v2h-6zM1573 920h14v2h-14zM1572 945h20v2h-20zM1579 1105h21v2h-21zM1584 860h18v2h-18zM1595 1022h10v2h-10zM1577 1073h5v2h-5zM1591 982h9v2h-9zM1588 1114h16v2h-16zM1574 874h8v2h-8zM1573 803h7v2h-7zM1581 1137h14v2h-14zM1590 970h9v2h-9zM1574 800h7v2h-7zM1596 792h5v2h-5zM1594 1141h12v2h-12zM1580 1056h19v2h-19zM1589 874h4v2h-4zM1575 1073h25v2h-25zM1595 912h6v2h-6zM1593 886h5v2h-5zM1584 1064h22v2h-22zM1573 1095h4v2h-4zM1575 915h11v2h-11zM1594 1036h8v2h-8zM1578 882h19v2h-19zM1597 927h10v2h-10zM1577 981h5v2h-5zM1583 976h16v2h-16zM1585 1026h20v2h-20zM1582 914h5v2h-5zM1584 985h18v2h-18zM1576 1007h6v2h-6zM1582 1028h26v2h-26zM1581 1026h18v2h-18zM1577 955h29v2h-29zM1601 1101h6v2h-6zM1575 1037h23v2h-23zM1583 1023h10v2h-10zM1573 1026h28v2h-28zM1574 1097h11v2h-11zM1589 1138h14v2h-14zM1574 849h15v2h-15zM1585 1139h13v2h-13zM1597 1088h9v2h-9zM1586 903h16v2h-16zM1580 1015h12v2h-12zM1574 896h20v2h-20zM1576 1006h15v2h-15zM1590 1106h4v2h-4zM1584 1170h10v2h-10zM1592 1163h12v2h-12zM1576 1031h19v2h-19zM1592 1090h13v2h-13zM1595 1138h6v2h-6zM1583 1115h5v2h-5zM1591 791h12v2h-12zM1573 820h15v2h-15zM1573 1135h7v2h-7zM1588 820h10v2h-10zM1573 1166h6v2h-6zM1585 987h20v2h-20zM1581 1093h16v2h-16zM1583 898h17v2h-17zM1582 936h14v2h-14zM1576 983h19v2h-19zM1591 936h12v2h-12zM1576 1096h19v2h-19zM1583 950h15v2h-15zM1597 1029h10v2h-10zM1581 1065h21v2h-21zM1589 1158h9v2h-9zM1574 824h10v2h-10zM1588 844h13v2h-13zM1572 1155h9v2h-9zM1577 956h26v2h-26zM1587 1035h20v2h-20zM1581 815h15v2h-15zM1577 814h8v2h-8zM1579 1098h22v2h-22zM1580 1154h18v2h-18zM1589 856h9v2h-9zM1581 823h19v2h-19zM1584 835h9v2h-9zM1581 811h17v2h-17zM1576 901h21v2h-21zM1585 869h18v2h-18zM1598 903h8v2h-8zM1578 790h15v2h-15zM1580 1015h21v2h-21zM1577 1170h15v2h-15zM1579 1017h23v2h-23zM1578 1073h24v2h-24zM1583 831h12v2h-12zM1579 934h6v2h-6zM1578 803h5v2h-5zM1573 943h23v2h-23zM1583 1059h9v2h-9zM1579 894h6v2h-6zM1575 848h12v2h-12zM1591 793h5v2h-5zM1575 1027h18v2h-18zM1572 1008h29v2h-29zM1587 1054h7v2h-7zM1581 1088h23v2h-23zM1584 806h11v2h-11zM1574 1114h15v2h-15zM1582 904h6v2h-6zM1594 831h9v2h-9zM1579 918h20v2h-20zM1575 1022h27v2h-27zM1593 826h12v2h-12zM1579 1046h19v2h-19zM1582 838h5v2h-5zM1595 806h6v2h-6zM1582 1010h14v2h-14zM1584 934h23v2h-23zM1588 947h10v2h-10zM1575 1145h12v2h-12zM1580 1060h25v2h-25zM1592 921h12v2h-12zM1585 1097h9v2h-9zM1574 912h10v2h-10zM1577 909h13v2h-13zM1574 875h18v2h-18zM1585 804h8v2h-8zM1580 867h22v2h-22zM1578 1059h6v2h-6zM1583 925h16v2h-16zM1575 1009h9v2h-9zM1590 885h17v2h-17zM1584 962h11v2h-11zM1596 1172h9v2h-9zM1603 1156h5v2h-5zM1576 891h15v2h-15zM1583 1030h19v2h-19zM1595 1122h7v2h-7zM1586 916h21v2h-21zM1574 1098h22v2h-22zM1574 1062h20v2h-20zM1573 1103h21v2h-21zM1575 962h9v2h-9zM1574 984h28v2h-28zM1572 891h12v2h-12zM1576 994h11v2h-11zM1584 1069h21v2h-21zM1591 793h10v2h-10zM1574 829h12v2h-12zM1584 801h6v2h-6zM1578 1143h8v2h-8zM1583 1137h20v2h-20zM1582 1116h22v2h-22zM1577 1096h22v2h-22zM1584 1023h23v2h-23zM1573 1135h20v2h-20z" fill="#3c6298"/>
<path d="M1574 852h19v2h-19zM1582 982h17v2h-17zM1582 1019h5v2h-5zM1579 917h11v2h-11zM1586 1052h14v2h-14zM1574 991h28v2h-28zM1580 833h20v2h-20zM1582 804h10v2h-10zM1579 1004h12v2h-12zM1586 1145h6v2h-6zM1575 1028h14v2h-14zM1576 1012h21v2h-21zM1599 1014h5v2h-5zM1588 1166h5v2h-5zM1581 928h10v2h-10zM1573 1165h9v2h-9zM1598 856h5v2h-5zM1575 823h9v2h-9zM1580 818h16v2h-16zM1578 1112h12v2h-12zM1595 1155h12v2h-12zM1573 810h18v2h-18zM1577 874h10v2h-10zM1572 1102h12v2h-12zM1584 931h19v2h-19zM1599 1139h8v2h-8zM1582 1012h20v2h-20zM1582 1074h13v2h-13zM1587 848h9v2h-9zM1584 988h5v2h-5zM1574 935h23v2h-23zM1576 1045h27v2h-27zM1590 820h11v2h-11zM1587 1032h6v2h-6zM1573 1009h4v2h-4zM1572 983h27v2h-27zM1588 816h11v2h-11zM1575 901h21v2h-21zM1585 970h6v2h-6zM1573 948h22v2h-22zM1574 854h17v2h-17zM1587 1135h15v2h-15zM1589 1015h16v2h-16zM1573 1091h22v2h-22zM1574 1017h10v2h-10zM1588 1089h17v2h-17zM1577 1168h13v2h-13zM1576 847h22v2h-22zM1576 1108h16v2h-16zM1573 905h23v2h-23zM1586 908h14v2h-14zM1580 1111h14v2h-14zM1586 909h13v2h-13zM1590 853h10v2h-10zM1579 808h11v2h-11zM1586 1122h17v2h-17zM1586 914h19v2h-19zM1572 905h7v2h-7zM1590 879h8v2h-8zM1592 1097h12v2h-12zM1577 1026h13v2h-13zM1590 821h9v2h-9zM1585 1084h9v2h-9zM1593 1139h9v2h-9zM1590 1107h9v2h-9zM1578 831h13v2h-13zM1580 955h4v2h-4zM1601 1144h6v2h-6zM1584 1128h9v2h-9zM1586 833h14v2h-14zM1575 978h6v2h-6zM1574 872h9v2h-9z" fill="#3d5c8e"/>
<path d="M1572 986h2v2h-2zM1572 991h3v2h-3zM1572 1013h4v2h-4zM1572 964h3v2h-3zM1572 1047h5v2h-5zM1572 975h3v2h-3zM1572 1014h3v2h-3zM1572 1057h4v2h-4zM1572 975h4v2h-4zM1572 1058h3v2h-3zM1572 1030h3v2h-3zM1572 1013h4v2h-4zM1572 1021h5v2h-5zM1572 986h5v2h-5zM1572 1098h3v2h-3zM1572 942h5v2h-5zM1572 1004h5v2h-5zM1572 983h2v2h-2zM1572 1045h4v2h-4zM1572 941h2v2h-2zM1572 1021h3v2h-3zM1572 1076h4v2h-4zM1572 1051h3v2h-3zM1572 1011h4v2h-4zM1572 968h4v2h-4zM1572 1089h2v2h-2zM1572 1086h3v2h-3zM1572 1021h4v2h-4zM1572 1060h4v2h-4zM1572 1061h3v2h-3zM1572 1009h4v2h-4zM1572 1080h4v2h-4zM1572 1091h2v2h-2zM1572 1100h4v2h-4zM1572 1084h3v2h-3zM1572 1071h4v2h-4zM1572 1002h3v2h-3zM1572 952h5v2h-5zM1572 975h2v2h-2zM1572 1016h2v2h-2zM1572 1015h3v2h-3zM1572 1015h2v2h-2zM1572 955h5v2h-5zM1572 1049h3v2h-3zM1572 932h4v2h-4zM1572 1052h3v2h-3zM1572 1030h4v2h-4zM1572 945h2v2h-2zM1572 1053h3v2h-3z" fill="#26a4d4"/>
<path d="M1572 955h3v2h-3zM1572 1088h4v2h-4zM1572 934h4v2h-4zM1572 1017h4v2h-4zM1572 1074h5v2h-5zM1572 991h3v2h-3zM1572 1081h2v2h-2zM1572 979h5v2h-5zM1572 997h2v2h-2zM1572 1071h3v2h-3zM1572 998h3v2h-3zM1572 1042h3v2h-3zM1572 1032h5v2h-5zM1572 1032h3v2h-3zM1572 1028h2v2h-2zM1572 989h2v2h-2zM1572 967h4v2h-4zM1572 1030h4v2h-4zM1572 1033h4v2h-4zM1572 1054h3v2h-3zM1572 1023h4v2h-4zM1572 1033h3v2h-3zM1572 954h5v2h-5zM1572 1069h3v2h-3zM1572 1094h2v2h-2zM1572 934h4v2h-4zM1572 1079h3v2h-3zM1572 944h4v2h-4zM1572 1014h2v2h-2zM1572 1029h4v2h-4zM1572 968h5v2h-5zM1572 951h4v2h-4zM1572 1097h3v2h-3zM1572 1095h5v2h-5zM1572 951h2v2h-2zM1572 1073h4v2h-4zM1572 1001h3v2h-3zM1572 1081h4v2h-4zM1572 1082h5v2h-5zM1572 1050h3v2h-3zM1572 944h4v2h-4zM1572 963h3v2h-3zM1572 942h5v2h-5zM1572 1041h5v2h-5zM1572 1028h4v2h-4zM1572 1001h5v2h-5zM1572 1069h4v2h-4zM1572 1077h5v2h-5zM1572 1033h2v2h-2zM1572 980h2v2h-2zM1572 986h3v2h-3zM1572 1010h3v2h-3zM1572 989h4v2h-4zM1572 1097h3v2h-3zM1572 937h2v2h-2zM1572 1075h5v2h-5zM1572 1100h4v2h-4zM1572 1041h2v2h-2zM1572 1065h3v2h-3zM1572 1087h3v2h-3zM1572 1088h5v2h-5z" fill="#2e86ba"/>
<path d="M1572 963h3v2h-3zM1572 986h3v2h-3zM1572 967h5v2h-5zM1572 1062h3v2h-3zM1572 1066h2v2h-2zM1572 948h3v2h-3zM1572 1064h4v2h-4zM1572 1030h4v2h-4zM1572 1014h5v2h-5zM1572 949h3v2h-3zM1572 943h4v2h-4zM1572 1014h2v2h-2zM1572 943h2v2h-2zM1572 942h5v2h-5zM1572 971h3v2h-3zM1572 1084h4v2h-4zM1572 1079h3v2h-3zM1572 1030h2v2h-2zM1572 1005h3v2h-3zM1572 943h5v2h-5zM1572 1070h2v2h-2zM1572 1011h5v2h-5zM1572 990h2v2h-2zM1572 1009h3v2h-3zM1572 1096h3v2h-3zM1572 1088h3v2h-3zM1572 1096h4v2h-4zM1572 972h3v2h-3zM1572 979h3v2h-3zM1572 1095h5v2h-5zM1572 1091h5v2h-5zM1572 1042h5v2h-5zM1572 1016h5v2h-5zM1572 1029h4v2h-4zM1572 1100h5v2h-5zM1572 963h5v2h-5zM1572 974h5v2h-5zM1572 1098h3v2h-3zM1572 1066h4v2h-4zM1572 1064h3v2h-3zM1572 953h4v2h-4zM1572 1005h2v2h-2zM1572 971h3v2h-3zM1572 1013h3v2h-3zM1572 1064h4v2h-4zM1572 1062h5v2h-5zM1572 1050h2v2h-2zM1572 1087h3v2h-3zM1572 1051h5v2h-5zM1572 1003h3v2h-3z" fill="#2894c4"/>
<ellipse cx="1650.1" cy="830.2" rx="22.0" ry="8.0" fill="#2e86ba"/>
<ellipse cx="1688.9" cy="835.8" rx="19.3" ry="5.9" fill="#4ee032"/>
<ellipse cx="1619.1" cy="861.0" rx="4.2" ry="2.1" fill="#3a70a4"/>
<ellipse cx="1620.8" cy="885.1" rx="5.2" ry="2.5" fill="#3a70a4"/>
<ellipse cx="1619.7" cy="891.3" rx="4.6" ry="2.1" fill="#3a70a4"/>
<path d="M1585.1 905 L1601.9 900.8 L1629.1 900.8 L1643.8 905 L1648 913.3 L1658.5 919.6 L1669 928 L1683.6 940.6 L1694.1 951.1 L1710.9 963.6 L1713 967.8 L1702.5 976.2 L1698.3 988.8 L1685.7 997.2 L1683.6 1005.5 L1673.1 1009.7 L1675.2 1020 L1587.2 1020 L1587.2 913.3Z" fill="#2894c4"/>
<ellipse cx="1616.6" cy="907.1" rx="29.3" ry="5.9" fill="#2cb0dc"/>
<ellipse cx="1619.7" cy="931.2" rx="33.5" ry="13.0" fill="#4ee032"/>
<ellipse cx="1632.3" cy="930.1" rx="13.0" ry="11.5" fill="#30a024"/>
<ellipse cx="1632.3" cy="930.1" rx="8.4" ry="8.4" fill="#3cbc2a"/>
<ellipse cx="1606.1" cy="930.1" rx="21.0" ry="11.5" fill="#e3e438"/>
<ellipse cx="1600.9" cy="933.7" rx="14.2" ry="5.9" fill="#c2c830"/>
<ellipse cx="1595.6" cy="933.7" rx="8.4" ry="4.2" fill="#d0ae20"/>
<ellipse cx="1625.0" cy="941.0" rx="36.7" ry="5.0" fill="#4ee032"/>
<ellipse cx="1606.1" cy="941.0" rx="16.8" ry="2.1" fill="#30a024"/>
<path d="M1589.3 946.9 L1664.8 942.7 L1677.3 946.9 L1689.9 957.3 L1698.3 967.8 L1694.1 976.2 L1689.9 988.8 L1677.3 995.1 L1591.4 997.2 L1589.3 976.2Z" fill="#4ee032"/>
<path d="M1652.2 947.9 L1683.6 947.9 L1689.9 963.6 L1685.7 980.4 L1669 988.8 L1652.2 988.8Z" fill="#30a024"/>
<ellipse cx="1629.1" cy="955.3" rx="36.7" ry="8.8" fill="#e3e438"/>
<ellipse cx="1622.9" cy="955.3" rx="29.3" ry="7.5" fill="#d0ae20"/>
<ellipse cx="1614.5" cy="955.3" rx="21.0" ry="6.3" fill="#d69719"/>
<ellipse cx="1637.5" cy="967.8" rx="33.5" ry="7.1" fill="#e3e438"/>
<ellipse cx="1643.8" cy="967.8" rx="12.6" ry="5.9" fill="#d0ae20"/>
<ellipse cx="1619.7" cy="967.2" rx="26.2" ry="6.3" fill="#ec1030"/>
<ellipse cx="1625.0" cy="967.2" rx="15.7" ry="5.0" fill="#cc0020"/>
<ellipse cx="1629.1" cy="979.4" rx="37.3" ry="6.7" fill="#e3e438"/>
<ellipse cx="1639.6" cy="979.4" rx="13.6" ry="4.2" fill="#cdd02e"/>
<ellipse cx="1631.2" cy="991.3" rx="41.9" ry="8.8" fill="#4ee032"/>
<ellipse cx="1612.4" cy="991.3" rx="19.3" ry="6.3" fill="#30a024"/>
<ellipse cx="1660.6" cy="991.3" rx="10.9" ry="6.3" fill="#30a024"/>
<ellipse cx="1639.6" cy="990.9" rx="10.5" ry="7.5" fill="#e3e438"/>
<ellipse cx="1610.3" cy="1001.8" rx="20.5" ry="5.4" fill="#4ee032"/>
<ellipse cx="1649.1" cy="1001.8" rx="6.7" ry="4.2" fill="#4ee032"/>
<ellipse cx="1635.4" cy="1022.1" rx="28.3" ry="12.6" fill="#2894c4"/>
<path d="M1574.7 1137.3 L1595.6 1137.3 L1593.5 1154.1 L1574.7 1156.2Z" fill="#3a70a4"/>
<path d="M1605 1118.5 L1609.2 1111.1 L1620.8 1109.1 L1638.6 1110.1 L1640.7 1129 L1649.1 1132.1 L1650.1 1137.3 L1639.6 1140.5 L1639.6 1146.8 L1629.1 1149.9 L1612.4 1149.9 L1605 1145.7 L1614.5 1139.4 L1603 1134.2 L1587.2 1130 L1601.9 1125.8Z" fill="#367cb0"/>
<rect x="1614.9" y="1053.5" width="8.4" height="10.5" fill="#3a70a4"/>
<rect x="1614.1" y="1061.9" width="7.3" height="8.4" fill="#3a70a4"/>
<rect x="1615.5" y="1078.7" width="7.3" height="10.5" fill="#3a70a4"/>
<rect x="1611.3" y="1093.3" width="16.8" height="8.4" fill="#3a70a4"/>
<rect x="1618.7" y="1032.6" width="4.2" height="4.2" fill="#3a70a4"/>
<rect x="1632.9" y="1178.6" width="15.1" height="2.5" fill="#367cb0"/>
<rect x="1632.9" y="1180.9" width="15.1" height="3.4" fill="#30a024"/>
<rect x="1632.9" y="1184.1" width="15.1" height="2.9" fill="#4ee032"/>
<ellipse cx="1658.9" cy="1187.2" rx="9.0" ry="2.5" fill="#2894c4"/>
<ellipse cx="1593.9" cy="1187.6" rx="6.3" ry="2.1" fill="#3a70a4"/>
<ellipse cx="1581.0" cy="1204.4" rx="7.3" ry="3.1" fill="#3a70a4"/>
<ellipse cx="1594.6" cy="1208.0" rx="10.5" ry="2.9" fill="#3a70a4"/>
<ellipse cx="1593.9" cy="1227.9" rx="9.0" ry="2.3" fill="#3a70a4"/>
<ellipse cx="1593.5" cy="1266.8" rx="10.9" ry="3.4" fill="#367cb0"/>
<ellipse cx="1671.1" cy="1538.0" rx="21.0" ry="9.0" fill="#2894c4"/>
<ellipse cx="1655.3" cy="1553.1" rx="20.3" ry="8.0" fill="#2e86ba"/>
<ellipse cx="1658.9" cy="1576.1" rx="21.0" ry="6.3" fill="#2894c4"/>
<path d="M1637.9 1570.9 L1650.1 1564.6 L1660.6 1558.3 L1677.3 1557.2 L1694.1 1561.4 L1697.2 1564.6 L1687.8 1569.8 L1679.4 1575.1 L1660.6 1578.2 L1643.8 1576.1Z" fill="#3cbc2a"/>
<ellipse cx="1654.9" cy="1613.8" rx="19.9" ry="6.3" fill="#2894c4"/>
<path d="M1637.9 1640 L1643.8 1635.8 L1660.6 1633.7 L1677.3 1634.8 L1683.6 1641.1 L1702.5 1647.3 L1704.6 1650.5 L1718.8 1650.5 L1718.8 1664.7 L1704.6 1664.7 L1694.1 1661 L1687.8 1657.8 L1664.8 1656.8 L1658.5 1649.4 L1652.2 1646.3 L1640.7 1645.2Z" fill="#2894c4"/>
<path d="M1620.6 221V1759M1670.6 221V1759" stroke="#fff" stroke-width="1.6" fill="none"/>
<text class="s" font-size="22.2" fill="#fff" transform="translate(1598.5 223) rotate(90)" xml:space="preserve">5 km</text>
<text class="s" font-size="22.2" fill="#fff" transform="translate(1648.5 223) rotate(90)" xml:space="preserve">10 km</text>
<text class="s" font-size="22.2" fill="#fff" transform="translate(1698.5 223) rotate(90)" xml:space="preserve">15 km</text>
</g>
<rect x="1721" y="220.70" width="36.5" height="120.42" fill="#88dfbd"/>
<rect x="1721" y="340.82" width="36.5" height="48.35" fill="#96e5c7"/>
<rect x="1721" y="388.88" width="36.5" height="24.32" fill="#a4ecd0"/>
<rect x="1721" y="412.90" width="36.5" height="24.32" fill="#b0eed8"/>
<rect x="1721" y="436.92" width="36.5" height="24.33" fill="#c4f2e2"/>
<rect x="1721" y="460.95" width="36.5" height="24.32" fill="#dff7ee"/>
<rect x="1721" y="484.97" width="36.5" height="24.32" fill="#ffffff"/>
<rect x="1721" y="509.00" width="36.5" height="24.33" fill="#990099"/>
<rect x="1721" y="533.02" width="36.5" height="24.32" fill="#b000b0"/>
<rect x="1721" y="557.05" width="36.5" height="24.33" fill="#cc00cc"/>
<rect x="1721" y="581.08" width="36.5" height="24.32" fill="#e600e6"/>
<rect x="1721" y="605.10" width="36.5" height="24.33" fill="#d6009a"/>
<rect x="1721" y="629.12" width="36.5" height="24.32" fill="#c0005c"/>
<rect x="1721" y="653.15" width="36.5" height="24.32" fill="#9a0000"/>
<rect x="1721" y="677.17" width="36.5" height="24.33" fill="#b0000a"/>
<rect x="1721" y="701.20" width="36.5" height="24.32" fill="#c00018"/>
<rect x="1721" y="725.22" width="36.5" height="24.33" fill="#cc0020"/>
<rect x="1721" y="749.25" width="36.5" height="24.32" fill="#ec1030"/>
<rect x="1721" y="773.27" width="36.5" height="24.33" fill="#dd7f17"/>
<rect x="1721" y="797.30" width="36.5" height="24.33" fill="#d69719"/>
<rect x="1721" y="821.33" width="36.5" height="24.32" fill="#d0ae20"/>
<rect x="1721" y="845.35" width="36.5" height="24.33" fill="#c2c830"/>
<rect x="1721" y="869.38" width="36.5" height="24.32" fill="#cdd02e"/>
<rect x="1721" y="893.40" width="36.5" height="24.33" fill="#d6d834"/>
<rect x="1721" y="917.42" width="36.5" height="24.33" fill="#e3e438"/>
<rect x="1721" y="941.45" width="36.5" height="24.32" fill="#f0ee40"/>
<rect x="1721" y="965.47" width="36.5" height="24.33" fill="#247218"/>
<rect x="1721" y="989.50" width="36.5" height="24.32" fill="#2a881e"/>
<rect x="1721" y="1013.52" width="36.5" height="24.33" fill="#30a024"/>
<rect x="1721" y="1037.55" width="36.5" height="24.33" fill="#38b026"/>
<rect x="1721" y="1061.58" width="36.5" height="24.32" fill="#3cbc2a"/>
<rect x="1721" y="1085.60" width="36.5" height="24.33" fill="#46d02e"/>
<rect x="1721" y="1109.62" width="36.5" height="24.32" fill="#4ee032"/>
<rect x="1721" y="1133.65" width="36.5" height="24.33" fill="#56f436"/>
<rect x="1721" y="1157.67" width="36.5" height="24.33" fill="#2cb0dc"/>
<rect x="1721" y="1181.70" width="36.5" height="24.32" fill="#26a4d4"/>
<rect x="1721" y="1205.72" width="36.5" height="48.35" fill="#2894c4"/>
<rect x="1721" y="1253.78" width="36.5" height="48.35" fill="#2e86ba"/>
<rect x="1721" y="1301.83" width="36.5" height="48.35" fill="#367cb0"/>
<rect x="1721" y="1349.88" width="36.5" height="72.38" fill="#3a70a4"/>
<rect x="1721" y="1421.95" width="36.5" height="72.37" fill="#3c6298"/>
<rect x="1721" y="1494.02" width="36.5" height="72.38" fill="#3d5888"/>
<rect x="1721" y="1566.10" width="36.5" height="72.38" fill="#3c4e7c"/>
<rect x="1721" y="1638.17" width="36.5" height="120.42" fill="#3c406e"/>
<rect x="20" y="64" width="1549" height="154" fill="none" stroke="#000" stroke-width="2.3"/>
<rect x="20" y="220" width="1549" height="1540" fill="none" stroke="#000" stroke-width="2.3"/>
<rect x="1570" y="220" width="150" height="1540" fill="none" stroke="#000" stroke-width="2.3"/>
<rect x="1720" y="220" width="38" height="1540" fill="none" stroke="#000" stroke-width="2.3"/>
<path d="M1759 1687.8h9M1759 1607.6h9M1759 1527.4h9M1759 1447.2h9M1759 1366.9h9M1759 1286.7h9M1759 1206.5h9M1759 1126.2h9M1759 1046.0h9M1759 965.8h9M1759 885.5h9M1759 805.3h9M1759 725.1h9M1759 644.8h9M1759 564.6h9M1759 484.4h9M1759 404.2h9M1759 323.9h9M1759 243.7h9" stroke="#000" stroke-width="2" fill="none"/>
<text class="s" x="1777" y="1700.1" font-size="28" fill="#000">−15</text>
<text class="s" x="1777" y="1619.9" font-size="28" fill="#000">−10</text>
<text class="s" x="1777" y="1539.7" font-size="28" fill="#000">−5</text>
<text class="s" x="1777" y="1459.5" font-size="28" fill="#000">0</text>
<text class="s" x="1777" y="1379.2" font-size="28" fill="#000">5</text>
<text class="s" x="1777" y="1299.0" font-size="28" fill="#000">10</text>
<text class="s" x="1777" y="1218.8" font-size="28" fill="#000">15</text>
<text class="s" x="1777" y="1138.5" font-size="28" fill="#000">20</text>
<text class="s" x="1777" y="1058.3" font-size="28" fill="#000">25</text>
<text class="s" x="1777" y="978.1" font-size="28" fill="#000">30</text>
<text class="s" x="1777" y="897.8" font-size="28" fill="#000">35</text>
<text class="s" x="1777" y="817.6" font-size="28" fill="#000">40</text>
<text class="s" x="1777" y="737.4" font-size="28" fill="#000">45</text>
<text class="s" x="1777" y="657.1" font-size="28" fill="#000">50</text>
<text class="s" x="1777" y="576.9" font-size="28" fill="#000">55</text>
<text class="s" x="1777" y="496.7" font-size="28" fill="#000">60</text>
<text class="s" x="1777" y="416.5" font-size="28" fill="#000">65</text>
<text class="s" x="1777" y="336.2" font-size="28" fill="#000">70</text>
<text class="s" x="1777" y="256.0" font-size="28" fill="#000">75</text>
<circle cx="104.1" cy="1833.8" r="37.8" fill="none" stroke="#ffb200" stroke-width="18.8"/>
<path d="M96.4 1817.4 L113.5 1812.2 L130.2 1812.2 L146.8 1815.9 L159.4 1814.7 L176.1 1809 L176.1 1857 L166.7 1850.8 L159.4 1853.5 L146.8 1854.3 L130.2 1851.4 L115.6 1850.1 L103 1853.3 L96.4 1855.6Z" fill="#e6e6e6"/>
<path d="M99.3 1819.5C101.6 1816.5 108.3 1815.5 113.5 1814.7C118.6 1813.9 124.6 1814.0 130.2 1814.7C135.7 1815.3 142.0 1818.0 146.8 1818.4C151.7 1818.9 156.1 1818.1 159.4 1817.4C162.7 1816.6 165.5 1811.7 166.7 1813.8C167.9 1815.9 168.6 1826.7 166.7 1829.9C164.8 1833.1 159.9 1833.0 155.2 1833.0C150.5 1833.0 144.1 1830.9 138.5 1829.9C132.9 1828.9 127.0 1827.4 121.8 1827.2C116.6 1827.0 111.0 1828.0 107.2 1828.9C103.4 1829.8 100.6 1834.2 99.3 1832.6C98.0 1831.0 96.9 1822.5 99.3 1819.5Z" fill="#0092d4"/>
<path d="M99.3 1840.3C101.6 1837.6 108.7 1837.0 113.5 1836.2C118.3 1835.3 123.2 1834.8 128.1 1835.1C132.9 1835.5 137.8 1837.8 142.7 1838.2C147.5 1838.7 153.3 1838.2 157.3 1837.6C161.3 1837.0 165.1 1833.0 166.7 1834.7C168.2 1836.4 167.9 1845.0 166.7 1847.6C165.5 1850.3 162.7 1850.1 159.4 1850.8C156.1 1851.5 151.7 1852.2 146.8 1851.8C142.0 1851.5 135.4 1849.4 130.2 1848.7C124.9 1848.0 120.1 1847.3 115.6 1847.6C111.0 1848.0 105.7 1849.9 103.0 1850.8C100.3 1851.6 99.9 1854.6 99.3 1852.9C98.6 1851.1 96.9 1843.1 99.3 1840.3Z" fill="#0092d4"/>
<text class="ls" font-size="28.5" fill="#1d1d1b" stroke="#1d1d1b" stroke-width="0.35" x="178" y="1807.6" textLength="113" lengthAdjust="spacingAndGlyphs">Servicio</text>
<text class="ls" font-size="28.5" fill="#1d1d1b" stroke="#1d1d1b" stroke-width="0.35" x="178" y="1834.1" textLength="202" lengthAdjust="spacingAndGlyphs">Meteorológico</text>
<text class="ls" font-size="28.5" fill="#1d1d1b" stroke="#1d1d1b" stroke-width="0.35" x="178" y="1860.6" textLength="120" lengthAdjust="spacingAndGlyphs">Nacional</text>
<text class="ls" font-size="17.5" fill="#1d1d1b" stroke="#1d1d1b" stroke-width="0.45" x="180" y="1880.7" textLength="93" lengthAdjust="spacingAndGlyphs">Argentina</text>
<path d="M524.9 1798.3L508.6 1803.0M524.7 1797.4L511.9 1799.5M524.6 1796.4L507.6 1797.2M524.6 1795.4L511.6 1794.5M524.7 1794.5L508.0 1791.4M525.0 1793.5L512.6 1789.7M525.3 1792.6L509.8 1785.7M525.8 1791.7L514.6 1785.1M526.3 1790.9L512.7 1780.7M526.9 1790.1L517.5 1781.2M527.7 1789.5L516.8 1776.4M528.5 1788.9L521.4 1778.0M529.3 1788.4L521.7 1773.2M530.2 1788.0L525.8 1775.8M531.2 1787.7L527.3 1771.2M532.1 1787.6L530.6 1774.6M533.1 1787.5L533.1 1770.5M534.1 1787.6L535.6 1774.6M535.0 1787.7L538.9 1771.2M536.0 1788.0L540.4 1775.8M536.9 1788.4L544.5 1773.2M537.7 1788.9L544.8 1778.0M538.5 1789.5L549.4 1776.4M539.3 1790.1L548.7 1781.2M539.9 1790.9L553.5 1780.7M540.4 1791.7L551.6 1785.1M540.9 1792.6L556.4 1785.7M541.2 1793.5L553.6 1789.7M541.5 1794.5L558.2 1791.4M541.6 1795.4L554.6 1794.5M541.6 1796.4L558.6 1797.2M541.5 1797.4L554.3 1799.5M541.3 1798.3L557.6 1803.0" stroke="#3b4669" stroke-width="0.95" fill="none"/><circle cx="533.1" cy="1796.0" r="7.6" fill="#e6e6e6" stroke="#3b4669" stroke-width="1.1"/><path d="M528.1 1795.0h3M535.1 1795.0h3M533.1 1796.0v3" stroke="#3b4669" stroke-width="1.1"/><ellipse cx="533.1" cy="1840.0" rx="33.2" ry="41.4" fill="#e6e6e6" stroke="#3b4669" stroke-width="6" stroke-dasharray="2 1.9"/><ellipse cx="533.1" cy="1840.0" rx="33.2" ry="41.4" fill="none" stroke="#e6e6e6" stroke-width="1.8" stroke-dasharray="1.4 1.6"/><ellipse cx="533.1" cy="1840.0" rx="28.6" ry="38.6" fill="#e6e6e6" stroke="#3b4669" stroke-width="1.5"/><path d="M518.3 1808.0H547.9M514.6 1812.0H551.6M511.9 1816.0H554.3M509.8 1820.0H556.4M508.3 1824.0H557.9M507.1 1828.0H559.1M506.3 1832.0H559.9M505.9 1836.0H560.3M505.7 1840.0H560.5" stroke="#3b4669" stroke-width="0.7" fill="none"/><path d="M506.1 1850.0Q523.1 1842.0 533.1 1846.0Q543.1 1842.0 560.1 1850.0" stroke="#3b4669" stroke-width="0.9" fill="none"/><path d="M510.1 1862.0L526.1 1853.0L533.1 1857.0L540.1 1853.0L556.1 1862.0" stroke="#3b4669" stroke-width="1" fill="none"/><path d="M533.1 1828.0V1873.0" stroke="#3b4669" stroke-width="1.8"/><path d="M525.1 1855.0q4 -4 8 -1q4 -3 8 1q-3 5 -8 4q-5 1 -8 -4z" fill="#e6e6e6" stroke="#3b4669" stroke-width="0.9"/><path d="M524.1 1828.0q-2 -9 4 -13q7 -4 12 2q4 5 3 12q-2 3 -6 0q-6 -3 -13 -1z" fill="#e6e6e6" stroke="#3b4669" stroke-width="1.2"/><path d="M528.6 1883.0h9v5h-9z" fill="#3b4669"/><path d="M530.1 1888.0L522.1 1895.0L526.1 1896.0M536.1 1888.0L544.1 1895.0L540.1 1896.0" stroke="#3b4669" stroke-width="2.2" fill="none" stroke-linejoin="round"/>
<path d="M886.1 1798.3L869.8 1803.0M885.9 1797.4L873.1 1799.5M885.8 1796.4L868.8 1797.2M885.8 1795.4L872.8 1794.5M885.9 1794.5L869.2 1791.4M886.2 1793.5L873.8 1789.7M886.5 1792.6L871.0 1785.7M887.0 1791.7L875.8 1785.1M887.5 1790.9L873.9 1780.7M888.1 1790.1L878.7 1781.2M888.9 1789.5L878.0 1776.4M889.7 1788.9L882.6 1778.0M890.5 1788.4L882.9 1773.2M891.4 1788.0L887.0 1775.8M892.4 1787.7L888.5 1771.2M893.3 1787.6L891.8 1774.6M894.3 1787.5L894.3 1770.5M895.3 1787.6L896.8 1774.6M896.2 1787.7L900.1 1771.2M897.2 1788.0L901.6 1775.8M898.1 1788.4L905.7 1773.2M898.9 1788.9L906.0 1778.0M899.7 1789.5L910.6 1776.4M900.5 1790.1L909.9 1781.2M901.1 1790.9L914.7 1780.7M901.6 1791.7L912.8 1785.1M902.1 1792.6L917.6 1785.7M902.4 1793.5L914.8 1789.7M902.7 1794.5L919.4 1791.4M902.8 1795.4L915.8 1794.5M902.8 1796.4L919.8 1797.2M902.7 1797.4L915.5 1799.5M902.5 1798.3L918.8 1803.0" stroke="#3b4669" stroke-width="0.95" fill="none"/><circle cx="894.3" cy="1796.0" r="7.6" fill="#e6e6e6" stroke="#3b4669" stroke-width="1.1"/><path d="M889.3 1795.0h3M896.3 1795.0h3M894.3 1796.0v3" stroke="#3b4669" stroke-width="1.1"/><ellipse cx="894.3" cy="1840.0" rx="33.2" ry="41.4" fill="#e6e6e6" stroke="#3b4669" stroke-width="6" stroke-dasharray="2 1.9"/><ellipse cx="894.3" cy="1840.0" rx="33.2" ry="41.4" fill="none" stroke="#e6e6e6" stroke-width="1.8" stroke-dasharray="1.4 1.6"/><ellipse cx="894.3" cy="1840.0" rx="28.6" ry="38.6" fill="#e6e6e6" stroke="#3b4669" stroke-width="1.5"/><path d="M879.5 1808.0H909.1M875.8 1812.0H912.8M873.1 1816.0H915.5M871.0 1820.0H917.6M869.5 1824.0H919.1M868.3 1828.0H920.3M867.5 1832.0H921.1M867.1 1836.0H921.5M866.9 1840.0H921.7" stroke="#3b4669" stroke-width="0.7" fill="none"/><path d="M867.3 1850.0Q884.3 1842.0 894.3 1846.0Q904.3 1842.0 921.3 1850.0" stroke="#3b4669" stroke-width="0.9" fill="none"/><path d="M871.3 1862.0L887.3 1853.0L894.3 1857.0L901.3 1853.0L917.3 1862.0" stroke="#3b4669" stroke-width="1" fill="none"/><path d="M894.3 1828.0V1873.0" stroke="#3b4669" stroke-width="1.8"/><path d="M886.3 1855.0q4 -4 8 -1q4 -3 8 1q-3 5 -8 4q-5 1 -8 -4z" fill="#e6e6e6" stroke="#3b4669" stroke-width="0.9"/><path d="M885.3 1828.0q-2 -9 4 -13q7 -4 12 2q4 5 3 12q-2 3 -6 0q-6 -3 -13 -1z" fill="#e6e6e6" stroke="#3b4669" stroke-width="1.2"/><path d="M889.8 1883.0h9v5h-9z" fill="#3b4669"/><path d="M891.3 1888.0L883.3 1895.0L887.3 1896.0M897.3 1888.0L905.3 1895.0L901.3 1896.0" stroke="#3b4669" stroke-width="2.2" fill="none" stroke-linejoin="round"/>
<text class="lr" font-weight="bold" font-size="27.8" fill="#232d4f" x="583" y="1827.6" textLength="132" lengthAdjust="spacingAndGlyphs">Ministerio</text>
<text class="lr" font-weight="bold" font-size="27.8" fill="#232d4f" x="583" y="1853.2" textLength="133" lengthAdjust="spacingAndGlyphs">de Defensa</text>
<text class="lr" font-size="16.5" fill="#232d4f" stroke="#232d4f" stroke-width="0.3" x="583.5" y="1873.5" textLength="150" lengthAdjust="spacingAndGlyphs">República Argentina</text>
<text class="lr" font-weight="bold" font-size="27.8" fill="#232d4f" x="946" y="1827.3" textLength="135" lengthAdjust="spacingAndGlyphs">Ministerio</text>
<text class="lr" font-weight="bold" font-size="27.8" fill="#232d4f" x="946" y="1852.8" textLength="162.5" lengthAdjust="spacingAndGlyphs">de Economía</text>
<text class="lr" font-size="16.5" fill="#232d4f" stroke="#232d4f" stroke-width="0.3" x="946.5" y="1873.5" textLength="152.5" lengthAdjust="spacingAndGlyphs">República Argentina</text>
</svg>
</body></html>
